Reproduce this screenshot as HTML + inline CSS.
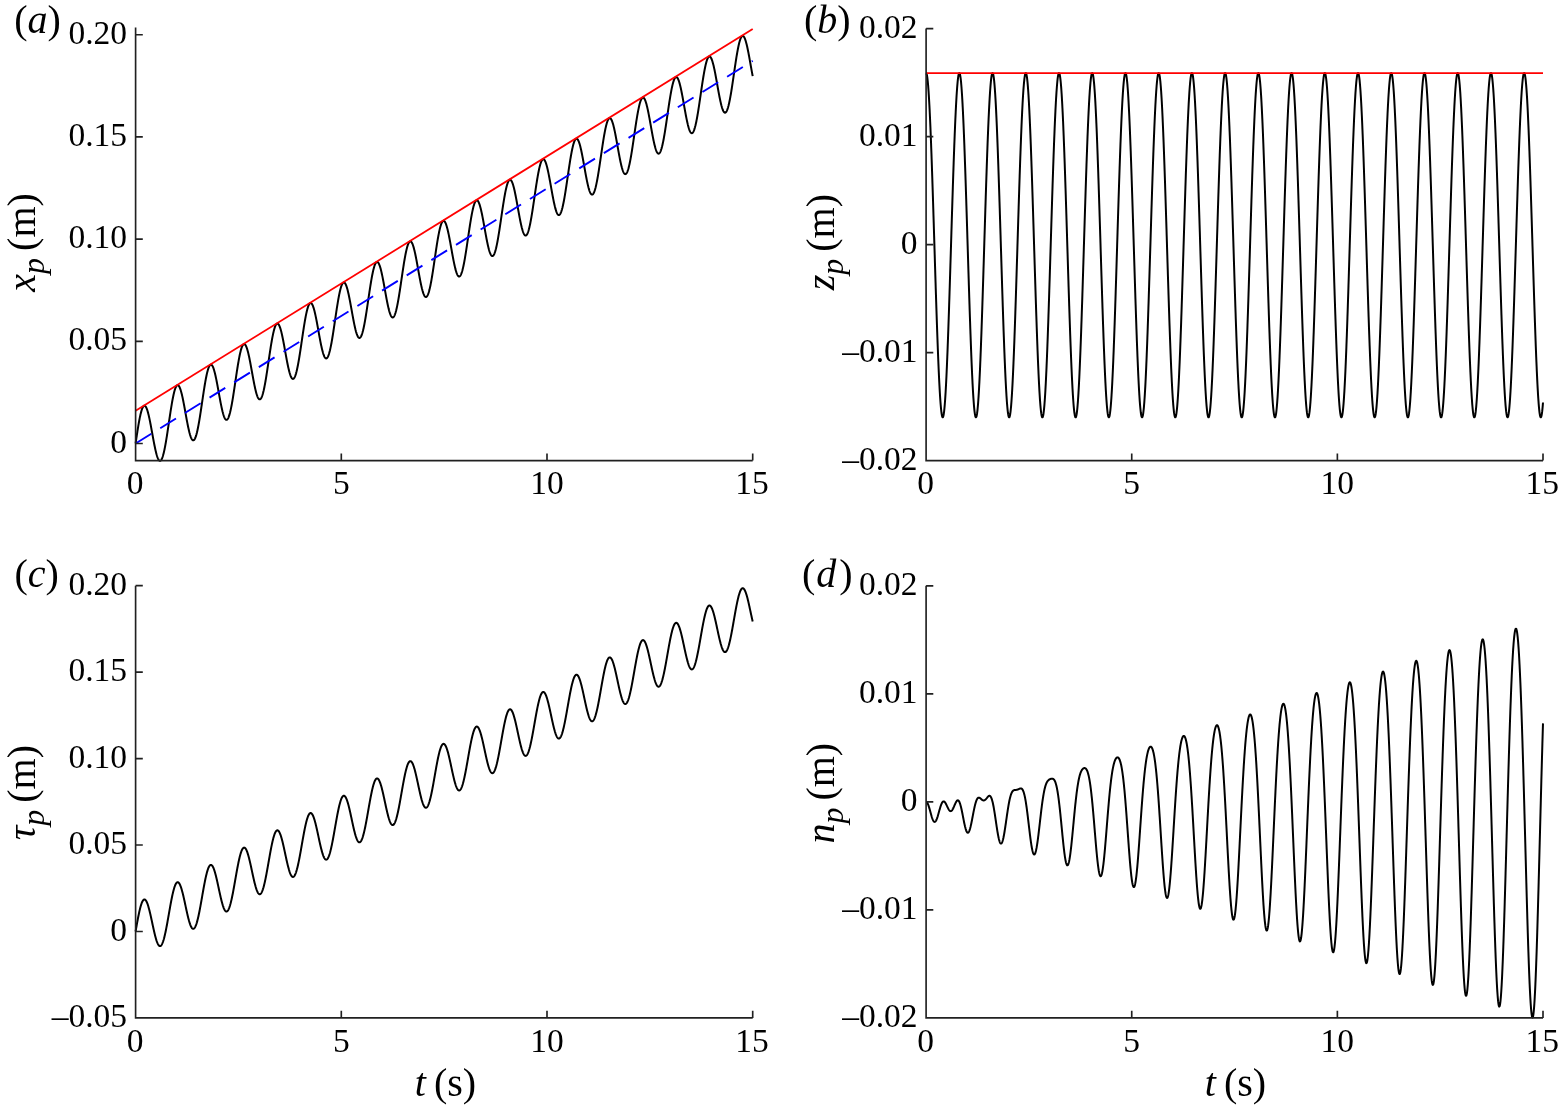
<!DOCTYPE html>
<html lang="en"><head><meta charset="utf-8"><title>Figure</title>
<style>html,body{margin:0;padding:0;background:#fff}svg{display:block}text{font-family:"Liberation Serif","Times New Roman",serif;fill:#000}.tk{font-size:33.5px}.pl{font-size:40px}.al{font-size:40px}.i{font-style:italic}.ax{stroke:#202020;stroke-width:1.65;fill:none}.cv{stroke:#000;stroke-width:2;fill:none;stroke-linejoin:round}</style></head><body>
<svg width="1559" height="1108" viewBox="0 0 1559 1108">
<rect width="1559" height="1108" fill="#fff"/>
<polyline class="cv" points="135.60,443.50 135.81,442.11 136.01,440.72 136.22,439.34 136.42,437.96 136.63,436.59 136.83,435.22 137.04,433.87 137.25,432.54 137.45,431.21 137.66,429.91 137.86,428.62 138.07,427.35 138.27,426.11 138.48,424.89 138.69,423.69 138.89,422.53 139.10,421.39 139.30,420.28 139.51,419.20 139.71,418.15 139.92,417.14 140.13,416.17 140.33,415.23 140.54,414.33 140.74,413.47 140.95,412.66 141.15,411.88 141.36,411.14 141.57,410.45 141.77,409.81 141.98,409.20 142.18,408.65 142.39,408.14 142.59,407.68 142.80,407.26 143.01,406.90 143.21,406.58 143.42,406.31 143.62,406.09 143.83,405.92 144.03,405.80 144.24,405.72 144.45,405.70 144.65,405.73 144.86,405.80 145.06,405.92 145.27,406.09 145.47,406.31 145.68,406.57 145.88,406.88 146.09,407.24 146.30,407.64 146.50,408.09 146.71,408.58 146.91,409.11 147.12,409.68 147.32,410.30 147.53,410.95 147.74,411.64 147.94,412.37 148.15,413.13 148.35,413.93 148.56,414.76 148.76,415.63 148.97,416.52 149.18,417.44 149.38,418.38 149.59,419.36 149.79,420.35 150.00,421.37 150.20,422.41 150.41,423.46 150.62,424.53 150.82,425.62 151.03,426.72 151.23,427.83 151.44,428.95 151.64,430.08 151.85,431.21 152.06,432.35 152.26,433.48 152.47,434.62 152.67,435.76 152.88,436.89 153.08,438.01 153.29,439.13 153.50,440.23 153.70,441.33 153.91,442.41 154.11,443.47 154.32,444.52 154.52,445.55 154.73,446.56 154.94,447.55 155.14,448.51 155.35,449.45 155.55,450.36 155.76,451.24 155.96,452.08 156.17,452.90 156.38,453.69 156.58,454.44 156.79,455.15 156.99,455.82 157.20,456.46 157.40,457.06 157.61,457.62 157.82,458.13 158.02,458.60 158.23,459.03 158.43,459.42 158.64,459.75 158.84,460.05 159.05,460.29 159.26,460.49 159.46,460.64 159.67,460.74 159.87,460.80 160.08,460.80 160.28,460.76 160.49,460.66 160.70,460.52 160.90,460.33 161.11,460.09 161.31,459.80 161.52,459.46 161.72,459.08 161.93,458.64 162.14,458.16 162.34,457.63 162.55,457.06 162.75,456.44 162.96,455.77 163.16,455.06 163.37,454.31 163.58,453.51 163.78,452.68 163.99,451.80 164.19,450.89 164.40,449.93 164.60,448.94 164.81,447.92 165.02,446.86 165.22,445.77 165.43,444.64 165.63,443.49 165.84,442.31 166.04,441.10 166.25,439.87 166.45,438.62 166.66,437.34 166.87,436.05 167.07,434.73 167.28,433.40 167.48,432.06 167.69,430.70 167.89,429.33 168.10,427.96 168.31,426.58 168.51,425.19 168.72,423.80 168.92,422.41 169.13,421.01 169.33,419.63 169.54,418.24 169.75,416.86 169.95,415.50 170.16,414.14 170.36,412.79 170.57,411.46 170.77,410.14 170.98,408.84 171.19,407.56 171.39,406.30 171.60,405.07 171.80,403.86 172.01,402.67 172.21,401.51 172.42,400.39 172.63,399.29 172.83,398.22 173.04,397.19 173.24,396.20 173.45,395.24 173.65,394.31 173.86,393.43 174.07,392.59 174.27,391.79 174.48,391.03 174.68,390.31 174.89,389.64 175.09,389.01 175.30,388.42 175.51,387.89 175.71,387.40 175.92,386.96 176.12,386.56 176.33,386.22 176.53,385.92 176.74,385.67 176.95,385.47 177.15,385.32 177.36,385.22 177.56,385.17 177.77,385.16 177.97,385.21 178.18,385.30 178.39,385.44 178.59,385.64 178.80,385.87 179.00,386.16 179.21,386.49 179.41,386.87 179.62,387.29 179.83,387.75 180.03,388.26 180.24,388.81 180.44,389.40 180.65,390.03 180.85,390.70 181.06,391.41 181.27,392.15 181.47,392.93 181.68,393.75 181.88,394.59 182.09,395.47 182.29,396.37 182.50,397.30 182.71,398.26 182.91,399.25 183.12,400.25 183.32,401.28 183.53,402.33 183.73,403.39 183.94,404.47 184.15,405.56 184.35,406.67 184.56,407.79 184.76,408.91 184.97,410.04 185.17,411.18 185.38,412.31 185.59,413.45 185.79,414.59 186.00,415.72 186.20,416.85 186.41,417.98 186.61,419.09 186.82,420.19 187.02,421.28 187.23,422.36 187.44,423.42 187.64,424.46 187.85,425.48 188.05,426.48 188.26,427.46 188.46,428.41 188.67,429.34 188.88,430.24 189.08,431.11 189.29,431.94 189.49,432.75 189.70,433.52 189.90,434.25 190.11,434.95 190.32,435.61 190.52,436.24 190.73,436.82 190.93,437.36 191.14,437.85 191.34,438.31 191.55,438.72 191.76,439.08 191.96,439.40 192.17,439.68 192.37,439.90 192.58,440.08 192.78,440.21 192.99,440.29 193.20,440.33 193.40,440.31 193.61,440.25 193.81,440.13 194.02,439.97 194.22,439.76 194.43,439.50 194.64,439.19 194.84,438.83 195.05,438.42 195.25,437.97 195.46,437.47 195.66,436.92 195.87,436.32 196.08,435.68 196.28,435.00 196.49,434.27 196.69,433.50 196.90,432.69 197.10,431.83 197.31,430.94 197.52,430.01 197.72,429.04 197.93,428.03 198.13,426.99 198.34,425.92 198.54,424.81 198.75,423.67 198.96,422.51 199.16,421.32 199.37,420.10 199.57,418.85 199.78,417.59 199.98,416.30 200.19,415.00 200.40,413.68 200.60,412.34 200.81,410.99 201.01,409.63 201.22,408.25 201.42,406.87 201.63,405.49 201.84,404.10 202.04,402.70 202.25,401.31 202.45,399.92 202.66,398.53 202.86,397.15 203.07,395.77 203.28,394.41 203.48,393.05 203.69,391.71 203.89,390.38 204.10,389.07 204.30,387.78 204.51,386.51 204.72,385.26 204.92,384.03 205.13,382.83 205.33,381.65 205.54,380.51 205.74,379.39 205.95,378.31 206.16,377.25 206.36,376.24 206.57,375.25 206.77,374.31 206.98,373.40 207.18,372.54 207.39,371.71 207.59,370.92 207.80,370.18 208.01,369.48 208.21,368.83 208.42,368.22 208.62,367.65 208.83,367.14 209.03,366.67 209.24,366.24 209.45,365.87 209.65,365.54 209.86,365.26 210.06,365.04 210.27,364.86 210.47,364.73 210.68,364.65 210.89,364.62 211.09,364.63 211.30,364.70 211.50,364.81 211.71,364.98 211.91,365.19 212.12,365.45 212.33,365.75 212.53,366.10 212.74,366.50 212.94,366.94 213.15,367.42 213.35,367.95 213.56,368.52 213.77,369.13 213.97,369.77 214.18,370.46 214.38,371.18 214.59,371.94 214.79,372.74 215.00,373.57 215.21,374.43 215.41,375.31 215.62,376.23 215.82,377.18 216.03,378.15 216.23,379.14 216.44,380.16 216.65,381.20 216.85,382.25 217.06,383.32 217.26,384.41 217.47,385.51 217.67,386.62 217.88,387.74 218.09,388.87 218.29,390.00 218.50,391.14 218.70,392.28 218.91,393.42 219.11,394.56 219.32,395.69 219.53,396.82 219.73,397.94 219.94,399.05 220.14,400.15 220.35,401.24 220.55,402.31 220.76,403.36 220.97,404.40 221.17,405.41 221.38,406.40 221.58,407.37 221.79,408.32 221.99,409.23 222.20,410.12 222.41,410.97 222.61,411.80 222.82,412.59 223.02,413.35 223.23,414.07 223.43,414.75 223.64,415.40 223.85,416.00 224.05,416.57 224.26,417.09 224.46,417.57 224.67,418.01 224.87,418.40 225.08,418.74 225.29,419.05 225.49,419.30 225.70,419.51 225.90,419.66 226.11,419.78 226.31,419.84 226.52,419.85 226.73,419.81 226.93,419.73 227.14,419.60 227.34,419.41 227.55,419.18 227.75,418.90 227.96,418.57 228.16,418.19 228.37,417.76 228.58,417.29 228.78,416.76 228.99,416.19 229.19,415.58 229.40,414.92 229.60,414.22 229.81,413.47 230.02,412.68 230.22,411.85 230.43,410.98 230.63,410.07 230.84,409.12 231.04,408.13 231.25,407.11 231.46,406.05 231.66,404.97 231.87,403.85 232.07,402.70 232.28,401.52 232.48,400.31 232.69,399.08 232.90,397.83 233.10,396.56 233.31,395.26 233.51,393.95 233.72,392.62 233.92,391.27 234.13,389.92 234.34,388.55 234.54,387.17 234.75,385.79 234.95,384.40 235.16,383.00 235.36,381.61 235.57,380.21 235.78,378.82 235.98,377.44 236.19,376.05 236.39,374.68 236.60,373.32 236.80,371.97 237.01,370.63 237.22,369.31 237.42,368.00 237.63,366.72 237.83,365.45 238.04,364.21 238.24,363.00 238.45,361.80 238.66,360.64 238.86,359.50 239.07,358.40 239.27,357.33 239.48,356.29 239.68,355.29 239.89,354.32 240.10,353.39 240.30,352.50 240.51,351.65 240.71,350.84 240.92,350.07 241.12,349.34 241.33,348.66 241.54,348.02 241.74,347.43 241.95,346.89 242.15,346.39 242.36,345.94 242.56,345.54 242.77,345.18 242.98,344.88 243.18,344.62 243.39,344.41 243.59,344.25 243.80,344.14 244.00,344.09 244.21,344.07 244.42,344.11 244.62,344.20 244.83,344.34 245.03,344.52 245.24,344.75 245.44,345.03 245.65,345.35 245.86,345.72 246.06,346.14 246.27,346.60 246.47,347.10 246.68,347.64 246.88,348.23 247.09,348.86 247.30,349.52 247.50,350.23 247.71,350.97 247.91,351.74 248.12,352.55 248.32,353.39 248.53,354.27 248.74,355.17 248.94,356.10 249.15,357.06 249.35,358.04 249.56,359.04 249.76,360.07 249.97,361.11 250.17,362.18 250.38,363.26 250.59,364.35 250.79,365.46 251.00,366.58 251.20,367.70 251.41,368.83 251.61,369.97 251.82,371.11 252.03,372.25 252.23,373.39 252.44,374.53 252.64,375.66 252.85,376.79 253.05,377.91 253.26,379.01 253.47,380.11 253.67,381.19 253.88,382.26 254.08,383.30 254.29,384.33 254.49,385.34 254.70,386.32 254.91,387.28 255.11,388.21 255.32,389.12 255.52,389.99 255.73,390.84 255.93,391.65 256.14,392.43 256.35,393.17 256.55,393.88 256.76,394.54 256.96,395.17 257.17,395.76 257.37,396.31 257.58,396.82 257.79,397.28 257.99,397.70 258.20,398.07 258.40,398.40 258.61,398.68 258.81,398.91 259.02,399.10 259.23,399.24 259.43,399.33 259.64,399.37 259.84,399.36 260.05,399.31 260.25,399.20 260.46,399.05 260.67,398.84 260.87,398.59 261.08,398.29 261.28,397.94 261.49,397.54 261.69,397.09 261.90,396.59 262.11,396.05 262.31,395.46 262.52,394.83 262.72,394.15 262.93,393.43 263.13,392.66 263.34,391.85 263.55,391.01 263.75,390.12 263.96,389.19 264.16,388.22 264.37,387.22 264.57,386.18 264.78,385.11 264.99,384.01 265.19,382.88 265.40,381.71 265.60,380.52 265.81,379.31 266.01,378.07 266.22,376.80 266.43,375.52 266.63,374.21 266.84,372.89 267.04,371.55 267.25,370.20 267.45,368.84 267.66,367.47 267.87,366.08 268.07,364.70 268.28,363.30 268.48,361.91 268.69,360.51 268.89,359.12 269.10,357.73 269.31,356.34 269.51,354.96 269.72,353.59 269.92,352.23 270.13,350.88 270.33,349.55 270.54,348.24 270.74,346.94 270.95,345.66 271.16,344.40 271.36,343.17 271.57,341.96 271.77,340.78 271.98,339.63 272.18,338.51 272.39,337.41 272.60,336.36 272.80,335.33 273.01,334.34 273.21,333.39 273.42,332.47 273.62,331.60 273.83,330.76 274.04,329.97 274.24,329.22 274.45,328.51 274.65,327.85 274.86,327.23 275.06,326.66 275.27,326.13 275.48,325.65 275.68,325.22 275.89,324.84 276.09,324.51 276.30,324.22 276.50,323.98 276.71,323.80 276.92,323.66 277.12,323.57 277.33,323.53 277.53,323.54 277.74,323.60 277.94,323.71 278.15,323.86 278.36,324.07 278.56,324.32 278.77,324.62 278.97,324.96 279.18,325.35 279.38,325.79 279.59,326.26 279.80,326.79 280.00,327.35 280.21,327.95 280.41,328.60 280.62,329.28 280.82,330.00 281.03,330.75 281.24,331.55 281.44,332.37 281.65,333.23 281.85,334.11 282.06,335.03 282.26,335.97 282.47,336.94 282.68,337.93 282.88,338.95 283.09,339.98 283.29,341.04 283.50,342.11 283.70,343.20 283.91,344.30 284.12,345.41 284.32,346.53 284.53,347.66 284.73,348.80 284.94,349.94 285.14,351.08 285.35,352.22 285.56,353.36 285.76,354.50 285.97,355.63 286.17,356.76 286.38,357.87 286.58,358.97 286.79,360.07 287.00,361.14 287.20,362.20 287.41,363.24 287.61,364.26 287.82,365.26 288.02,366.23 288.23,367.18 288.44,368.10 288.64,369.00 288.85,369.86 289.05,370.69 289.26,371.49 289.46,372.26 289.67,372.99 289.88,373.68 290.08,374.33 290.29,374.94 290.49,375.52 290.70,376.05 290.90,376.53 291.11,376.98 291.31,377.38 291.52,377.73 291.73,378.04 291.93,378.31 292.14,378.52 292.34,378.69 292.55,378.81 292.75,378.88 292.96,378.90 293.17,378.87 293.37,378.79 293.58,378.67 293.78,378.49 293.99,378.27 294.19,377.99 294.40,377.67 294.61,377.30 294.81,376.88 295.02,376.41 295.22,375.89 295.43,375.33 295.63,374.72 295.84,374.07 296.05,373.37 296.25,372.63 296.46,371.85 296.66,371.02 296.87,370.15 297.07,369.25 297.28,368.30 297.49,367.32 297.69,366.30 297.90,365.25 298.10,364.17 298.31,363.05 298.51,361.90 298.72,360.73 298.93,359.52 299.13,358.29 299.34,357.04 299.54,355.77 299.75,354.47 299.95,353.16 300.16,351.83 300.37,350.49 300.57,349.13 300.78,347.76 300.98,346.38 301.19,345.00 301.39,343.60 301.60,342.21 301.81,340.81 302.01,339.41 302.22,338.02 302.42,336.63 302.63,335.24 302.83,333.87 303.04,332.50 303.25,331.15 303.45,329.80 303.66,328.48 303.86,327.17 304.07,325.88 304.27,324.61 304.48,323.36 304.69,322.13 304.89,320.94 305.10,319.77 305.30,318.62 305.51,317.51 305.71,316.43 305.92,315.39 306.13,314.38 306.33,313.40 306.54,312.46 306.74,311.56 306.95,310.71 307.15,309.89 307.36,309.11 307.57,308.38 307.77,307.69 307.98,307.04 308.18,306.44 308.39,305.89 308.59,305.38 308.80,304.93 309.01,304.51 309.21,304.15 309.42,303.84 309.62,303.57 309.83,303.36 310.03,303.19 310.24,303.07 310.44,303.01 310.65,302.99 310.86,303.02 311.06,303.10 311.27,303.23 311.47,303.40 311.68,303.63 311.88,303.90 312.09,304.22 312.30,304.58 312.50,304.99 312.71,305.44 312.91,305.94 313.12,306.48 313.32,307.06 313.53,307.68 313.74,308.34 313.94,309.04 314.15,309.78 314.35,310.55 314.56,311.36 314.76,312.19 314.97,313.06 315.18,313.96 315.38,314.89 315.59,315.85 315.79,316.83 316.00,317.83 316.20,318.86 316.41,319.90 316.62,320.97 316.82,322.05 317.03,323.14 317.23,324.25 317.44,325.36 317.64,326.49 317.85,327.63 318.06,328.76 318.26,329.91 318.47,331.05 318.67,332.19 318.88,333.33 319.08,334.47 319.29,335.60 319.50,336.72 319.70,337.83 319.91,338.93 320.11,340.02 320.32,341.09 320.52,342.14 320.73,343.18 320.94,344.19 321.14,345.18 321.35,346.14 321.55,347.08 321.76,347.99 321.96,348.88 322.17,349.73 322.38,350.55 322.58,351.33 322.79,352.08 322.99,352.80 323.20,353.47 323.40,354.11 323.61,354.71 323.82,355.26 324.02,355.78 324.23,356.25 324.43,356.67 324.64,357.06 324.84,357.39 325.05,357.68 325.26,357.92 325.46,358.12 325.67,358.27 325.87,358.36 326.08,358.41 326.28,358.42 326.49,358.37 326.70,358.27 326.90,358.12 327.11,357.93 327.31,357.68 327.52,357.38 327.72,357.04 327.93,356.65 328.14,356.21 328.34,355.72 328.55,355.18 328.75,354.60 328.96,353.97 329.16,353.30 329.37,352.59 329.58,351.82 329.78,351.02 329.99,350.18 330.19,349.29 330.40,348.37 330.60,347.41 330.81,346.41 331.01,345.38 331.22,344.31 331.43,343.21 331.63,342.08 331.84,340.92 332.04,339.73 332.25,338.52 332.45,337.28 332.66,336.01 332.87,334.73 333.07,333.43 333.28,332.11 333.48,330.77 333.69,329.42 333.89,328.05 334.10,326.68 334.31,325.29 334.51,323.90 334.72,322.51 334.92,321.11 335.13,319.71 335.33,318.32 335.54,316.92 335.75,315.53 335.95,314.15 336.16,312.78 336.36,311.41 336.57,310.06 336.77,308.72 336.98,307.40 337.19,306.10 337.39,304.82 337.60,303.55 337.80,302.31 338.01,301.10 338.21,299.91 338.42,298.75 338.63,297.62 338.83,296.52 339.04,295.46 339.24,294.42 339.45,293.43 339.65,292.47 339.86,291.55 340.07,290.66 340.27,289.82 340.48,289.02 340.68,288.26 340.89,287.54 341.09,286.87 341.30,286.25 341.51,285.66 341.71,285.13 341.92,284.64 342.12,284.20 342.33,283.81 342.53,283.47 342.74,283.18 342.95,282.93 343.15,282.74 343.36,282.59 343.56,282.50 343.77,282.45 343.97,282.45 344.18,282.50 344.39,282.60 344.59,282.75 344.80,282.95 345.00,283.19 345.21,283.49 345.41,283.82 345.62,284.21 345.83,284.64 346.03,285.11 346.24,285.62 346.44,286.18 346.65,286.78 346.85,287.42 347.06,288.10 347.27,288.81 347.47,289.56 347.68,290.35 347.88,291.17 348.09,292.03 348.29,292.91 348.50,293.82 348.71,294.76 348.91,295.73 349.12,296.72 349.32,297.74 349.53,298.77 349.73,299.83 349.94,300.90 350.15,301.98 350.35,303.09 350.56,304.20 350.76,305.32 350.97,306.45 351.17,307.59 351.38,308.73 351.59,309.88 351.79,311.02 352.00,312.17 352.20,313.31 352.41,314.44 352.61,315.57 352.82,316.69 353.02,317.80 353.23,318.89 353.44,319.97 353.64,321.04 353.85,322.08 354.05,323.11 354.26,324.11 354.46,325.09 354.67,326.05 354.88,326.98 355.08,327.88 355.29,328.75 355.49,329.59 355.70,330.39 355.90,331.16 356.11,331.90 356.32,332.60 356.52,333.26 356.73,333.88 356.93,334.46 357.14,335.00 357.34,335.50 357.55,335.95 357.76,336.36 357.96,336.72 358.17,337.04 358.37,337.31 358.58,337.53 358.78,337.71 358.99,337.84 359.20,337.91 359.40,337.94 359.61,337.92 359.81,337.86 360.02,337.74 360.22,337.57 360.43,337.35 360.64,337.08 360.84,336.77 361.05,336.40 361.25,335.99 361.46,335.53 361.66,335.02 361.87,334.47 362.08,333.86 362.28,333.22 362.49,332.53 362.69,331.79 362.90,331.01 363.10,330.19 363.31,329.33 363.52,328.43 363.72,327.49 363.93,326.51 364.13,325.50 364.34,324.45 364.54,323.36 364.75,322.25 364.96,321.11 365.16,319.93 365.37,318.73 365.57,317.51 365.78,316.25 365.98,314.98 366.19,313.69 366.40,312.38 366.60,311.05 366.81,309.70 367.01,308.34 367.22,306.97 367.42,305.59 367.63,304.21 367.84,302.81 368.04,301.42 368.25,300.02 368.45,298.62 368.66,297.22 368.86,295.82 369.07,294.44 369.28,293.06 369.48,291.68 369.69,290.32 369.89,288.98 370.10,287.65 370.30,286.33 370.51,285.03 370.72,283.76 370.92,282.50 371.13,281.27 371.33,280.07 371.54,278.89 371.74,277.74 371.95,276.63 372.15,275.54 372.36,274.49 372.57,273.47 372.77,272.49 372.98,271.54 373.18,270.63 373.39,269.77 373.59,268.94 373.80,268.16 374.01,267.41 374.21,266.72 374.42,266.06 374.62,265.46 374.83,264.89 375.03,264.38 375.24,263.91 375.45,263.49 375.65,263.12 375.86,262.80 376.06,262.53 376.27,262.30 376.47,262.13 376.68,262.00 376.89,261.93 377.09,261.90 377.30,261.93 377.50,262.00 377.71,262.12 377.91,262.29 378.12,262.51 378.33,262.77 378.53,263.08 378.74,263.44 378.94,263.84 379.15,264.29 379.35,264.78 379.56,265.32 379.77,265.89 379.97,266.51 380.18,267.16 380.38,267.86 380.59,268.59 380.79,269.36 381.00,270.16 381.21,271.00 381.41,271.86 381.62,272.76 381.82,273.69 382.03,274.64 382.23,275.62 382.44,276.62 382.65,277.64 382.85,278.69 383.06,279.75 383.26,280.83 383.47,281.93 383.67,283.03 383.88,284.15 384.09,285.28 384.29,286.42 384.50,287.56 384.70,288.70 384.91,289.85 385.11,290.99 385.32,292.14 385.53,293.28 385.73,294.41 385.94,295.54 386.14,296.65 386.35,297.76 386.55,298.85 386.76,299.92 386.97,300.98 387.17,302.02 387.38,303.04 387.58,304.03 387.79,305.01 387.99,305.95 388.20,306.87 388.41,307.76 388.61,308.62 388.82,309.44 389.02,310.24 389.23,310.99 389.43,311.71 389.64,312.40 389.85,313.04 390.05,313.65 390.26,314.21 390.46,314.73 390.67,315.21 390.87,315.65 391.08,316.04 391.29,316.38 391.49,316.68 391.70,316.93 391.90,317.14 392.11,317.29 392.31,317.40 392.52,317.46 392.73,317.46 392.93,317.42 393.14,317.33 393.34,317.20 393.55,317.01 393.75,316.77 393.96,316.48 394.16,316.14 394.37,315.76 394.58,315.33 394.78,314.84 394.99,314.32 395.19,313.74 395.40,313.12 395.60,312.45 395.81,311.74 396.02,310.99 396.22,310.19 396.43,309.35 396.63,308.47 396.84,307.55 397.04,306.60 397.25,305.60 397.46,304.57 397.66,303.51 397.87,302.41 398.07,301.28 398.28,300.13 398.48,298.94 398.69,297.73 398.90,296.49 399.10,295.23 399.31,293.94 399.51,292.64 399.72,291.32 399.92,289.98 400.13,288.63 400.34,287.27 400.54,285.89 400.75,284.51 400.95,283.11 401.16,281.72 401.36,280.32 401.57,278.92 401.78,277.52 401.98,276.12 402.19,274.73 402.39,273.34 402.60,271.96 402.80,270.59 403.01,269.24 403.22,267.90 403.42,266.57 403.63,265.26 403.83,263.97 404.04,262.70 404.24,261.46 404.45,260.24 404.66,259.04 404.86,257.88 405.07,256.74 405.27,255.63 405.48,254.56 405.68,253.52 405.89,252.52 406.10,251.55 406.30,250.62 406.51,249.73 406.71,248.88 406.92,248.07 407.12,247.30 407.33,246.58 407.54,245.90 407.74,245.26 407.95,244.67 408.15,244.13 408.36,243.64 408.56,243.19 408.77,242.79 408.98,242.44 409.18,242.14 409.39,241.88 409.59,241.68 409.80,241.53 410.00,241.42 410.21,241.37 410.42,241.36 410.62,241.41 410.83,241.50 411.03,241.64 411.24,241.83 411.44,242.07 411.65,242.35 411.86,242.69 412.06,243.06 412.27,243.49 412.47,243.95 412.68,244.46 412.88,245.01 413.09,245.61 413.29,246.24 413.50,246.92 413.71,247.63 413.91,248.38 414.12,249.16 414.32,249.98 414.53,250.83 414.73,251.71 414.94,252.62 415.15,253.56 415.35,254.52 415.56,255.51 415.76,256.52 415.97,257.56 416.17,258.61 416.38,259.68 416.59,260.77 416.79,261.87 417.00,262.99 417.20,264.11 417.41,265.24 417.61,266.38 417.82,267.53 418.03,268.67 418.23,269.82 418.44,270.97 418.64,272.11 418.85,273.25 419.05,274.38 419.26,275.51 419.47,276.62 419.67,277.72 419.88,278.80 420.08,279.87 420.29,280.92 420.49,281.96 420.70,282.97 420.91,283.95 421.11,284.91 421.32,285.85 421.52,286.76 421.73,287.63 421.93,288.48 422.14,289.29 422.35,290.07 422.55,290.82 422.76,291.52 422.96,292.19 423.17,292.82 423.37,293.41 423.58,293.96 423.79,294.46 423.99,294.92 424.20,295.34 424.40,295.71 424.61,296.04 424.81,296.31 425.02,296.55 425.23,296.73 425.43,296.86 425.64,296.95 425.84,296.99 426.05,296.98 426.25,296.92 426.46,296.81 426.67,296.65 426.87,296.44 427.08,296.18 427.28,295.87 427.49,295.51 427.69,295.11 427.90,294.65 428.11,294.15 428.31,293.60 428.52,293.01 428.72,292.36 428.93,291.68 429.13,290.95 429.34,290.18 429.55,289.36 429.75,288.50 429.96,287.61 430.16,286.67 430.37,285.70 430.57,284.69 430.78,283.64 430.99,282.56 431.19,281.45 431.40,280.31 431.60,279.14 431.81,277.94 432.01,276.72 432.22,275.47 432.43,274.20 432.63,272.90 432.84,271.59 433.04,270.26 433.25,268.92 433.45,267.56 433.66,266.19 433.87,264.81 434.07,263.42 434.28,262.02 434.48,260.62 434.69,259.22 434.89,257.82 435.10,256.42 435.30,255.02 435.51,253.63 435.72,252.24 435.92,250.87 436.13,249.50 436.33,248.15 436.54,246.82 436.74,245.50 436.95,244.19 437.16,242.91 437.36,241.65 437.57,240.42 437.77,239.21 437.98,238.02 438.18,236.87 438.39,235.74 438.60,234.65 438.80,233.59 439.01,232.56 439.21,231.57 439.42,230.62 439.62,229.70 439.83,228.83 440.04,227.99 440.24,227.20 440.45,226.45 440.65,225.75 440.86,225.08 441.06,224.47 441.27,223.90 441.48,223.38 441.68,222.90 441.89,222.47 442.09,222.09 442.30,221.76 442.50,221.48 442.71,221.25 442.92,221.07 443.12,220.93 443.33,220.85 443.53,220.82 443.74,220.83 443.94,220.90 444.15,221.01 444.36,221.17 444.56,221.38 444.77,221.64 444.97,221.95 445.18,222.30 445.38,222.70 445.59,223.14 445.80,223.62 446.00,224.15 446.21,224.72 446.41,225.33 446.62,225.99 446.82,226.68 447.03,227.40 447.24,228.17 447.44,228.97 447.65,229.80 447.85,230.66 448.06,231.56 448.26,232.48 448.47,233.43 448.68,234.41 448.88,235.41 449.09,236.43 449.29,237.48 449.50,238.54 449.70,239.62 449.91,240.71 450.12,241.82 450.32,242.94 450.53,244.07 450.73,245.21 450.94,246.35 451.14,247.50 451.35,248.65 451.56,249.79 451.76,250.94 451.97,252.08 452.17,253.22 452.38,254.35 452.58,255.47 452.79,256.58 453.00,257.68 453.20,258.76 453.41,259.82 453.61,260.86 453.82,261.89 454.02,262.89 454.23,263.87 454.43,264.82 454.64,265.74 454.85,266.64 455.05,267.50 455.26,268.34 455.46,269.14 455.67,269.90 455.87,270.63 456.08,271.32 456.29,271.98 456.49,272.59 456.70,273.16 456.90,273.69 457.11,274.18 457.31,274.62 457.52,275.02 457.73,275.37 457.93,275.68 458.14,275.94 458.34,276.15 458.55,276.31 458.75,276.43 458.96,276.50 459.17,276.51 459.37,276.48 459.58,276.40 459.78,276.27 459.99,276.09 460.19,275.86 460.40,275.58 460.61,275.25 460.81,274.87 461.02,274.44 461.22,273.97 461.43,273.45 461.63,272.88 461.84,272.26 462.05,271.60 462.25,270.90 462.46,270.15 462.66,269.36 462.87,268.52 463.07,267.65 463.28,266.73 463.49,265.78 463.69,264.79 463.90,263.77 464.10,262.71 464.31,261.61 464.51,260.49 464.72,259.33 464.93,258.15 465.13,256.94 465.34,255.70 465.54,254.44 465.75,253.16 465.95,251.86 466.16,250.54 466.37,249.20 466.57,247.85 466.78,246.48 466.98,245.10 467.19,243.72 467.39,242.33 467.60,240.93 467.81,239.53 468.01,238.12 468.22,236.72 468.42,235.32 468.63,233.92 468.83,232.53 469.04,231.15 469.25,229.78 469.45,228.42 469.66,227.07 469.86,225.74 470.07,224.42 470.27,223.13 470.48,221.86 470.69,220.60 470.89,219.38 471.10,218.18 471.30,217.00 471.51,215.86 471.71,214.75 471.92,213.67 472.13,212.62 472.33,211.61 472.54,210.63 472.74,209.69 472.95,208.79 473.15,207.94 473.36,207.12 473.57,206.34 473.77,205.61 473.98,204.92 474.18,204.28 474.39,203.68 474.59,203.13 474.80,202.63 475.00,202.17 475.21,201.77 475.42,201.41 475.62,201.10 475.83,200.84 476.03,200.62 476.24,200.46 476.44,200.35 476.65,200.29 476.86,200.28 477.06,200.31 477.27,200.40 477.47,200.53 477.68,200.71 477.88,200.95 478.09,201.22 478.30,201.55 478.50,201.92 478.71,202.34 478.91,202.80 479.12,203.30 479.32,203.85 479.53,204.44 479.74,205.07 479.94,205.74 480.15,206.44 480.35,207.19 480.56,207.97 480.76,208.78 480.97,209.63 481.18,210.51 481.38,211.41 481.59,212.35 481.79,213.31 482.00,214.30 482.20,215.31 482.41,216.35 482.62,217.40 482.82,218.47 483.03,219.56 483.23,220.66 483.44,221.77 483.64,222.90 483.85,224.03 484.06,225.17 484.26,226.32 484.47,227.47 484.67,228.62 484.88,229.77 485.08,230.92 485.29,232.06 485.50,233.19 485.70,234.32 485.91,235.44 486.11,236.54 486.32,237.63 486.52,238.71 486.73,239.76 486.94,240.80 487.14,241.82 487.35,242.81 487.55,243.78 487.76,244.72 487.96,245.63 488.17,246.52 488.38,247.37 488.58,248.19 488.79,248.98 488.99,249.73 489.20,250.44 489.40,251.12 489.61,251.76 489.82,252.35 490.02,252.91 490.23,253.42 490.43,253.89 490.64,254.32 490.84,254.69 491.05,255.03 491.26,255.32 491.46,255.56 491.67,255.75 491.87,255.89 492.08,255.99 492.28,256.03 492.49,256.03 492.70,255.98 492.90,255.87 493.11,255.72 493.31,255.52 493.52,255.27 493.72,254.97 493.93,254.62 494.14,254.22 494.34,253.77 494.55,253.28 494.75,252.73 494.96,252.15 495.16,251.51 495.37,250.83 495.58,250.11 495.78,249.34 495.99,248.53 496.19,247.68 496.40,246.79 496.60,245.85 496.81,244.88 497.01,243.88 497.22,242.84 497.43,241.76 497.63,240.65 497.84,239.52 498.04,238.35 498.25,237.15 498.45,235.93 498.66,234.68 498.87,233.41 499.07,232.12 499.28,230.81 499.48,229.48 499.69,228.13 499.89,226.77 500.10,225.40 500.31,224.02 500.51,222.63 500.72,221.23 500.92,219.83 501.13,218.43 501.33,217.02 501.54,215.62 501.75,214.22 501.95,212.82 502.16,211.43 502.36,210.05 502.57,208.69 502.77,207.33 502.98,205.99 503.19,204.66 503.39,203.36 503.60,202.07 503.80,200.80 504.01,199.56 504.21,198.34 504.42,197.15 504.63,195.99 504.83,194.86 505.04,193.76 505.24,192.69 505.45,191.66 505.65,190.66 505.86,189.70 506.07,188.78 506.27,187.89 506.48,187.05 506.68,186.25 506.89,185.49 507.09,184.78 507.30,184.11 507.51,183.48 507.71,182.90 507.92,182.37 508.12,181.89 508.33,181.45 508.53,181.07 508.74,180.73 508.95,180.44 509.15,180.20 509.36,180.01 509.56,179.87 509.77,179.78 509.97,179.73 510.18,179.74 510.39,179.80 510.59,179.91 510.80,180.06 511.00,180.26 511.21,180.52 511.41,180.81 511.62,181.16 511.83,181.55 512.03,181.99 512.24,182.47 512.44,182.99 512.65,183.55 512.85,184.16 513.06,184.81 513.27,185.49 513.47,186.22 513.68,186.98 513.88,187.77 514.09,188.60 514.29,189.46 514.50,190.35 514.71,191.28 514.91,192.22 515.12,193.20 515.32,194.20 515.53,195.22 515.73,196.26 515.94,197.33 516.14,198.40 516.35,199.50 516.56,200.61 516.76,201.73 516.97,202.86 517.17,204.00 517.38,205.14 517.58,206.29 517.79,207.44 518.00,208.59 518.20,209.74 518.41,210.89 518.61,212.03 518.82,213.16 519.02,214.29 519.23,215.40 519.44,216.50 519.64,217.59 519.85,218.66 520.05,219.71 520.26,220.73 520.46,221.74 520.67,222.73 520.88,223.68 521.08,224.62 521.29,225.52 521.49,226.39 521.70,227.23 521.90,228.04 522.11,228.81 522.32,229.55 522.52,230.25 522.73,230.91 522.93,231.53 523.14,232.11 523.34,232.65 523.55,233.14 523.76,233.59 523.96,234.00 524.17,234.36 524.37,234.68 524.58,234.94 524.78,235.16 524.99,235.34 525.20,235.46 525.40,235.53 525.61,235.56 525.81,235.54 526.02,235.46 526.22,235.34 526.43,235.17 526.64,234.94 526.84,234.67 527.05,234.35 527.25,233.98 527.46,233.56 527.66,233.09 527.87,232.58 528.08,232.01 528.28,231.41 528.49,230.75 528.69,230.05 528.90,229.31 529.10,228.52 529.31,227.69 529.52,226.82 529.72,225.91 529.93,224.97 530.13,223.98 530.34,222.96 530.54,221.90 530.75,220.81 530.96,219.69 531.16,218.54 531.37,217.36 531.57,216.15 531.78,214.91 531.98,213.65 532.19,212.37 532.40,211.07 532.60,209.75 532.81,208.41 533.01,207.06 533.22,205.70 533.42,204.32 533.63,202.93 533.84,201.54 534.04,200.14 534.25,198.73 534.45,197.33 534.66,195.92 534.86,194.52 535.07,193.12 535.28,191.72 535.48,190.34 535.69,188.96 535.89,187.60 536.10,186.24 536.30,184.91 536.51,183.59 536.72,182.29 536.92,181.01 537.13,179.75 537.33,178.52 537.54,177.31 537.74,176.13 537.95,174.98 538.15,173.86 538.36,172.77 538.57,171.72 538.77,170.70 538.98,169.72 539.18,168.77 539.39,167.86 539.59,167.00 539.80,166.17 540.01,165.39 540.21,164.65 540.42,163.95 540.62,163.30 540.83,162.69 541.03,162.14 541.24,161.62 541.45,161.16 541.65,160.74 541.86,160.38 542.06,160.06 542.27,159.79 542.47,159.57 542.68,159.40 542.89,159.28 543.09,159.21 543.30,159.19 543.50,159.22 543.71,159.30 543.91,159.42 544.12,159.60 544.33,159.82 544.53,160.09 544.74,160.41 544.94,160.78 545.15,161.19 545.35,161.64 545.56,162.14 545.77,162.68 545.97,163.27 546.18,163.89 546.38,164.56 546.59,165.26 546.79,166.00 547.00,166.77 547.21,167.58 547.41,168.43 547.62,169.30 547.82,170.21 548.03,171.14 548.23,172.10 548.44,173.09 548.65,174.10 548.85,175.13 549.06,176.19 549.26,177.26 549.47,178.34 549.67,179.45 549.88,180.56 550.09,181.69 550.29,182.82 550.50,183.96 550.70,185.11 550.91,186.26 551.11,187.42 551.32,188.57 551.53,189.72 551.73,190.86 551.94,192.00 552.14,193.13 552.35,194.26 552.55,195.36 552.76,196.46 552.97,197.54 553.17,198.60 553.38,199.64 553.58,200.67 553.79,201.67 553.99,202.64 554.20,203.59 554.41,204.51 554.61,205.40 554.82,206.26 555.02,207.09 555.23,207.88 555.43,208.64 555.64,209.36 555.85,210.05 556.05,210.69 556.26,211.30 556.46,211.86 556.67,212.38 556.87,212.86 557.08,213.29 557.28,213.68 557.49,214.02 557.70,214.32 557.90,214.56 558.11,214.76 558.31,214.92 558.52,215.02 558.72,215.07 558.93,215.08 559.14,215.03 559.34,214.94 559.55,214.79 559.75,214.60 559.96,214.36 560.16,214.06 560.37,213.72 560.58,213.33 560.78,212.89 560.99,212.40 561.19,211.87 561.40,211.28 561.60,210.66 561.81,209.98 562.02,209.26 562.22,208.50 562.43,207.70 562.63,206.85 562.84,205.96 563.04,205.04 563.25,204.07 563.46,203.07 563.66,202.03 563.87,200.96 564.07,199.86 564.28,198.72 564.48,197.55 564.69,196.36 564.90,195.14 565.10,193.89 565.31,192.62 565.51,191.33 565.72,190.02 565.92,188.69 566.13,187.35 566.34,185.99 566.54,184.62 566.75,183.23 566.95,181.84 567.16,180.44 567.36,179.04 567.57,177.63 567.78,176.23 567.98,174.82 568.19,173.42 568.39,172.02 568.60,170.62 568.80,169.24 569.01,167.87 569.22,166.51 569.42,165.16 569.63,163.83 569.83,162.52 570.04,161.22 570.24,159.95 570.45,158.70 570.66,157.48 570.86,156.28 571.07,155.12 571.27,153.98 571.48,152.87 571.68,151.79 571.89,150.75 572.10,149.75 572.30,148.78 572.51,147.85 572.71,146.96 572.92,146.11 573.12,145.30 573.33,144.53 573.54,143.81 573.74,143.13 573.95,142.50 574.15,141.91 574.36,141.37 574.56,140.88 574.77,140.44 574.98,140.04 575.18,139.69 575.39,139.40 575.59,139.15 575.80,138.95 576.00,138.80 576.21,138.70 576.42,138.65 576.62,138.65 576.83,138.70 577.03,138.80 577.24,138.95 577.44,139.15 577.65,139.39 577.86,139.68 578.06,140.02 578.27,140.40 578.47,140.83 578.68,141.31 578.88,141.83 579.09,142.39 579.29,142.99 579.50,143.63 579.71,144.31 579.91,145.03 580.12,145.79 580.32,146.58 580.53,147.40 580.73,148.26 580.94,149.15 581.15,150.07 581.35,151.02 581.56,151.99 581.76,152.99 581.97,154.01 582.17,155.05 582.38,156.11 582.59,157.19 582.79,158.29 583.00,159.39 583.20,160.52 583.41,161.65 583.61,162.79 583.82,163.93 584.03,165.08 584.23,166.24 584.44,167.39 584.64,168.54 584.85,169.69 585.05,170.84 585.26,171.98 585.47,173.10 585.67,174.22 585.88,175.33 586.08,176.42 586.29,177.49 586.49,178.55 586.70,179.58 586.91,180.59 587.11,181.58 587.32,182.55 587.52,183.49 587.73,184.40 587.93,185.28 588.14,186.12 588.35,186.94 588.55,187.72 588.76,188.46 588.96,189.17 589.17,189.84 589.37,190.47 589.58,191.06 589.79,191.60 589.99,192.11 590.20,192.56 590.40,192.98 590.61,193.35 590.81,193.67 591.02,193.95 591.23,194.18 591.43,194.36 591.64,194.49 591.84,194.57 592.05,194.61 592.25,194.59 592.46,194.52 592.67,194.41 592.87,194.24 593.08,194.03 593.28,193.76 593.49,193.45 593.69,193.09 593.90,192.67 594.11,192.21 594.31,191.70 594.52,191.15 594.72,190.55 594.93,189.90 595.13,189.21 595.34,188.47 595.55,187.69 595.75,186.86 595.96,186.00 596.16,185.10 596.37,184.15 596.57,183.17 596.78,182.15 596.99,181.10 597.19,180.01 597.40,178.89 597.60,177.74 597.81,176.56 598.01,175.36 598.22,174.12 598.42,172.87 598.63,171.59 598.84,170.29 599.04,168.97 599.25,167.63 599.45,166.28 599.66,164.91 599.86,163.53 600.07,162.14 600.28,160.75 600.48,159.35 600.69,157.94 600.89,156.53 601.10,155.12 601.30,153.72 601.51,152.31 601.72,150.92 601.92,149.53 602.13,148.15 602.33,146.78 602.54,145.42 602.74,144.08 602.95,142.75 603.16,141.45 603.36,140.16 603.57,138.90 603.77,137.66 603.98,136.45 604.18,135.26 604.39,134.10 604.60,132.98 604.80,131.88 605.01,130.82 605.21,129.79 605.42,128.80 605.62,127.85 605.83,126.93 606.04,126.06 606.24,125.22 606.45,124.43 606.65,123.68 606.86,122.98 607.06,122.32 607.27,121.71 607.48,121.14 607.68,120.62 607.89,120.15 608.09,119.72 608.30,119.35 608.50,119.02 608.71,118.74 608.92,118.52 609.12,118.34 609.33,118.21 609.53,118.13 609.74,118.10 609.94,118.13 610.15,118.20 610.36,118.32 610.56,118.48 610.77,118.70 610.97,118.97 611.18,119.28 611.38,119.64 611.59,120.04 611.80,120.49 612.00,120.98 612.21,121.52 612.41,122.10 612.62,122.72 612.82,123.38 613.03,124.07 613.24,124.81 613.44,125.58 613.65,126.39 613.85,127.23 614.06,128.10 614.26,129.00 614.47,129.94 614.68,130.89 614.88,131.88 615.09,132.89 615.29,133.92 615.50,134.97 615.70,136.04 615.91,137.13 616.12,138.23 616.32,139.35 616.53,140.47 616.73,141.61 616.94,142.75 617.14,143.90 617.35,145.06 617.56,146.21 617.76,147.37 617.97,148.52 618.17,149.67 618.38,150.81 618.58,151.95 618.79,153.07 619.00,154.19 619.20,155.29 619.41,156.37 619.61,157.44 619.82,158.49 620.02,159.51 620.23,160.52 620.43,161.50 620.64,162.45 620.85,163.38 621.05,164.28 621.26,165.15 621.46,165.98 621.67,166.78 621.87,167.55 622.08,168.28 622.29,168.97 622.49,169.62 622.70,170.24 622.90,170.81 623.11,171.34 623.31,171.82 623.52,172.26 623.73,172.66 623.93,173.01 624.14,173.32 624.34,173.57 624.55,173.78 624.75,173.94 624.96,174.05 625.17,174.11 625.37,174.13 625.58,174.09 625.78,174.00 625.99,173.87 626.19,173.68 626.40,173.45 626.61,173.16 626.81,172.82 627.02,172.44 627.22,172.01 627.43,171.53 627.63,171.00 627.84,170.42 628.05,169.80 628.25,169.13 628.46,168.42 628.66,167.66 628.87,166.86 629.07,166.02 629.28,165.14 629.49,164.22 629.69,163.26 629.90,162.26 630.10,161.23 630.31,160.16 630.51,159.06 630.72,157.92 630.93,156.76 631.13,155.57 631.34,154.35 631.54,153.11 631.75,151.84 631.95,150.55 632.16,149.24 632.37,147.91 632.57,146.56 632.78,145.20 632.98,143.83 633.19,142.45 633.39,141.05 633.60,139.65 633.81,138.25 634.01,136.84 634.22,135.43 634.42,134.02 634.63,132.61 634.83,131.21 635.04,129.82 635.25,128.43 635.45,127.05 635.66,125.69 635.86,124.33 636.07,123.00 636.27,121.68 636.48,120.38 636.69,119.10 636.89,117.85 637.10,116.62 637.30,115.42 637.51,114.24 637.71,113.10 637.92,111.98 638.13,110.90 638.33,109.85 638.54,108.84 638.74,107.86 638.95,106.92 639.15,106.02 639.36,105.17 639.57,104.35 639.77,103.57 639.98,102.84 640.18,102.16 640.39,101.52 640.59,100.92 640.80,100.37 641.00,99.87 641.21,99.42 641.42,99.02 641.62,98.66 641.83,98.36 642.03,98.10 642.24,97.89 642.44,97.74 642.65,97.63 642.86,97.57 643.06,97.56 643.27,97.61 643.47,97.70 643.68,97.84 643.88,98.03 644.09,98.27 644.30,98.55 644.50,98.88 644.71,99.26 644.91,99.68 645.12,100.15 645.32,100.66 645.53,101.22 645.74,101.82 645.94,102.45 646.15,103.13 646.35,103.84 646.56,104.60 646.76,105.38 646.97,106.21 647.18,107.06 647.38,107.95 647.59,108.86 647.79,109.81 648.00,110.78 648.20,111.78 648.41,112.79 648.62,113.84 648.82,114.90 649.03,115.98 649.23,117.07 649.44,118.18 649.64,119.30 649.85,120.43 650.06,121.58 650.26,122.72 650.47,123.88 650.67,125.03 650.88,126.19 651.08,127.34 651.29,128.50 651.50,129.65 651.70,130.79 651.91,131.92 652.11,133.04 652.32,134.15 652.52,135.25 652.73,136.32 652.94,137.38 653.14,138.43 653.35,139.45 653.55,140.44 653.76,141.41 653.96,142.36 654.17,143.27 654.38,144.16 654.58,145.01 654.79,145.84 654.99,146.62 655.20,147.38 655.40,148.09 655.61,148.77 655.82,149.40 656.02,150.00 656.23,150.55 656.43,151.07 656.64,151.53 656.84,151.96 657.05,152.33 657.26,152.67 657.46,152.95 657.67,153.19 657.87,153.38 658.08,153.52 658.28,153.61 658.49,153.65 658.70,153.64 658.90,153.58 659.11,153.48 659.31,153.32 659.52,153.11 659.72,152.85 659.93,152.55 660.13,152.19 660.34,151.79 660.55,151.33 660.75,150.83 660.96,150.28 661.16,149.69 661.37,149.05 661.57,148.36 661.78,147.63 661.99,146.85 662.19,146.03 662.40,145.17 662.60,144.27 662.81,143.34 663.01,142.36 663.22,141.34 663.43,140.30 663.63,139.21 663.84,138.10 664.04,136.95 664.25,135.77 664.45,134.57 664.66,133.34 664.87,132.08 665.07,130.80 665.28,129.50 665.48,128.18 665.69,126.85 665.89,125.49 666.10,124.13 666.31,122.75 666.51,121.36 666.72,119.96 666.92,118.56 667.13,117.15 667.33,115.74 667.54,114.33 667.75,112.92 667.95,111.51 668.16,110.11 668.36,108.72 668.57,107.33 668.77,105.96 668.98,104.60 669.19,103.25 669.39,101.92 669.60,100.61 669.80,99.32 670.01,98.05 670.21,96.80 670.42,95.58 670.63,94.39 670.83,93.23 671.04,92.09 671.24,90.99 671.45,89.92 671.65,88.89 671.86,87.89 672.07,86.93 672.27,86.00 672.48,85.12 672.68,84.28 672.89,83.48 673.09,82.72 673.30,82.01 673.51,81.34 673.71,80.72 673.92,80.15 674.12,79.62 674.33,79.14 674.53,78.70 674.74,78.32 674.95,77.98 675.15,77.70 675.36,77.46 675.56,77.28 675.77,77.14 675.97,77.06 676.18,77.02 676.39,77.03 676.59,77.10 676.80,77.21 677.00,77.37 677.21,77.58 677.41,77.84 677.62,78.14 677.83,78.50 678.03,78.89 678.24,79.34 678.44,79.82 678.65,80.35 678.85,80.93 679.06,81.54 679.27,82.20 679.47,82.89 679.68,83.62 679.88,84.39 680.09,85.19 680.29,86.03 680.50,86.90 680.71,87.80 680.91,88.73 681.12,89.69 681.32,90.67 681.53,91.68 681.73,92.71 681.94,93.76 682.14,94.83 682.35,95.91 682.56,97.02 682.76,98.13 682.97,99.26 683.17,100.40 683.38,101.54 683.58,102.70 683.79,103.85 684.00,105.01 684.20,106.17 684.41,107.32 684.61,108.47 684.82,109.62 685.02,110.76 685.23,111.89 685.44,113.01 685.64,114.11 685.85,115.20 686.05,116.27 686.26,117.33 686.46,118.36 686.67,119.37 686.88,120.36 687.08,121.32 687.29,122.25 687.49,123.16 687.70,124.03 687.90,124.88 688.11,125.68 688.32,126.46 688.52,127.20 688.73,127.89 688.93,128.56 689.14,129.18 689.34,129.76 689.55,130.29 689.76,130.79 689.96,131.24 690.17,131.64 690.37,132.00 690.58,132.31 690.78,132.58 690.99,132.80 691.20,132.96 691.40,133.08 691.61,133.15 691.81,133.18 692.02,133.15 692.22,133.07 692.43,132.94 692.64,132.76 692.84,132.53 693.05,132.25 693.25,131.93 693.46,131.55 693.66,131.13 693.87,130.65 694.08,130.13 694.28,129.56 694.49,128.94 694.69,128.28 694.90,127.58 695.10,126.83 695.31,126.03 695.52,125.20 695.72,124.32 695.93,123.40 696.13,122.44 696.34,121.45 696.54,120.42 696.75,119.36 696.96,118.26 697.16,117.13 697.37,115.97 697.57,114.78 697.78,113.56 697.98,112.32 698.19,111.05 698.40,109.76 698.60,108.45 698.81,107.12 699.01,105.78 699.22,104.42 699.42,103.05 699.63,101.66 699.84,100.27 700.04,98.87 700.25,97.46 700.45,96.05 700.66,94.64 700.86,93.22 701.07,91.81 701.27,90.41 701.48,89.01 701.69,87.62 701.89,86.24 702.10,84.87 702.30,83.51 702.51,82.17 702.71,80.85 702.92,79.54 703.13,78.26 703.33,77.00 703.54,75.76 703.74,74.55 703.95,73.37 704.15,72.22 704.36,71.09 704.57,70.01 704.77,68.95 704.98,67.93 705.18,66.95 705.39,66.00 705.59,65.09 705.80,64.23 706.01,63.40 706.21,62.62 706.42,61.88 706.62,61.19 706.83,60.54 707.03,59.93 707.24,59.38 707.45,58.87 707.65,58.41 707.86,57.99 708.06,57.63 708.27,57.32 708.47,57.05 708.68,56.84 708.89,56.67 709.09,56.56 709.30,56.49 709.50,56.48 709.71,56.51 709.91,56.60 710.12,56.73 710.33,56.91 710.53,57.14 710.74,57.42 710.94,57.74 711.15,58.12 711.35,58.53 711.56,59.00 711.77,59.50 711.97,60.05 712.18,60.64 712.38,61.28 712.59,61.95 712.79,62.66 713.00,63.41 713.21,64.19 713.41,65.01 713.62,65.86 713.82,66.74 714.03,67.66 714.23,68.60 714.44,69.57 714.65,70.56 714.85,71.58 715.06,72.62 715.26,73.68 715.47,74.76 715.67,75.86 715.88,76.97 716.09,78.09 716.29,79.22 716.50,80.36 716.70,81.51 716.91,82.67 717.11,83.83 717.32,84.99 717.53,86.14 717.73,87.30 717.94,88.45 718.14,89.60 718.35,90.73 718.55,91.86 718.76,92.97 718.97,94.07 719.17,95.16 719.38,96.22 719.58,97.27 719.79,98.29 719.99,99.30 720.20,100.27 720.41,101.23 720.61,102.15 720.82,103.04 721.02,103.90 721.23,104.73 721.43,105.53 721.64,106.29 721.85,107.01 722.05,107.69 722.26,108.34 722.46,108.94 722.67,109.51 722.87,110.03 723.08,110.50 723.28,110.93 723.49,111.32 723.70,111.66 723.90,111.95 724.11,112.20 724.31,112.39 724.52,112.54 724.72,112.64 724.93,112.69 725.14,112.69 725.34,112.64 725.55,112.54 725.75,112.39 725.96,112.19 726.16,111.95 726.37,111.65 726.58,111.30 726.78,110.90 726.99,110.45 727.19,109.96 727.40,109.42 727.60,108.83 727.81,108.19 728.02,107.51 728.22,106.79 728.43,106.02 728.63,105.20 728.84,104.35 729.04,103.45 729.25,102.52 729.46,101.55 729.66,100.54 729.87,99.49 730.07,98.41 730.28,97.30 730.48,96.15 730.69,94.98 730.90,93.78 731.10,92.55 731.31,91.29 731.51,90.02 731.72,88.72 731.92,87.40 732.13,86.06 732.34,84.71 732.54,83.34 732.75,81.96 732.95,80.57 733.16,79.18 733.36,77.77 733.57,76.36 733.78,74.95 733.98,73.53 734.19,72.12 734.39,70.71 734.60,69.31 734.80,67.91 735.01,66.52 735.22,65.14 735.42,63.78 735.63,62.42 735.83,61.09 736.04,59.77 736.24,58.48 736.45,57.20 736.66,55.95 736.86,54.72 737.07,53.52 737.27,52.35 737.48,51.21 737.68,50.10 737.89,49.03 738.10,47.98 738.30,46.98 738.51,46.01 738.71,45.08 738.92,44.19 739.12,43.34 739.33,42.53 739.54,41.76 739.74,41.04 739.95,40.37 740.15,39.74 740.36,39.15 740.56,38.62 740.77,38.13 740.98,37.69 741.18,37.29 741.39,36.95 741.59,36.66 741.80,36.41 742.00,36.22 742.21,36.07 742.42,35.98 742.62,35.94 742.83,35.94 743.03,36.00 743.24,36.10 743.44,36.26 743.65,36.46 743.85,36.71 744.06,37.01 744.27,37.36 744.47,37.75 744.68,38.18 744.88,38.67 745.09,39.19 745.29,39.76 745.50,40.37 745.71,41.02 745.91,41.71 746.12,42.43 746.32,43.20 746.53,44.00 746.73,44.83 746.94,45.70 747.15,46.60 747.35,47.52 747.56,48.48 747.76,49.46 747.97,50.46 748.17,51.49 748.38,52.54 748.59,53.61 748.79,54.70 749.00,55.80 749.20,56.92 749.41,58.05 749.61,59.19 749.82,60.33 750.03,61.49 750.23,62.64 750.44,63.80 750.64,64.96 750.85,66.12 751.05,67.28 751.26,68.43 751.47,69.57 751.67,70.70 751.88,71.83 752.08,72.94 752.29,74.03 752.49,75.11 752.70,76.17"/>
<line x1="135.60" y1="443.50" x2="752.70" y2="60.86" stroke="#0000ff" stroke-width="1.9" stroke-dasharray="18.5,10.5"/>
<line x1="135.60" y1="410.80" x2="752.70" y2="28.98" stroke="#ff0000" stroke-width="1.75"/>
<path class="ax" d="M135.60 27.60V460.60H752.70M135.60 34.70h7.20M135.60 136.90h7.20M135.60 239.10h7.20M135.60 341.30h7.20M135.60 443.50h7.20M341.30 460.60v-7.20M547.00 460.60v-7.20M752.70 460.60v-7.20"/>
<text class="tk" text-anchor="end" x="127.10" y="43.80">0.20</text>
<text class="tk" text-anchor="end" x="127.10" y="146.00">0.15</text>
<text class="tk" text-anchor="end" x="127.10" y="248.20">0.10</text>
<text class="tk" text-anchor="end" x="127.10" y="350.40">0.05</text>
<text class="tk" text-anchor="end" x="127.10" y="452.60">0</text>
<text class="tk" text-anchor="middle" x="135.10" y="493.50">0</text>
<text class="tk" text-anchor="middle" x="341.30" y="493.50">5</text>
<text class="tk" text-anchor="middle" x="547.00" y="493.50">10</text>
<text class="tk" text-anchor="middle" x="751.90" y="493.50">15</text>
<polyline class="cv" points="926.10,73.05 926.31,73.18 926.51,73.57 926.72,74.22 926.92,75.12 927.13,76.29 927.33,77.71 927.54,79.38 927.75,81.31 927.95,83.48 928.16,85.90 928.36,88.56 928.57,91.45 928.77,94.58 928.98,97.93 929.18,101.51 929.39,105.31 929.60,109.31 929.80,113.52 930.01,117.93 930.21,122.54 930.42,127.33 930.62,132.29 930.83,137.43 931.04,142.73 931.24,148.19 931.45,153.79 931.65,159.53 931.86,165.40 932.06,171.39 932.27,177.49 932.47,183.69 932.68,189.99 932.89,196.37 933.09,202.83 933.30,209.35 933.50,215.92 933.71,222.54 933.91,229.19 934.12,235.86 934.33,242.55 934.53,249.25 934.74,255.94 934.94,262.61 935.15,269.25 935.35,275.86 935.56,282.42 935.76,288.93 935.97,295.37 936.18,301.73 936.38,308.01 936.59,314.20 936.79,320.28 937.00,326.24 937.20,332.08 937.41,337.80 937.62,343.37 937.82,348.79 938.03,354.06 938.23,359.16 938.44,364.09 938.64,368.84 938.85,373.40 939.05,377.77 939.26,381.94 939.47,385.91 939.67,389.66 939.88,393.19 940.08,396.49 940.29,399.57 940.49,402.42 940.70,405.03 940.91,407.39 941.11,409.51 941.32,411.38 941.52,413.01 941.73,414.37 941.93,415.48 942.14,416.34 942.35,416.93 942.55,417.27 942.76,417.34 942.96,417.16 943.17,416.71 943.37,416.01 943.58,415.05 943.78,413.83 943.99,412.35 944.20,410.63 944.40,408.65 944.61,406.43 944.81,403.96 945.02,401.25 945.22,398.31 945.43,395.13 945.64,391.73 945.84,388.11 946.05,384.27 946.25,380.22 946.46,375.96 946.66,371.51 946.87,366.87 947.07,362.04 947.28,357.04 947.49,351.87 947.69,346.53 947.90,341.05 948.10,335.41 948.31,329.65 948.51,323.75 948.72,317.74 948.93,311.61 949.13,305.39 949.34,299.07 949.54,292.67 949.75,286.20 949.95,279.67 950.16,273.09 950.36,266.46 950.57,259.81 950.78,253.13 950.98,246.44 951.19,239.74 951.39,233.06 951.60,226.39 951.80,219.75 952.01,213.15 952.22,206.60 952.42,200.11 952.63,193.68 952.83,187.34 953.04,181.08 953.24,174.91 953.45,168.86 953.65,162.92 953.86,157.10 954.07,151.42 954.27,145.88 954.48,140.48 954.68,135.25 954.89,130.19 955.09,125.29 955.30,120.58 955.51,116.06 955.71,111.73 955.92,107.60 956.12,103.69 956.33,99.98 956.53,96.50 956.74,93.24 956.95,90.21 957.15,87.41 957.36,84.85 957.56,82.54 957.77,80.47 957.97,78.65 958.18,77.08 958.38,75.77 958.59,74.71 958.80,73.91 959.00,73.37 959.21,73.09 959.41,73.07 959.62,73.31 959.82,73.81 960.03,74.57 960.24,75.58 960.44,76.86 960.65,78.38 960.85,80.16 961.06,82.19 961.26,84.47 961.47,86.99 961.67,89.74 961.88,92.74 962.09,95.96 962.29,99.41 962.50,103.08 962.70,106.96 962.91,111.06 963.11,115.35 963.32,119.84 963.53,124.53 963.73,129.39 963.94,134.43 964.14,139.64 964.35,145.00 964.55,150.52 964.76,156.18 964.96,161.98 965.17,167.90 965.38,173.94 965.58,180.08 965.79,186.33 965.99,192.66 966.20,199.08 966.40,205.56 966.61,212.10 966.82,218.69 967.02,225.33 967.23,231.99 967.43,238.67 967.64,245.37 967.84,252.06 968.05,258.74 968.25,265.40 968.46,272.03 968.67,278.62 968.87,285.16 969.08,291.64 969.28,298.05 969.49,304.38 969.69,310.62 969.90,316.76 970.11,322.80 970.31,328.71 970.52,334.50 970.72,340.15 970.93,345.66 971.13,351.02 971.34,356.22 971.54,361.25 971.75,366.11 971.96,370.78 972.16,375.26 972.37,379.55 972.57,383.63 972.78,387.51 972.98,391.17 973.19,394.60 973.40,397.81 973.60,400.80 973.81,403.54 974.01,406.05 974.22,408.31 974.42,410.33 974.63,412.10 974.84,413.61 975.04,414.87 975.25,415.87 975.45,416.62 975.66,417.11 975.86,417.33 976.07,417.30 976.27,417.00 976.48,416.45 976.69,415.64 976.89,414.57 977.10,413.24 977.30,411.66 977.51,409.83 977.71,407.75 977.92,405.42 978.13,402.85 978.33,400.04 978.54,397.00 978.74,393.73 978.95,390.23 979.15,386.52 979.36,382.59 979.56,378.45 979.77,374.12 979.98,369.58 980.18,364.86 980.39,359.96 980.59,354.89 980.80,349.65 981.00,344.25 981.21,338.70 981.42,333.01 981.62,327.18 981.83,321.24 982.03,315.18 982.24,309.01 982.44,302.74 982.65,296.39 982.85,289.96 983.06,283.47 983.27,276.91 983.47,270.31 983.68,263.67 983.88,257.00 984.09,250.32 984.29,243.62 984.50,236.93 984.71,230.26 984.91,223.60 985.12,216.98 985.32,210.39 985.53,203.87 985.73,197.40 985.94,191.01 986.14,184.70 986.35,178.48 986.56,172.36 986.76,166.35 986.97,160.46 987.17,154.70 987.38,149.07 987.58,143.59 987.79,138.27 988.00,133.10 988.20,128.11 988.41,123.29 988.61,118.66 988.82,114.22 989.02,109.97 989.23,105.93 989.44,102.10 989.64,98.49 989.85,95.10 990.05,91.94 990.26,89.00 990.46,86.31 990.67,83.85 990.87,81.64 991.08,79.68 991.29,77.96 991.49,76.50 991.70,75.29 991.90,74.34 992.11,73.65 992.31,73.22 992.52,73.05 992.73,73.14 992.93,73.49 993.14,74.09 993.34,74.96 993.55,76.09 993.75,77.47 993.96,79.10 994.16,80.98 994.37,83.12 994.58,85.50 994.78,88.12 994.99,90.97 995.19,94.06 995.40,97.38 995.60,100.92 995.81,104.68 996.02,108.66 996.22,112.84 996.43,117.21 996.63,121.79 996.84,126.55 997.04,131.49 997.25,136.60 997.45,141.87 997.66,147.30 997.87,152.88 998.07,158.60 998.28,164.45 998.48,170.42 998.69,176.51 998.89,182.70 999.10,188.98 999.31,195.35 999.51,201.79 999.72,208.30 999.92,214.86 1000.13,221.48 1000.33,228.12 1000.54,234.79 1000.74,241.48 1000.95,248.18 1001.16,254.87 1001.36,261.54 1001.57,268.19 1001.77,274.81 1001.98,281.38 1002.18,287.89 1002.39,294.34 1002.60,300.72 1002.80,307.01 1003.01,313.21 1003.21,319.31 1003.42,325.29 1003.62,331.16 1003.83,336.89 1004.04,342.49 1004.24,347.93 1004.45,353.23 1004.65,358.36 1004.86,363.31 1005.06,368.09 1005.27,372.69 1005.47,377.09 1005.68,381.29 1005.89,385.29 1006.09,389.07 1006.30,392.64 1006.50,395.98 1006.71,399.10 1006.91,401.98 1007.12,404.62 1007.33,407.03 1007.53,409.19 1007.74,411.10 1007.94,412.76 1008.15,414.17 1008.35,415.32 1008.56,416.22 1008.76,416.86 1008.97,417.23 1009.18,417.35 1009.38,417.21 1009.59,416.80 1009.79,416.14 1010.00,415.22 1010.20,414.04 1010.41,412.61 1010.62,410.92 1010.82,408.98 1011.03,406.80 1011.23,404.37 1011.44,401.70 1011.64,398.79 1011.85,395.66 1012.05,392.29 1012.26,388.70 1012.47,384.90 1012.67,380.88 1012.88,376.66 1013.08,372.24 1013.29,367.62 1013.49,362.83 1013.70,357.85 1013.91,352.70 1014.11,347.40 1014.32,341.93 1014.52,336.32 1014.73,330.58 1014.93,324.70 1015.14,318.71 1015.34,312.60 1015.55,306.39 1015.76,300.09 1015.96,293.70 1016.17,287.24 1016.37,280.72 1016.58,274.15 1016.78,267.53 1016.99,260.87 1017.20,254.20 1017.40,247.51 1017.61,240.81 1017.81,234.13 1018.02,227.46 1018.22,220.81 1018.43,214.21 1018.63,207.65 1018.84,201.14 1019.05,194.71 1019.25,188.35 1019.46,182.07 1019.66,175.89 1019.87,169.82 1020.07,163.86 1020.28,158.02 1020.49,152.32 1020.69,146.75 1020.90,141.34 1021.10,136.08 1021.31,130.98 1021.51,126.06 1021.72,121.32 1021.93,116.77 1022.13,112.41 1022.34,108.25 1022.54,104.30 1022.75,100.56 1022.95,97.04 1023.16,93.74 1023.36,90.68 1023.57,87.84 1023.78,85.25 1023.98,82.89 1024.19,80.78 1024.39,78.92 1024.60,77.32 1024.80,75.96 1025.01,74.86 1025.22,74.02 1025.42,73.44 1025.63,73.12 1025.83,73.05 1026.04,73.25 1026.24,73.71 1026.45,74.43 1026.65,75.40 1026.86,76.63 1027.07,78.12 1027.27,79.86 1027.48,81.85 1027.68,84.09 1027.89,86.57 1028.09,89.29 1028.30,92.24 1028.51,95.43 1028.71,98.84 1028.92,102.48 1029.12,106.33 1029.33,110.39 1029.53,114.65 1029.74,119.11 1029.94,123.76 1030.15,128.60 1030.36,133.61 1030.56,138.79 1030.77,144.13 1030.97,149.63 1031.18,155.27 1031.38,161.04 1031.59,166.94 1031.80,172.96 1032.00,179.09 1032.21,185.32 1032.41,191.64 1032.62,198.04 1032.82,204.52 1033.03,211.05 1033.23,217.64 1033.44,224.26 1033.65,230.92 1033.85,237.60 1034.06,244.29 1034.26,250.99 1034.47,257.67 1034.67,264.34 1034.88,270.97 1035.09,277.57 1035.29,284.12 1035.50,290.61 1035.70,297.03 1035.91,303.37 1036.11,309.63 1036.32,315.79 1036.53,321.84 1036.73,327.77 1036.94,333.58 1037.14,339.26 1037.35,344.79 1037.55,350.18 1037.76,355.40 1037.96,360.46 1038.17,365.34 1038.38,370.05 1038.58,374.56 1038.79,378.88 1038.99,382.99 1039.20,386.90 1039.40,390.59 1039.61,394.07 1039.82,397.32 1040.02,400.33 1040.23,403.12 1040.43,405.66 1040.64,407.97 1040.84,410.02 1041.05,411.83 1041.25,413.39 1041.46,414.69 1041.67,415.73 1041.87,416.52 1042.08,417.05 1042.28,417.31 1042.49,417.32 1042.69,417.07 1042.90,416.56 1043.11,415.79 1043.31,414.76 1043.52,413.47 1043.72,411.93 1043.93,410.14 1044.13,408.10 1044.34,405.81 1044.54,403.28 1044.75,400.51 1044.96,397.50 1045.16,394.27 1045.37,390.81 1045.57,387.13 1045.78,383.23 1045.98,379.13 1046.19,374.82 1046.40,370.32 1046.60,365.63 1046.81,360.76 1047.01,355.71 1047.22,350.49 1047.42,345.12 1047.63,339.60 1047.83,333.93 1048.04,328.12 1048.25,322.20 1048.45,316.15 1048.66,310.00 1048.86,303.75 1049.07,297.41 1049.27,291.00 1049.48,284.51 1049.69,277.97 1049.89,271.37 1050.10,264.74 1050.30,258.07 1050.51,251.39 1050.71,244.70 1050.92,238.00 1051.13,231.32 1051.33,224.66 1051.54,218.03 1051.74,211.44 1051.95,204.91 1052.15,198.43 1052.36,192.03 1052.56,185.70 1052.77,179.47 1052.98,173.33 1053.18,167.30 1053.39,161.39 1053.59,155.61 1053.80,149.96 1054.00,144.46 1054.21,139.11 1054.42,133.92 1054.62,128.90 1054.83,124.05 1055.03,119.39 1055.24,114.91 1055.44,110.64 1055.65,106.56 1055.85,102.70 1056.06,99.05 1056.27,95.63 1056.47,92.43 1056.68,89.46 1056.88,86.72 1057.09,84.23 1057.29,81.98 1057.50,79.97 1057.71,78.22 1057.91,76.72 1058.12,75.47 1058.32,74.48 1058.53,73.75 1058.73,73.27 1058.94,73.06 1059.14,73.11 1059.35,73.41 1059.56,73.98 1059.76,74.81 1059.97,75.89 1060.17,77.23 1060.38,78.82 1060.58,80.67 1060.79,82.76 1061.00,85.10 1061.20,87.68 1061.41,90.50 1061.61,93.55 1061.82,96.83 1062.02,100.34 1062.23,104.07 1062.43,108.01 1062.64,112.15 1062.85,116.50 1063.05,121.04 1063.26,125.77 1063.46,130.68 1063.67,135.77 1063.87,141.02 1064.08,146.42 1064.29,151.98 1064.49,157.68 1064.70,163.51 1064.90,169.46 1065.11,175.53 1065.31,181.70 1065.52,187.97 1065.73,194.32 1065.93,200.75 1066.14,207.25 1066.34,213.81 1066.55,220.42 1066.75,227.06 1066.96,233.73 1067.16,240.41 1067.37,247.11 1067.58,253.80 1067.78,260.47 1067.99,267.13 1068.19,273.75 1068.40,280.33 1068.60,286.85 1068.81,293.32 1069.02,299.71 1069.22,306.01 1069.43,312.23 1069.63,318.34 1069.84,324.34 1070.04,330.23 1070.25,335.98 1070.45,341.60 1070.66,347.07 1070.87,352.39 1071.07,357.55 1071.28,362.53 1071.48,367.34 1071.69,371.97 1071.89,376.40 1072.10,380.63 1072.31,384.66 1072.51,388.48 1072.72,392.08 1072.92,395.46 1073.13,398.61 1073.33,401.53 1073.54,404.22 1073.74,406.66 1073.95,408.86 1074.16,410.81 1074.36,412.51 1074.57,413.96 1074.77,415.16 1074.98,416.09 1075.18,416.77 1075.39,417.19 1075.60,417.35 1075.80,417.25 1076.01,416.89 1076.21,416.26 1076.42,415.38 1076.62,414.25 1076.83,412.85 1077.03,411.21 1077.24,409.31 1077.45,407.17 1077.65,404.78 1077.86,402.14 1078.06,399.27 1078.27,396.17 1078.47,392.84 1078.68,389.29 1078.89,385.52 1079.09,381.54 1079.30,377.35 1079.50,372.96 1079.71,368.37 1079.91,363.61 1080.12,358.66 1080.33,353.54 1080.53,348.26 1080.74,342.82 1080.94,337.23 1081.15,331.51 1081.35,325.65 1081.56,319.67 1081.76,313.58 1081.97,307.39 1082.18,301.10 1082.38,294.73 1082.59,288.28 1082.79,281.77 1083.00,275.20 1083.20,268.59 1083.41,261.94 1083.62,255.27 1083.82,248.58 1084.03,241.88 1084.23,235.20 1084.44,228.52 1084.64,221.87 1084.85,215.26 1085.05,208.69 1085.26,202.18 1085.47,195.73 1085.67,189.36 1085.88,183.07 1086.08,176.88 1086.29,170.78 1086.49,164.81 1086.70,158.95 1086.91,153.22 1087.11,147.63 1087.32,142.19 1087.52,136.91 1087.73,131.79 1087.93,126.84 1088.14,122.07 1088.34,117.48 1088.55,113.09 1088.76,108.90 1088.96,104.92 1089.17,101.14 1089.37,97.59 1089.58,94.25 1089.78,91.15 1089.99,88.28 1090.20,85.65 1090.40,83.25 1090.61,81.11 1090.81,79.21 1091.02,77.56 1091.22,76.16 1091.43,75.02 1091.63,74.14 1091.84,73.52 1092.05,73.15 1092.25,73.05 1092.46,73.20 1092.66,73.62 1092.87,74.30 1093.07,75.23 1093.28,76.42 1093.49,77.87 1093.69,79.57 1093.90,81.52 1094.10,83.71 1094.31,86.15 1094.51,88.84 1094.72,91.75 1094.92,94.90 1095.13,98.28 1095.34,101.88 1095.54,105.70 1095.75,109.72 1095.95,113.96 1096.16,118.39 1096.36,123.01 1096.57,127.81 1096.78,132.80 1096.98,137.95 1097.19,143.27 1097.39,148.74 1097.60,154.36 1097.80,160.11 1098.01,165.99 1098.22,171.99 1098.42,178.11 1098.63,184.32 1098.83,190.63 1099.04,197.02 1099.24,203.48 1099.45,210.00 1099.65,216.58 1099.86,223.20 1100.07,229.85 1100.27,236.53 1100.48,243.22 1100.68,249.92 1100.89,256.60 1101.09,263.27 1101.30,269.91 1101.51,276.52 1101.71,283.08 1101.92,289.58 1102.12,296.01 1102.33,302.37 1102.53,308.63 1102.74,314.81 1102.94,320.88 1103.15,326.83 1103.36,332.66 1103.56,338.36 1103.77,343.92 1103.97,349.33 1104.18,354.58 1104.38,359.66 1104.59,364.57 1104.80,369.31 1105.00,373.85 1105.21,378.20 1105.41,382.35 1105.62,386.29 1105.82,390.02 1106.03,393.53 1106.23,396.81 1106.44,399.87 1106.65,402.69 1106.85,405.27 1107.06,407.61 1107.26,409.71 1107.47,411.56 1107.67,413.15 1107.88,414.49 1108.09,415.58 1108.29,416.41 1108.50,416.98 1108.70,417.29 1108.91,417.34 1109.11,417.13 1109.32,416.66 1109.52,415.93 1109.73,414.94 1109.94,413.69 1110.14,412.19 1110.35,410.44 1110.55,408.44 1110.76,406.19 1110.96,403.70 1111.17,400.97 1111.38,398.00 1111.58,394.80 1111.79,391.38 1111.99,387.73 1112.20,383.87 1112.40,379.80 1112.61,375.53 1112.82,371.06 1113.02,366.39 1113.23,361.55 1113.43,356.53 1113.64,351.34 1113.84,345.99 1114.05,340.49 1114.25,334.84 1114.46,329.06 1114.67,323.15 1114.87,317.13 1115.08,310.99 1115.28,304.76 1115.49,298.43 1115.69,292.03 1115.90,285.55 1116.11,279.02 1116.31,272.43 1116.52,265.80 1116.72,259.14 1116.93,252.46 1117.13,245.77 1117.34,239.07 1117.54,232.39 1117.75,225.73 1117.96,219.09 1118.16,212.50 1118.37,205.95 1118.57,199.46 1118.78,193.05 1118.98,186.71 1119.19,180.46 1119.40,174.30 1119.60,168.26 1119.81,162.33 1120.01,156.53 1120.22,150.86 1120.42,145.33 1120.63,139.95 1120.83,134.74 1121.04,129.69 1121.25,124.81 1121.45,120.12 1121.66,115.62 1121.86,111.31 1122.07,107.20 1122.27,103.31 1122.48,99.62 1122.69,96.16 1122.89,92.92 1123.10,89.92 1123.30,87.14 1123.51,84.61 1123.71,82.32 1123.92,80.28 1124.12,78.48 1124.33,76.94 1124.54,75.65 1124.74,74.62 1124.95,73.85 1125.15,73.33 1125.36,73.08 1125.56,73.08 1125.77,73.35 1125.98,73.87 1126.18,74.66 1126.39,75.70 1126.59,77.00 1126.80,78.55 1127.00,80.35 1127.21,82.41 1127.42,84.71 1127.62,87.25 1127.83,90.03 1128.03,93.05 1128.24,96.29 1128.44,99.77 1128.65,103.46 1128.85,107.36 1129.06,111.48 1129.27,115.79 1129.47,120.30 1129.68,125.00 1129.88,129.89 1130.09,134.94 1130.29,140.17 1130.50,145.55 1130.71,151.08 1130.91,156.76 1131.12,162.56 1131.32,168.50 1131.53,174.55 1131.73,180.70 1131.94,186.96 1132.14,193.30 1132.35,199.72 1132.56,206.21 1132.76,212.76 1132.97,219.36 1133.17,225.99 1133.38,232.66 1133.58,239.34 1133.79,246.03 1134.00,252.73 1134.20,259.41 1134.41,266.07 1134.61,272.69 1134.82,279.28 1135.02,285.81 1135.23,292.29 1135.43,298.69 1135.64,305.01 1135.85,311.24 1136.05,317.37 1136.26,323.39 1136.46,329.30 1136.67,335.07 1136.87,340.71 1137.08,346.21 1137.29,351.55 1137.49,356.73 1137.70,361.75 1137.90,366.58 1138.11,371.24 1138.31,375.70 1138.52,379.97 1138.72,384.03 1138.93,387.88 1139.14,391.52 1139.34,394.93 1139.55,398.12 1139.75,401.08 1139.96,403.80 1140.16,406.29 1140.37,408.52 1140.58,410.52 1140.78,412.26 1140.99,413.75 1141.19,414.98 1141.40,415.96 1141.60,416.68 1141.81,417.14 1142.02,417.34 1142.22,417.28 1142.43,416.96 1142.63,416.38 1142.84,415.54 1143.04,414.45 1143.25,413.09 1143.45,411.49 1143.66,409.63 1143.87,407.53 1144.07,405.17 1144.28,402.58 1144.48,399.75 1144.69,396.68 1144.89,393.39 1145.10,389.87 1145.31,386.14 1145.51,382.19 1145.72,378.03 1145.92,373.67 1146.13,369.12 1146.33,364.38 1146.54,359.46 1146.74,354.37 1146.95,349.11 1147.16,343.70 1147.36,338.13 1147.57,332.43 1147.77,326.60 1147.98,320.64 1148.18,314.56 1148.39,308.39 1148.60,302.11 1148.80,295.75 1149.01,289.32 1149.21,282.82 1149.42,276.26 1149.62,269.65 1149.83,263.01 1150.03,256.34 1150.24,249.65 1150.45,242.96 1150.65,236.27 1150.86,229.59 1151.06,222.94 1151.27,216.32 1151.47,209.74 1151.68,203.22 1151.89,196.76 1152.09,190.37 1152.30,184.07 1152.50,177.86 1152.71,171.75 1152.91,165.75 1153.12,159.88 1153.32,154.13 1153.53,148.52 1153.74,143.05 1153.94,137.74 1154.15,132.60 1154.35,127.62 1154.56,122.82 1154.76,118.20 1154.97,113.78 1155.18,109.56 1155.38,105.54 1155.59,101.73 1155.79,98.14 1156.00,94.77 1156.20,91.63 1156.41,88.72 1156.61,86.05 1156.82,83.62 1157.03,81.43 1157.23,79.49 1157.44,77.80 1157.64,76.37 1157.85,75.19 1158.05,74.26 1158.26,73.60 1158.47,73.19 1158.67,73.05 1158.88,73.16 1159.08,73.54 1159.29,74.17 1159.49,75.06 1159.70,76.21 1159.91,77.62 1160.11,79.28 1160.32,81.19 1160.52,83.34 1160.73,85.75 1160.93,88.39 1161.14,91.27 1161.34,94.38 1161.55,97.73 1161.76,101.29 1161.96,105.07 1162.17,109.07 1162.37,113.26 1162.58,117.66 1162.78,122.26 1162.99,127.03 1163.20,131.99 1163.40,137.12 1163.61,142.41 1163.81,147.85 1164.02,153.45 1164.22,159.18 1164.43,165.04 1164.63,171.03 1164.84,177.12 1165.05,183.32 1165.25,189.61 1165.46,195.99 1165.66,202.44 1165.87,208.95 1166.07,215.52 1166.28,222.14 1166.49,228.79 1166.69,235.46 1166.90,242.15 1167.10,248.85 1167.31,255.53 1167.51,262.21 1167.72,268.85 1167.92,275.47 1168.13,282.03 1168.34,288.54 1168.54,294.98 1168.75,301.35 1168.95,307.64 1169.16,313.83 1169.36,319.91 1169.57,325.89 1169.78,331.74 1169.98,337.46 1170.19,343.04 1170.39,348.47 1170.60,353.75 1170.80,358.86 1171.01,363.80 1171.21,368.56 1171.42,373.14 1171.63,377.52 1171.83,381.70 1172.04,385.67 1172.24,389.44 1172.45,392.98 1172.65,396.30 1172.86,399.39 1173.07,402.25 1173.27,404.88 1173.48,407.26 1173.68,409.39 1173.89,411.28 1174.09,412.91 1174.30,414.30 1174.51,415.42 1174.71,416.29 1174.92,416.90 1175.12,417.26 1175.33,417.35 1175.53,417.18 1175.74,416.75 1175.94,416.06 1176.15,415.11 1176.36,413.91 1176.56,412.45 1176.77,410.74 1176.97,408.78 1177.18,406.57 1177.38,404.11 1177.59,401.42 1177.80,398.49 1178.00,395.33 1178.21,391.94 1178.41,388.33 1178.62,384.50 1178.82,380.47 1179.03,376.22 1179.23,371.78 1179.44,367.15 1179.65,362.34 1179.85,357.34 1180.06,352.18 1180.26,346.86 1180.47,341.38 1180.67,335.76 1180.88,330.00 1181.09,324.11 1181.29,318.10 1181.50,311.98 1181.70,305.76 1181.91,299.45 1182.11,293.06 1182.32,286.59 1182.52,280.07 1182.73,273.49 1182.94,266.86 1183.14,260.21 1183.35,253.53 1183.55,246.84 1183.76,240.14 1183.96,233.46 1184.17,226.79 1184.38,220.15 1184.58,213.55 1184.79,206.99 1184.99,200.50 1185.20,194.07 1185.40,187.72 1185.61,181.45 1185.81,175.28 1186.02,169.22 1186.23,163.27 1186.43,157.45 1186.64,151.75 1186.84,146.20 1187.05,140.80 1187.25,135.56 1187.46,130.48 1187.67,125.58 1187.87,120.86 1188.08,116.32 1188.28,111.98 1188.49,107.85 1188.69,103.91 1188.90,100.20 1189.11,96.70 1189.31,93.43 1189.52,90.38 1189.72,87.57 1189.93,85.00 1190.13,82.67 1190.34,80.59 1190.54,78.75 1190.75,77.17 1190.96,75.84 1191.16,74.77 1191.37,73.95 1191.57,73.40 1191.78,73.10 1191.98,73.06 1192.19,73.29 1192.40,73.77 1192.60,74.51 1192.81,75.51 1193.01,76.77 1193.22,78.28 1193.42,80.05 1193.63,82.06 1193.83,84.32 1194.04,86.83 1194.25,89.57 1194.45,92.55 1194.66,95.76 1194.86,99.20 1195.07,102.85 1195.27,106.72 1195.48,110.80 1195.69,115.09 1195.89,119.57 1196.10,124.24 1196.30,129.09 1196.51,134.12 1196.71,139.32 1196.92,144.68 1197.12,150.19 1197.33,155.84 1197.54,161.63 1197.74,167.54 1197.95,173.57 1198.15,179.71 1198.36,185.95 1198.56,192.28 1198.77,198.69 1198.98,205.17 1199.18,211.71 1199.39,218.30 1199.59,224.93 1199.80,231.59 1200.00,238.27 1200.21,244.96 1200.41,251.66 1200.62,258.34 1200.83,265.00 1201.03,271.64 1201.24,278.23 1201.44,284.77 1201.65,291.26 1201.85,297.67 1202.06,304.00 1202.27,310.25 1202.47,316.40 1202.68,322.44 1202.88,328.36 1203.09,334.16 1203.29,339.82 1203.50,345.34 1203.70,350.71 1203.91,355.91 1204.12,360.96 1204.32,365.82 1204.53,370.51 1204.73,375.00 1204.94,379.30 1205.14,383.39 1205.35,387.28 1205.56,390.95 1205.76,394.40 1205.97,397.63 1206.17,400.62 1206.38,403.38 1206.58,405.90 1206.79,408.18 1207.00,410.21 1207.20,412.00 1207.41,413.53 1207.61,414.80 1207.82,415.82 1208.02,416.58 1208.23,417.08 1208.43,417.33 1208.64,417.31 1208.85,417.03 1209.05,416.49 1209.26,415.69 1209.46,414.64 1209.67,413.33 1209.87,411.76 1210.08,409.95 1210.29,407.88 1210.49,405.57 1210.70,403.01 1210.90,400.22 1211.11,397.19 1211.31,393.93 1211.52,390.45 1211.72,386.75 1211.93,382.83 1212.14,378.71 1212.34,374.38 1212.55,369.86 1212.75,365.15 1212.96,360.26 1213.16,355.20 1213.37,349.96 1213.58,344.57 1213.78,339.03 1213.99,333.35 1214.19,327.54 1214.40,321.60 1214.60,315.54 1214.81,309.38 1215.01,303.12 1215.22,296.78 1215.43,290.35 1215.63,283.86 1215.84,277.31 1216.04,270.71 1216.25,264.07 1216.45,257.40 1216.66,250.72 1216.87,244.03 1217.07,237.33 1217.28,230.66 1217.48,224.00 1217.69,217.37 1217.89,210.79 1218.10,204.26 1218.30,197.79 1218.51,191.39 1218.72,185.07 1218.92,178.85 1219.13,172.72 1219.33,166.71 1219.54,160.81 1219.74,155.04 1219.95,149.41 1220.16,143.92 1220.36,138.58 1220.57,133.41 1220.77,128.40 1220.98,123.57 1221.18,118.93 1221.39,114.48 1221.60,110.22 1221.80,106.17 1222.01,102.33 1222.21,98.70 1222.42,95.30 1222.62,92.12 1222.83,89.17 1223.03,86.46 1223.24,83.99 1223.45,81.77 1223.65,79.79 1223.86,78.06 1224.06,76.58 1224.27,75.36 1224.47,74.39 1224.68,73.69 1224.89,73.24 1225.09,73.05 1225.30,73.13 1225.50,73.46 1225.71,74.05 1225.91,74.90 1226.12,76.01 1226.32,77.38 1226.53,78.99 1226.74,80.86 1226.94,82.98 1227.15,85.35 1227.35,87.95 1227.56,90.79 1227.76,93.87 1227.97,97.18 1228.18,100.70 1228.38,104.45 1228.59,108.41 1228.79,112.58 1229.00,116.95 1229.20,121.51 1229.41,126.26 1229.61,131.18 1229.82,136.29 1230.03,141.55 1230.23,146.97 1230.44,152.54 1230.64,158.25 1230.85,164.10 1231.05,170.06 1231.26,176.14 1231.47,182.32 1231.67,188.60 1231.88,194.96 1232.08,201.40 1232.29,207.91 1232.49,214.47 1232.70,221.08 1232.90,227.72 1233.11,234.39 1233.32,241.08 1233.52,247.78 1233.73,254.47 1233.93,261.14 1234.14,267.79 1234.34,274.41 1234.55,280.98 1234.76,287.50 1234.96,293.96 1235.17,300.34 1235.37,306.64 1235.58,312.84 1235.78,318.95 1235.99,324.94 1236.20,330.81 1236.40,336.55 1236.61,342.15 1236.81,347.61 1237.02,352.91 1237.22,358.05 1237.43,363.02 1237.63,367.81 1237.84,372.42 1238.05,376.83 1238.25,381.04 1238.46,385.05 1238.66,388.85 1238.87,392.43 1239.07,395.79 1239.28,398.91 1239.49,401.81 1239.69,404.47 1239.90,406.89 1240.10,409.07 1240.31,410.99 1240.51,412.67 1240.72,414.09 1240.92,415.26 1241.13,416.17 1241.34,416.82 1241.54,417.22 1241.75,417.35 1241.95,417.22 1242.16,416.83 1242.36,416.19 1242.57,415.28 1242.78,414.12 1242.98,412.70 1243.19,411.03 1243.39,409.11 1243.60,406.94 1243.80,404.52 1244.01,401.87 1244.21,398.98 1244.42,395.85 1244.63,392.50 1244.83,388.92 1245.04,385.13 1245.24,381.13 1245.45,376.92 1245.65,372.51 1245.86,367.91 1246.07,363.12 1246.27,358.15 1246.48,353.02 1246.68,347.72 1246.89,342.27 1247.09,336.66 1247.30,330.93 1247.50,325.06 1247.71,319.07 1247.92,312.97 1248.12,306.76 1248.33,300.47 1248.53,294.09 1248.74,287.63 1248.94,281.11 1249.15,274.54 1249.36,267.93 1249.56,261.27 1249.77,254.60 1249.97,247.91 1250.18,241.22 1250.38,234.53 1250.59,227.86 1250.80,221.21 1251.00,214.60 1251.21,208.04 1251.41,201.53 1251.62,195.09 1251.82,188.73 1252.03,182.45 1252.23,176.26 1252.44,170.18 1252.65,164.21 1252.85,158.37 1253.06,152.66 1253.26,147.08 1253.47,141.66 1253.67,136.39 1253.88,131.29 1254.09,126.35 1254.29,121.60 1254.50,117.04 1254.70,112.66 1254.91,108.49 1255.11,104.53 1255.32,100.78 1255.52,97.24 1255.73,93.93 1255.94,90.85 1256.14,88.01 1256.35,85.40 1256.55,83.03 1256.76,80.90 1256.96,79.03 1257.17,77.41 1257.38,76.04 1257.58,74.92 1257.79,74.07 1257.99,73.47 1258.20,73.13 1258.40,73.05 1258.61,73.23 1258.81,73.68 1259.02,74.38 1259.23,75.34 1259.43,76.55 1259.64,78.03 1259.84,79.75 1260.05,81.72 1260.25,83.95 1260.46,86.41 1260.67,89.12 1260.87,92.06 1261.08,95.23 1261.28,98.63 1261.49,102.25 1261.69,106.09 1261.90,110.14 1262.10,114.39 1262.31,118.84 1262.52,123.48 1262.72,128.30 1262.93,133.31 1263.13,138.48 1263.34,143.81 1263.54,149.29 1263.75,154.93 1263.96,160.69 1264.16,166.59 1264.37,172.60 1264.57,178.72 1264.78,184.95 1264.98,191.26 1265.19,197.66 1265.39,204.13 1265.60,210.66 1265.81,217.24 1266.01,223.86 1266.22,230.52 1266.42,237.20 1266.63,243.89 1266.83,250.59 1267.04,257.27 1267.25,263.94 1267.45,270.58 1267.66,277.18 1267.86,283.73 1268.07,290.22 1268.27,296.65 1268.48,303.00 1268.69,309.26 1268.89,315.42 1269.10,321.48 1269.30,327.42 1269.51,333.24 1269.71,338.92 1269.92,344.47 1270.12,349.86 1270.33,355.09 1270.54,360.16 1270.74,365.06 1270.95,369.77 1271.15,374.29 1271.36,378.62 1271.56,382.75 1271.77,386.67 1271.98,390.38 1272.18,393.87 1272.39,397.13 1272.59,400.16 1272.80,402.96 1273.00,405.52 1273.21,407.83 1273.41,409.91 1273.62,411.73 1273.83,413.30 1274.03,414.62 1274.24,415.68 1274.44,416.48 1274.65,417.02 1274.85,417.30 1275.06,417.33 1275.27,417.09 1275.47,416.59 1275.68,415.84 1275.88,414.82 1276.09,413.55 1276.29,412.03 1276.50,410.25 1276.70,408.23 1276.91,405.95 1277.12,403.44 1277.32,400.68 1277.53,397.69 1277.73,394.47 1277.94,391.02 1278.14,387.36 1278.35,383.47 1278.56,379.38 1278.76,375.09 1278.97,370.60 1279.17,365.92 1279.38,361.06 1279.58,356.02 1279.79,350.81 1279.99,345.45 1280.20,339.93 1280.41,334.27 1280.61,328.48 1280.82,322.56 1281.02,316.52 1281.23,310.37 1281.43,304.13 1281.64,297.80 1281.85,291.38 1282.05,284.90 1282.26,278.36 1282.46,271.77 1282.67,265.14 1282.87,258.47 1283.08,251.79 1283.29,245.10 1283.49,238.41 1283.70,231.72 1283.90,225.06 1284.11,218.43 1284.31,211.84 1284.52,205.30 1284.72,198.82 1284.93,192.41 1285.14,186.08 1285.34,179.84 1285.55,173.69 1285.75,167.66 1285.96,161.74 1286.16,155.95 1286.37,150.30 1286.58,144.79 1286.78,139.43 1286.99,134.22 1287.19,129.19 1287.40,124.34 1287.60,119.66 1287.81,115.18 1288.01,110.89 1288.22,106.80 1288.43,102.93 1288.63,99.27 1288.84,95.83 1289.04,92.61 1289.25,89.63 1289.45,86.88 1289.66,84.37 1289.87,82.11 1290.07,80.09 1290.28,78.32 1290.48,76.80 1290.69,75.54 1290.89,74.53 1291.10,73.78 1291.30,73.29 1291.51,73.06 1291.72,73.10 1291.92,73.39 1292.13,73.94 1292.33,74.75 1292.54,75.82 1292.74,77.14 1292.95,78.72 1293.16,80.55 1293.36,82.63 1293.57,84.95 1293.77,87.52 1293.98,90.32 1294.18,93.36 1294.39,96.63 1294.59,100.12 1294.80,103.84 1295.01,107.76 1295.21,111.90 1295.42,116.23 1295.62,120.77 1295.83,125.48 1296.03,130.38 1296.24,135.46 1296.45,140.70 1296.65,146.09 1296.86,151.64 1297.06,157.33 1297.27,163.15 1297.47,169.10 1297.68,175.16 1297.89,181.33 1298.09,187.59 1298.30,193.94 1298.50,200.37 1298.71,206.86 1298.91,213.42 1299.12,220.02 1299.32,226.66 1299.53,233.33 1299.74,240.01 1299.94,246.70 1300.15,253.40 1300.35,260.07 1300.56,266.73 1300.76,273.35 1300.97,279.94 1301.18,286.46 1301.38,292.93 1301.59,299.32 1301.79,305.64 1302.00,311.86 1302.20,317.98 1302.41,323.99 1302.61,329.88 1302.82,335.64 1303.03,341.27 1303.23,346.75 1303.44,352.08 1303.64,357.24 1303.85,362.24 1304.05,367.06 1304.26,371.69 1304.47,376.14 1304.67,380.38 1304.88,384.42 1305.08,388.26 1305.29,391.87 1305.49,395.26 1305.70,398.43 1305.90,401.36 1306.11,404.06 1306.32,406.52 1306.52,408.74 1306.73,410.70 1306.93,412.42 1307.14,413.88 1307.34,415.09 1307.55,416.04 1307.76,416.74 1307.96,417.17 1308.17,417.35 1308.37,417.26 1308.58,416.91 1308.78,416.31 1308.99,415.44 1309.19,414.32 1309.40,412.95 1309.61,411.31 1309.81,409.43 1310.02,407.30 1310.22,404.93 1310.43,402.31 1310.63,399.45 1310.84,396.37 1311.05,393.05 1311.25,389.51 1311.46,385.75 1311.66,381.78 1311.87,377.60 1312.07,373.23 1312.28,368.65 1312.49,363.90 1312.69,358.96 1312.90,353.85 1313.10,348.58 1313.31,343.15 1313.51,337.57 1313.72,331.85 1313.92,326.00 1314.13,320.03 1314.34,313.95 1314.54,307.76 1314.75,301.48 1314.95,295.11 1315.16,288.67 1315.36,282.16 1315.57,275.60 1315.78,268.99 1315.98,262.34 1316.19,255.67 1316.39,248.98 1316.60,242.29 1316.80,235.60 1317.01,228.92 1317.21,222.27 1317.42,215.66 1317.63,209.08 1317.83,202.57 1318.04,196.12 1318.24,189.74 1318.45,183.44 1318.65,177.24 1318.86,171.15 1319.07,165.16 1319.27,159.30 1319.48,153.56 1319.68,147.96 1319.89,142.52 1320.09,137.22 1320.30,132.09 1320.50,127.13 1320.71,122.35 1320.92,117.75 1321.12,113.35 1321.33,109.15 1321.53,105.15 1321.74,101.36 1321.94,97.79 1322.15,94.45 1322.36,91.33 1322.56,88.45 1322.77,85.80 1322.97,83.39 1323.18,81.23 1323.38,79.31 1323.59,77.65 1323.79,76.24 1324.00,75.08 1324.21,74.19 1324.41,73.55 1324.62,73.17 1324.82,73.05 1325.03,73.19 1325.23,73.59 1325.44,74.25 1325.65,75.17 1325.85,76.34 1326.06,77.77 1326.26,79.46 1326.47,81.39 1326.67,83.57 1326.88,86.00 1327.09,88.67 1327.29,91.57 1327.50,94.71 1327.70,98.07 1327.91,101.66 1328.11,105.46 1328.32,109.48 1328.52,113.70 1328.73,118.11 1328.94,122.72 1329.14,127.52 1329.35,132.49 1329.55,137.64 1329.76,142.95 1329.96,148.41 1330.17,154.01 1330.38,159.76 1330.58,165.64 1330.79,171.63 1330.99,177.74 1331.20,183.95 1331.40,190.25 1331.61,196.63 1331.81,203.09 1332.02,209.61 1332.23,216.18 1332.43,222.80 1332.64,229.45 1332.84,236.13 1333.05,242.82 1333.25,249.52 1333.46,256.20 1333.67,262.87 1333.87,269.52 1334.08,276.12 1334.28,282.68 1334.49,289.19 1334.69,295.63 1334.90,301.99 1335.10,308.26 1335.31,314.44 1335.52,320.52 1335.72,326.48 1335.93,332.32 1336.13,338.02 1336.34,343.59 1336.54,349.01 1336.75,354.27 1336.96,359.36 1337.16,364.28 1337.37,369.03 1337.57,373.58 1337.78,377.94 1337.98,382.11 1338.19,386.06 1338.39,389.80 1338.60,393.32 1338.81,396.62 1339.01,399.69 1339.22,402.53 1339.42,405.12 1339.63,407.48 1339.83,409.59 1340.04,411.45 1340.25,413.06 1340.45,414.42 1340.66,415.52 1340.86,416.37 1341.07,416.95 1341.27,417.28 1341.48,417.34 1341.68,417.15 1341.89,416.69 1342.10,415.98 1342.30,415.00 1342.51,413.77 1342.71,412.29 1342.92,410.55 1343.12,408.57 1343.33,406.33 1343.54,403.86 1343.74,401.14 1343.95,398.18 1344.15,395.00 1344.36,391.59 1344.56,387.96 1344.77,384.11 1344.98,380.05 1345.18,375.79 1345.39,371.33 1345.59,366.68 1345.80,361.85 1346.00,356.83 1346.21,351.66 1346.41,346.32 1346.62,340.82 1346.83,335.19 1347.03,329.41 1347.24,323.51 1347.44,317.49 1347.65,311.36 1347.85,305.14 1348.06,298.82 1348.27,292.42 1348.47,285.94 1348.68,279.41 1348.88,272.83 1349.09,266.20 1349.29,259.54 1349.50,252.86 1349.70,246.17 1349.91,239.48 1350.12,232.79 1350.32,226.13 1350.53,219.49 1350.73,212.89 1350.94,206.34 1351.14,199.85 1351.35,193.43 1351.56,187.08 1351.76,180.83 1351.97,174.67 1352.17,168.62 1352.38,162.68 1352.58,156.87 1352.79,151.19 1352.99,145.66 1353.20,140.27 1353.41,135.05 1353.61,129.99 1353.82,125.10 1354.02,120.40 1354.23,115.88 1354.43,111.56 1354.64,107.44 1354.85,103.53 1355.05,99.84 1355.26,96.36 1355.46,93.11 1355.67,90.09 1355.87,87.30 1356.08,84.76 1356.28,82.45 1356.49,80.39 1356.70,78.58 1356.90,77.03 1357.11,75.72 1357.31,74.67 1357.52,73.89 1357.72,73.35 1357.93,73.08 1358.14,73.07 1358.34,73.32 1358.55,73.83 1358.75,74.60 1358.96,75.63 1359.16,76.91 1359.37,78.45 1359.58,80.24 1359.78,82.28 1359.99,84.56 1360.19,87.09 1360.40,89.86 1360.60,92.86 1360.81,96.09 1361.01,99.55 1361.22,103.23 1361.43,107.12 1361.63,111.22 1361.84,115.53 1362.04,120.03 1362.25,124.72 1362.45,129.59 1362.66,134.63 1362.87,139.85 1363.07,145.22 1363.28,150.75 1363.48,156.41 1363.69,162.21 1363.89,168.14 1364.10,174.18 1364.30,180.33 1364.51,186.58 1364.72,192.92 1364.92,199.33 1365.13,205.82 1365.33,212.36 1365.54,218.96 1365.74,225.59 1365.95,232.26 1366.16,238.94 1366.36,245.63 1366.57,252.33 1366.77,259.01 1366.98,265.67 1367.18,272.30 1367.39,278.89 1367.59,285.42 1367.80,291.90 1368.01,298.31 1368.21,304.63 1368.42,310.87 1368.62,317.01 1368.83,323.03 1369.03,328.94 1369.24,334.73 1369.45,340.38 1369.65,345.88 1369.86,351.23 1370.06,356.43 1370.27,361.45 1370.47,366.30 1370.68,370.96 1370.88,375.44 1371.09,379.72 1371.30,383.79 1371.50,387.66 1371.71,391.31 1371.91,394.74 1372.12,397.94 1372.32,400.91 1372.53,403.65 1372.74,406.14 1372.94,408.40 1373.15,410.40 1373.35,412.16 1373.56,413.67 1373.76,414.92 1373.97,415.91 1374.18,416.64 1374.38,417.12 1374.59,417.34 1374.79,417.29 1375.00,416.99 1375.20,416.42 1375.41,415.60 1375.61,414.52 1375.82,413.18 1376.03,411.59 1376.23,409.75 1376.44,407.66 1376.64,405.32 1376.85,402.74 1377.05,399.93 1377.26,396.88 1377.47,393.60 1377.67,390.09 1377.88,386.37 1378.08,382.43 1378.29,378.29 1378.49,373.94 1378.70,369.40 1378.90,364.67 1379.11,359.76 1379.32,354.68 1379.52,349.43 1379.73,344.03 1379.93,338.47 1380.14,332.78 1380.34,326.95 1380.55,321.00 1380.76,314.93 1380.96,308.76 1381.17,302.49 1381.37,296.14 1381.58,289.71 1381.78,283.21 1381.99,276.65 1382.19,270.05 1382.40,263.41 1382.61,256.74 1382.81,250.05 1383.02,243.36 1383.22,236.67 1383.43,229.99 1383.63,223.33 1383.84,216.71 1384.05,210.13 1384.25,203.61 1384.46,197.14 1384.66,190.75 1384.87,184.45 1385.07,178.23 1385.28,172.11 1385.48,166.11 1385.69,160.23 1385.90,154.47 1386.10,148.85 1386.31,143.38 1386.51,138.06 1386.72,132.90 1386.92,127.91 1387.13,123.10 1387.34,118.48 1387.54,114.04 1387.75,109.81 1387.95,105.77 1388.16,101.95 1388.36,98.35 1388.57,94.97 1388.78,91.81 1388.98,88.89 1389.19,86.20 1389.39,83.76 1389.60,81.56 1389.80,79.60 1390.01,77.90 1390.21,76.45 1390.42,75.25 1390.63,74.31 1390.83,73.63 1391.04,73.21 1391.24,73.05 1391.45,73.15 1391.65,73.51 1391.86,74.12 1392.07,75.00 1392.27,76.14 1392.48,77.53 1392.68,79.17 1392.89,81.06 1393.09,83.21 1393.30,85.60 1393.50,88.22 1393.71,91.09 1393.92,94.19 1394.12,97.52 1394.33,101.07 1394.53,104.84 1394.74,108.82 1394.94,113.01 1395.15,117.39 1395.36,121.97 1395.56,126.74 1395.77,131.69 1395.97,136.80 1396.18,142.09 1396.38,147.52 1396.59,153.11 1396.79,158.83 1397.00,164.69 1397.21,170.66 1397.41,176.75 1397.62,182.95 1397.82,189.23 1398.03,195.60 1398.23,202.05 1398.44,208.56 1398.65,215.13 1398.85,221.74 1399.06,228.39 1399.26,235.06 1399.47,241.75 1399.67,248.44 1399.88,255.13 1400.08,261.81 1400.29,268.46 1400.50,275.07 1400.70,281.64 1400.91,288.15 1401.11,294.60 1401.32,300.97 1401.52,307.26 1401.73,313.46 1401.94,319.55 1402.14,325.53 1402.35,331.39 1402.55,337.12 1402.76,342.71 1402.96,348.15 1403.17,353.44 1403.37,358.56 1403.58,363.51 1403.79,368.28 1403.99,372.87 1404.20,377.26 1404.40,381.45 1404.61,385.44 1404.81,389.22 1405.02,392.77 1405.23,396.11 1405.43,399.22 1405.64,402.09 1405.84,404.72 1406.05,407.12 1406.25,409.27 1406.46,411.17 1406.67,412.82 1406.87,414.22 1407.08,415.36 1407.28,416.25 1407.49,416.88 1407.69,417.24 1407.90,417.35 1408.10,417.20 1408.31,416.78 1408.52,416.11 1408.72,415.18 1408.93,413.99 1409.13,412.55 1409.34,410.85 1409.54,408.90 1409.75,406.71 1409.96,404.27 1410.16,401.59 1410.37,398.67 1410.57,395.53 1410.78,392.15 1410.98,388.55 1411.19,384.74 1411.39,380.71 1411.60,376.48 1411.81,372.06 1412.01,367.44 1412.22,362.63 1412.42,357.65 1412.63,352.50 1412.83,347.18 1413.04,341.71 1413.25,336.10 1413.45,330.34 1413.66,324.46 1413.86,318.46 1414.07,312.35 1414.27,306.14 1414.48,299.83 1414.68,293.44 1414.89,286.98 1415.10,280.46 1415.30,273.88 1415.51,267.26 1415.71,260.61 1415.92,253.93 1416.12,247.24 1416.33,240.55 1416.54,233.86 1416.74,227.19 1416.95,220.55 1417.15,213.94 1417.36,207.38 1417.56,200.88 1417.77,194.45 1417.97,188.09 1418.18,181.82 1418.39,175.65 1418.59,169.58 1418.80,163.62 1419.00,157.79 1419.21,152.09 1419.41,146.53 1419.62,141.12 1419.83,135.87 1420.03,130.78 1420.24,125.87 1420.44,121.14 1420.65,116.59 1420.85,112.24 1421.06,108.09 1421.27,104.14 1421.47,100.41 1421.68,96.90 1421.88,93.62 1422.09,90.56 1422.29,87.73 1422.50,85.15 1422.70,82.80 1422.91,80.71 1423.12,78.86 1423.32,77.26 1423.53,75.91 1423.73,74.82 1423.94,73.99 1424.14,73.42 1424.35,73.11 1424.56,73.06 1424.76,73.27 1424.97,73.73 1425.17,74.46 1425.38,75.45 1425.58,76.69 1425.79,78.19 1425.99,79.94 1426.20,81.93 1426.41,84.18 1426.61,86.67 1426.82,89.40 1427.02,92.36 1427.23,95.56 1427.43,98.98 1427.64,102.63 1427.85,106.48 1428.05,110.55 1428.26,114.83 1428.46,119.29 1428.67,123.95 1428.87,128.80 1429.08,133.82 1429.28,139.00 1429.49,144.35 1429.70,149.85 1429.90,155.50 1430.11,161.28 1430.31,167.18 1430.52,173.21 1430.72,179.34 1430.93,185.57 1431.14,191.90 1431.34,198.30 1431.55,204.78 1431.75,211.31 1431.96,217.90 1432.16,224.53 1432.37,231.19 1432.57,237.87 1432.78,244.56 1432.99,251.26 1433.19,257.94 1433.40,264.60 1433.60,271.24 1433.81,277.83 1434.01,284.38 1434.22,290.87 1434.43,297.29 1434.63,303.63 1434.84,309.88 1435.04,316.03 1435.25,322.08 1435.45,328.01 1435.66,333.81 1435.87,339.48 1436.07,345.01 1436.28,350.39 1436.48,355.61 1436.69,360.66 1436.89,365.54 1437.10,370.23 1437.30,374.74 1437.51,379.05 1437.72,383.15 1437.92,387.05 1438.13,390.74 1438.33,394.20 1438.54,397.44 1438.74,400.45 1438.95,403.23 1439.16,405.76 1439.36,408.05 1439.57,410.10 1439.77,411.90 1439.98,413.44 1440.18,414.73 1440.39,415.77 1440.59,416.54 1440.80,417.06 1441.01,417.32 1441.21,417.32 1441.42,417.05 1441.62,416.53 1441.83,415.75 1442.03,414.71 1442.24,413.41 1442.45,411.86 1442.65,410.06 1442.86,408.01 1443.06,405.71 1443.27,403.17 1443.47,400.39 1443.68,397.38 1443.88,394.14 1444.09,390.67 1444.30,386.98 1444.50,383.07 1444.71,378.96 1444.91,374.65 1445.12,370.14 1445.32,365.44 1445.53,360.56 1445.74,355.50 1445.94,350.28 1446.15,344.90 1446.35,339.37 1446.56,333.70 1446.76,327.89 1446.97,321.96 1447.17,315.91 1447.38,309.75 1447.59,303.50 1447.79,297.16 1448.00,290.74 1448.20,284.25 1448.41,277.70 1448.61,271.11 1448.82,264.47 1449.03,257.81 1449.23,251.12 1449.44,244.43 1449.64,237.74 1449.85,231.06 1450.05,224.40 1450.26,217.77 1450.47,211.18 1450.67,204.65 1450.88,198.17 1451.08,191.77 1451.29,185.45 1451.49,179.22 1451.70,173.09 1451.90,167.06 1452.11,161.16 1452.32,155.38 1452.52,149.74 1452.73,144.24 1452.93,138.90 1453.14,133.71 1453.34,128.70 1453.55,123.86 1453.76,119.20 1453.96,114.74 1454.17,110.47 1454.37,106.41 1454.58,102.55 1454.78,98.91 1454.99,95.49 1455.19,92.30 1455.40,89.34 1455.61,86.62 1455.81,84.13 1456.02,81.89 1456.22,79.90 1456.43,78.15 1456.63,76.66 1456.84,75.42 1457.05,74.44 1457.25,73.72 1457.46,73.26 1457.66,73.06 1457.87,73.11 1458.07,73.43 1458.28,74.01 1458.48,74.84 1458.69,75.94 1458.90,77.29 1459.10,78.89 1459.31,80.75 1459.51,82.85 1459.72,85.20 1459.92,87.79 1460.13,90.62 1460.34,93.68 1460.54,96.97 1460.75,100.49 1460.95,104.22 1461.16,108.17 1461.36,112.32 1461.57,116.68 1461.77,121.23 1461.98,125.97 1462.19,130.88 1462.39,135.97 1462.60,141.23 1462.80,146.64 1463.01,152.20 1463.21,157.91 1463.42,163.74 1463.63,169.70 1463.83,175.77 1464.04,181.95 1464.24,188.22 1464.45,194.58 1464.65,201.01 1464.86,207.52 1465.06,214.07 1465.27,220.68 1465.48,227.32 1465.68,233.99 1465.89,240.68 1466.09,247.37 1466.30,254.06 1466.50,260.74 1466.71,267.39 1466.92,274.01 1467.12,280.59 1467.33,287.11 1467.53,293.57 1467.74,299.96 1467.94,306.26 1468.15,312.47 1468.36,318.58 1468.56,324.58 1468.77,330.46 1468.97,336.21 1469.18,341.82 1469.38,347.29 1469.59,352.60 1469.79,357.75 1470.00,362.73 1470.21,367.53 1470.41,372.15 1470.62,376.57 1470.82,380.80 1471.03,384.82 1471.23,388.63 1471.44,392.22 1471.65,395.59 1471.85,398.73 1472.06,401.64 1472.26,404.32 1472.47,406.75 1472.67,408.94 1472.88,410.89 1473.08,412.58 1473.29,414.02 1473.50,415.20 1473.70,416.12 1473.91,416.79 1474.11,417.20 1474.32,417.35 1474.52,417.24 1474.73,416.87 1474.94,416.23 1475.14,415.34 1475.35,414.20 1475.55,412.79 1475.76,411.14 1475.96,409.23 1476.17,407.07 1476.37,404.67 1476.58,402.03 1476.79,399.16 1476.99,396.04 1477.20,392.71 1477.40,389.14 1477.61,385.36 1477.81,381.37 1478.02,377.17 1478.23,372.78 1478.43,368.19 1478.64,363.41 1478.84,358.46 1479.05,353.33 1479.25,348.04 1479.46,342.60 1479.66,337.00 1479.87,331.27 1480.08,325.41 1480.28,319.43 1480.49,313.34 1480.69,307.14 1480.90,300.85 1481.10,294.47 1481.31,288.02 1481.52,281.51 1481.72,274.94 1481.93,268.32 1482.13,261.67 1482.34,255.00 1482.54,248.31 1482.75,241.62 1482.96,234.93 1483.16,228.26 1483.37,221.61 1483.57,215.00 1483.78,208.43 1483.98,201.92 1484.19,195.48 1484.39,189.11 1484.60,182.82 1484.81,176.63 1485.01,170.54 1485.22,164.57 1485.42,158.72 1485.63,153.00 1485.83,147.41 1486.04,141.98 1486.25,136.70 1486.45,131.59 1486.66,126.64 1486.86,121.88 1487.07,117.30 1487.27,112.92 1487.48,108.74 1487.68,104.76 1487.89,101.00 1488.10,97.45 1488.30,94.13 1488.51,91.03 1488.71,88.17 1488.92,85.55 1489.12,83.16 1489.33,81.02 1489.54,79.13 1489.74,77.50 1489.95,76.11 1490.15,74.98 1490.36,74.11 1490.56,73.50 1490.77,73.14 1490.97,73.05 1491.18,73.22 1491.39,73.64 1491.59,74.33 1491.80,75.27 1492.00,76.47 1492.21,77.93 1492.41,79.64 1492.62,81.60 1492.83,83.81 1493.03,86.26 1493.24,88.95 1493.44,91.87 1493.65,95.03 1493.85,98.42 1494.06,102.03 1494.26,105.85 1494.47,109.89 1494.68,114.13 1494.88,118.57 1495.09,123.20 1495.29,128.01 1495.50,133.00 1495.70,138.16 1495.91,143.48 1496.12,148.96 1496.32,154.58 1496.53,160.34 1496.73,166.23 1496.94,172.24 1497.14,178.35 1497.35,184.57 1497.56,190.88 1497.76,197.27 1497.97,203.74 1498.17,210.26 1498.38,216.84 1498.58,223.47 1498.79,230.12 1498.99,236.80 1499.20,243.49 1499.41,250.18 1499.61,256.87 1499.82,263.54 1500.02,270.18 1500.23,276.78 1500.43,283.34 1500.64,289.84 1500.85,296.27 1501.05,302.62 1501.26,308.88 1501.46,315.05 1501.67,321.12 1501.87,327.07 1502.08,332.89 1502.28,338.59 1502.49,344.14 1502.70,349.54 1502.90,354.78 1503.11,359.86 1503.31,364.77 1503.52,369.49 1503.72,374.03 1503.93,378.37 1504.14,382.51 1504.34,386.44 1504.55,390.16 1504.75,393.66 1504.96,396.94 1505.16,399.98 1505.37,402.80 1505.57,405.37 1505.78,407.70 1505.99,409.79 1506.19,411.63 1506.40,413.21 1506.60,414.54 1506.81,415.62 1507.01,416.44 1507.22,417.00 1507.43,417.30 1507.63,417.33 1507.84,417.11 1508.04,416.63 1508.25,415.89 1508.45,414.89 1508.66,413.64 1508.86,412.13 1509.07,410.37 1509.28,408.35 1509.48,406.10 1509.69,403.59 1509.89,400.85 1510.10,397.88 1510.30,394.67 1510.51,391.24 1510.72,387.58 1510.92,383.71 1511.13,379.63 1511.33,375.35 1511.54,370.87 1511.74,366.20 1511.95,361.35 1512.15,356.32 1512.36,351.13 1512.57,345.77 1512.77,340.27 1512.98,334.61 1513.18,328.83 1513.39,322.91 1513.59,316.88 1513.80,310.75 1514.01,304.51 1514.21,298.18 1514.42,291.77 1514.62,285.29 1514.83,278.75 1515.03,272.16 1515.24,265.53 1515.45,258.87 1515.65,252.19 1515.86,245.50 1516.06,238.81 1516.27,232.12 1516.47,225.46 1516.68,218.83 1516.88,212.23 1517.09,205.69 1517.30,199.20 1517.50,192.79 1517.71,186.45 1517.91,180.21 1518.12,174.06 1518.32,168.02 1518.53,162.10 1518.74,156.30 1518.94,150.63 1519.15,145.11 1519.35,139.74 1519.56,134.53 1519.76,129.49 1519.97,124.62 1520.17,119.94 1520.38,115.44 1520.59,111.14 1520.79,107.04 1521.00,103.15 1521.20,99.48 1521.41,96.03 1521.61,92.80 1521.82,89.80 1522.03,87.04 1522.23,84.52 1522.44,82.23 1522.64,80.20 1522.85,78.42 1523.05,76.88 1523.26,75.61 1523.46,74.58 1523.67,73.82 1523.88,73.32 1524.08,73.07 1524.29,73.09 1524.49,73.36 1524.70,73.90 1524.90,74.69 1525.11,75.75 1525.32,77.05 1525.52,78.62 1525.73,80.43 1525.93,82.50 1526.14,84.81 1526.34,87.36 1526.55,90.15 1526.75,93.17 1526.96,96.43 1527.17,99.91 1527.37,103.61 1527.58,107.52 1527.78,111.64 1527.99,115.97 1528.19,120.49 1528.40,125.20 1528.61,130.09 1528.81,135.15 1529.02,140.38 1529.22,145.77 1529.43,151.31 1529.63,156.99 1529.84,162.80 1530.05,168.74 1530.25,174.79 1530.46,180.95 1530.66,187.21 1530.87,193.56 1531.07,199.98 1531.28,206.47 1531.48,213.02 1531.69,219.62 1531.90,226.26 1532.10,232.92 1532.31,239.61 1532.51,246.30 1532.72,252.99 1532.92,259.67 1533.13,266.33 1533.34,272.96 1533.54,279.54 1533.75,286.07 1533.95,292.54 1534.16,298.94 1534.36,305.26 1534.57,311.49 1534.77,317.61 1534.98,323.63 1535.19,329.53 1535.39,335.30 1535.60,340.93 1535.80,346.42 1536.01,351.76 1536.21,356.94 1536.42,361.94 1536.63,366.77 1536.83,371.42 1537.04,375.88 1537.24,380.13 1537.45,384.19 1537.65,388.03 1537.86,391.66 1538.06,395.07 1538.27,398.25 1538.48,401.19 1538.68,403.91 1538.89,406.38 1539.09,408.61 1539.30,410.59 1539.50,412.32 1539.71,413.80 1539.92,415.03 1540.12,415.99 1540.33,416.70 1540.53,417.15 1540.74,417.34 1540.94,417.27 1541.15,416.94 1541.35,416.35 1541.56,415.50 1541.77,414.40 1541.97,413.03 1542.18,411.42 1542.38,409.55 1542.59,407.44 1542.79,405.07 1543.00,402.47"/>
<line x1="926.10" y1="73.05" x2="1543.00" y2="73.05" stroke="#ff0000" stroke-width="1.75"/>
<path class="ax" d="M926.10 28.50V460.60H1543.00M926.10 28.55h7.20M926.10 136.55h7.20M926.10 244.55h7.20M926.10 352.55h7.20M926.10 460.55h7.20M1131.73 460.60v-7.20M1337.37 460.60v-7.20M1543.00 460.60v-7.20"/>
<text class="tk" text-anchor="end" x="917.60" y="37.65">0.02</text>
<text class="tk" text-anchor="end" x="917.60" y="145.65">0.01</text>
<text class="tk" text-anchor="end" x="917.60" y="253.65">0</text>
<text class="tk" text-anchor="end" x="917.60" y="361.65">–0.01</text>
<text class="tk" text-anchor="end" x="917.60" y="469.65">–0.02</text>
<text class="tk" text-anchor="middle" x="925.60" y="493.50">0</text>
<text class="tk" text-anchor="middle" x="1131.73" y="493.50">5</text>
<text class="tk" text-anchor="middle" x="1337.37" y="493.50">10</text>
<text class="tk" text-anchor="middle" x="1542.20" y="493.50">15</text>
<polyline class="cv" points="135.60,931.45 135.81,930.27 136.01,929.10 136.22,927.93 136.42,926.76 136.63,925.60 136.83,924.45 137.04,923.31 137.25,922.18 137.45,921.06 137.66,919.96 137.86,918.87 138.07,917.80 138.27,916.75 138.48,915.71 138.69,914.70 138.89,913.72 139.10,912.75 139.30,911.81 139.51,910.90 139.71,910.02 139.92,909.17 140.13,908.34 140.33,907.55 140.54,906.79 140.74,906.06 140.95,905.37 141.15,904.72 141.36,904.09 141.57,903.51 141.77,902.96 141.98,902.46 142.18,901.99 142.39,901.56 142.59,901.17 142.80,900.82 143.01,900.51 143.21,900.24 143.42,900.01 143.62,899.83 143.83,899.68 144.03,899.58 144.24,899.52 144.45,899.50 144.65,899.52 144.86,899.58 145.06,899.69 145.27,899.83 145.47,900.02 145.68,900.24 145.88,900.50 146.09,900.81 146.30,901.15 146.50,901.52 146.71,901.94 146.91,902.39 147.12,902.87 147.32,903.39 147.53,903.95 147.74,904.53 147.94,905.15 148.15,905.79 148.35,906.47 148.56,907.17 148.76,907.90 148.97,908.65 149.18,909.43 149.38,910.23 149.59,911.06 149.79,911.90 150.00,912.76 150.20,913.64 150.41,914.53 150.62,915.44 150.82,916.36 151.03,917.29 151.23,918.23 151.44,919.17 151.64,920.13 151.85,921.08 152.06,922.04 152.26,923.01 152.47,923.97 152.67,924.93 152.88,925.88 153.08,926.83 153.29,927.78 153.50,928.71 153.70,929.64 153.91,930.55 154.11,931.45 154.32,932.34 154.52,933.21 154.73,934.06 154.94,934.90 155.14,935.71 155.35,936.50 155.55,937.27 155.76,938.02 155.96,938.73 156.17,939.43 156.38,940.09 156.58,940.72 156.79,941.33 156.99,941.90 157.20,942.44 157.40,942.94 157.61,943.41 157.82,943.85 158.02,944.25 158.23,944.61 158.43,944.93 158.64,945.22 158.84,945.47 159.05,945.67 159.26,945.84 159.46,945.97 159.67,946.06 159.87,946.10 160.08,946.11 160.28,946.07 160.49,945.99 160.70,945.87 160.90,945.71 161.11,945.51 161.31,945.26 161.52,944.98 161.72,944.65 161.93,944.28 162.14,943.88 162.34,943.43 162.55,942.94 162.75,942.42 162.96,941.86 163.16,941.26 163.37,940.62 163.58,939.95 163.78,939.24 163.99,938.50 164.19,937.73 164.40,936.92 164.60,936.09 164.81,935.22 165.02,934.32 165.22,933.40 165.43,932.45 165.63,931.48 165.84,930.48 166.04,929.46 166.25,928.42 166.45,927.36 166.66,926.28 166.87,925.19 167.07,924.08 167.28,922.95 167.48,921.82 167.69,920.67 167.89,919.52 168.10,918.35 168.31,917.19 168.51,916.01 168.72,914.84 168.92,913.66 169.13,912.49 169.33,911.31 169.54,910.15 169.75,908.98 169.95,907.83 170.16,906.68 170.36,905.54 170.57,904.41 170.77,903.30 170.98,902.20 171.19,901.12 171.39,900.06 171.60,899.02 171.80,897.99 172.01,896.99 172.21,896.01 172.42,895.06 172.63,894.14 172.83,893.24 173.04,892.36 173.24,891.52 173.45,890.71 173.65,889.93 173.86,889.19 174.07,888.48 174.27,887.80 174.48,887.16 174.68,886.55 174.89,885.98 175.09,885.45 175.30,884.96 175.51,884.51 175.71,884.09 175.92,883.72 176.12,883.39 176.33,883.10 176.53,882.84 176.74,882.63 176.95,882.47 177.15,882.34 177.36,882.25 177.56,882.21 177.77,882.21 177.97,882.25 178.18,882.33 178.39,882.45 178.59,882.61 178.80,882.81 179.00,883.05 179.21,883.33 179.41,883.65 179.62,884.01 179.83,884.40 180.03,884.83 180.24,885.29 180.44,885.79 180.65,886.33 180.85,886.89 181.06,887.49 181.27,888.12 181.47,888.78 181.68,889.47 181.88,890.18 182.09,890.92 182.29,891.69 182.50,892.47 182.71,893.28 182.91,894.11 183.12,894.96 183.32,895.83 183.53,896.72 183.73,897.62 183.94,898.53 184.15,899.45 184.35,900.39 184.56,901.33 184.76,902.28 184.97,903.23 185.17,904.19 185.38,905.15 185.59,906.12 185.79,907.08 186.00,908.04 186.20,908.99 186.41,909.94 186.61,910.88 186.82,911.81 187.02,912.73 187.23,913.64 187.44,914.54 187.64,915.42 187.85,916.28 188.05,917.12 188.26,917.95 188.46,918.75 188.67,919.54 188.88,920.29 189.08,921.03 189.29,921.74 189.49,922.41 189.70,923.07 189.90,923.69 190.11,924.28 190.32,924.83 190.52,925.36 190.73,925.85 190.93,926.31 191.14,926.73 191.34,927.11 191.55,927.46 191.76,927.77 191.96,928.03 192.17,928.27 192.37,928.46 192.58,928.61 192.78,928.72 192.99,928.79 193.20,928.82 193.40,928.80 193.61,928.75 193.81,928.65 194.02,928.51 194.22,928.34 194.43,928.11 194.64,927.85 194.84,927.55 195.05,927.21 195.25,926.82 195.46,926.40 195.66,925.94 195.87,925.43 196.08,924.89 196.28,924.32 196.49,923.70 196.69,923.05 196.90,922.36 197.10,921.64 197.31,920.89 197.52,920.10 197.72,919.28 197.93,918.43 198.13,917.55 198.34,916.65 198.54,915.71 198.75,914.75 198.96,913.77 199.16,912.76 199.37,911.73 199.57,910.69 199.78,909.62 199.98,908.53 200.19,907.43 200.40,906.31 200.60,905.19 200.81,904.05 201.01,902.90 201.22,901.74 201.42,900.57 201.63,899.40 201.84,898.23 202.04,897.05 202.25,895.88 202.45,894.70 202.66,893.53 202.86,892.36 203.07,891.20 203.28,890.05 203.48,888.91 203.69,887.77 203.89,886.65 204.10,885.55 204.30,884.46 204.51,883.38 204.72,882.33 204.92,881.29 205.13,880.28 205.33,879.29 205.54,878.32 205.74,877.38 205.95,876.46 206.16,875.57 206.36,874.71 206.57,873.89 206.77,873.09 206.98,872.32 207.18,871.59 207.39,870.89 207.59,870.23 207.80,869.60 208.01,869.01 208.21,868.46 208.42,867.95 208.62,867.47 208.83,867.04 209.03,866.64 209.24,866.28 209.45,865.97 209.65,865.69 209.86,865.46 210.06,865.27 210.27,865.12 210.47,865.01 210.68,864.94 210.89,864.91 211.09,864.93 211.30,864.98 211.50,865.08 211.71,865.22 211.91,865.40 212.12,865.61 212.33,865.87 212.53,866.17 212.74,866.50 212.94,866.87 213.15,867.28 213.35,867.73 213.56,868.21 213.77,868.72 213.97,869.27 214.18,869.85 214.38,870.46 214.59,871.10 214.79,871.77 215.00,872.47 215.21,873.20 215.41,873.95 215.62,874.72 215.82,875.52 216.03,876.34 216.23,877.18 216.44,878.03 216.65,878.91 216.85,879.80 217.06,880.70 217.26,881.62 217.47,882.55 217.67,883.49 217.88,884.43 218.09,885.39 218.29,886.34 218.50,887.30 218.70,888.27 218.91,889.23 219.11,890.19 219.32,891.14 219.53,892.10 219.73,893.04 219.94,893.98 220.14,894.91 220.35,895.82 220.55,896.72 220.76,897.61 220.97,898.49 221.17,899.34 221.38,900.18 221.58,901.00 221.79,901.79 221.99,902.56 222.20,903.31 222.41,904.04 222.61,904.73 222.82,905.40 223.02,906.04 223.23,906.65 223.43,907.22 223.64,907.77 223.85,908.28 224.05,908.75 224.26,909.19 224.46,909.60 224.67,909.97 224.87,910.30 225.08,910.59 225.29,910.84 225.49,911.06 225.70,911.23 225.90,911.37 226.11,911.46 226.31,911.51 226.52,911.52 226.73,911.49 226.93,911.42 227.14,911.31 227.34,911.15 227.55,910.95 227.75,910.72 227.96,910.44 228.16,910.12 228.37,909.76 228.58,909.36 228.78,908.92 228.99,908.44 229.19,907.92 229.40,907.36 229.60,906.77 229.81,906.14 230.02,905.47 230.22,904.77 230.43,904.04 230.63,903.27 230.84,902.47 231.04,901.64 231.25,900.77 231.46,899.88 231.66,898.96 231.87,898.02 232.07,897.05 232.28,896.06 232.48,895.04 232.69,894.00 232.90,892.95 233.10,891.87 233.31,890.78 233.51,889.67 233.72,888.55 233.92,887.41 234.13,886.27 234.34,885.12 234.54,883.95 234.75,882.79 234.95,881.62 235.16,880.44 235.36,879.26 235.57,878.09 235.78,876.92 235.98,875.75 236.19,874.58 236.39,873.42 236.60,872.27 236.80,871.14 237.01,870.01 237.22,868.89 237.42,867.79 237.63,866.71 237.83,865.64 238.04,864.60 238.24,863.57 238.45,862.56 238.66,861.58 238.86,860.63 239.07,859.70 239.27,858.79 239.48,857.92 239.68,857.07 239.89,856.25 240.10,855.47 240.30,854.72 240.51,854.00 240.71,853.32 240.92,852.67 241.12,852.06 241.33,851.49 241.54,850.95 241.74,850.45 241.95,849.99 242.15,849.57 242.36,849.19 242.56,848.85 242.77,848.55 242.98,848.30 243.18,848.08 243.39,847.90 243.59,847.77 243.80,847.68 244.00,847.63 244.21,847.62 244.42,847.65 244.62,847.73 244.83,847.84 245.03,848.00 245.24,848.19 245.44,848.42 245.65,848.70 245.86,849.01 246.06,849.36 246.27,849.75 246.47,850.17 246.68,850.63 246.88,851.13 247.09,851.65 247.30,852.22 247.50,852.81 247.71,853.43 247.91,854.09 248.12,854.77 248.32,855.48 248.53,856.21 248.74,856.98 248.94,857.76 249.15,858.57 249.35,859.39 249.56,860.24 249.76,861.11 249.97,861.99 250.17,862.88 250.38,863.79 250.59,864.72 250.79,865.65 251.00,866.59 251.20,867.54 251.41,868.49 251.61,869.45 251.82,870.41 252.03,871.38 252.23,872.34 252.44,873.30 252.64,874.25 252.85,875.20 253.05,876.14 253.26,877.08 253.47,878.00 253.67,878.91 253.88,879.81 254.08,880.69 254.29,881.56 254.49,882.40 254.70,883.23 254.91,884.04 255.11,884.83 255.32,885.59 255.52,886.33 255.73,887.04 255.93,887.72 256.14,888.38 256.35,889.00 256.55,889.60 256.76,890.16 256.96,890.69 257.17,891.19 257.37,891.65 257.58,892.08 257.79,892.47 257.99,892.82 258.20,893.13 258.40,893.41 258.61,893.64 258.81,893.84 259.02,894.00 259.23,894.12 259.43,894.19 259.64,894.23 259.84,894.22 260.05,894.17 260.25,894.08 260.46,893.95 260.67,893.78 260.87,893.57 261.08,893.31 261.28,893.02 261.49,892.68 261.69,892.30 261.90,891.88 262.11,891.43 262.31,890.93 262.52,890.40 262.72,889.82 262.93,889.22 263.13,888.57 263.34,887.89 263.55,887.17 263.75,886.42 263.96,885.64 264.16,884.83 264.37,883.98 264.57,883.11 264.78,882.21 264.99,881.28 265.19,880.32 265.40,879.34 265.60,878.34 265.81,877.31 266.01,876.27 266.22,875.20 266.43,874.12 266.63,873.02 266.84,871.91 267.04,870.78 267.25,869.64 267.45,868.49 267.66,867.34 267.87,866.17 268.07,865.00 268.28,863.83 268.48,862.65 268.69,861.48 268.89,860.30 269.10,859.13 269.31,857.96 269.51,856.80 269.72,855.65 269.92,854.50 270.13,853.37 270.33,852.24 270.54,851.14 270.74,850.04 270.95,848.97 271.16,847.91 271.36,846.87 271.57,845.85 271.77,844.86 271.98,843.89 272.18,842.94 272.39,842.02 272.60,841.13 272.80,840.26 273.01,839.43 273.21,838.63 273.42,837.86 273.62,837.12 273.83,836.42 274.04,835.75 274.24,835.12 274.45,834.52 274.65,833.96 274.86,833.44 275.06,832.96 275.27,832.52 275.48,832.11 275.68,831.75 275.89,831.43 276.09,831.15 276.30,830.91 276.50,830.71 276.71,830.55 276.92,830.43 277.12,830.36 277.33,830.33 277.53,830.34 277.74,830.39 277.94,830.48 278.15,830.61 278.36,830.78 278.56,830.99 278.77,831.24 278.97,831.53 279.18,831.86 279.38,832.23 279.59,832.63 279.80,833.07 280.00,833.54 280.21,834.05 280.41,834.59 280.62,835.17 280.82,835.77 281.03,836.41 281.24,837.08 281.44,837.77 281.65,838.49 281.85,839.24 282.06,840.01 282.26,840.80 282.47,841.62 282.68,842.45 282.88,843.31 283.09,844.18 283.29,845.07 283.50,845.97 283.70,846.89 283.91,847.81 284.12,848.75 284.32,849.70 284.53,850.65 284.73,851.60 284.94,852.56 285.14,853.53 285.35,854.49 285.56,855.45 285.76,856.40 285.97,857.36 286.17,858.30 286.38,859.24 286.58,860.17 286.79,861.09 287.00,861.99 287.20,862.89 287.41,863.76 287.61,864.62 287.82,865.46 288.02,866.28 288.23,867.08 288.44,867.86 288.64,868.61 288.85,869.34 289.05,870.04 289.26,870.71 289.46,871.35 289.67,871.96 289.88,872.55 290.08,873.09 290.29,873.61 290.49,874.09 290.70,874.54 290.90,874.95 291.11,875.32 291.31,875.66 291.52,875.96 291.73,876.22 291.93,876.44 292.14,876.62 292.34,876.76 292.55,876.86 292.75,876.92 292.96,876.94 293.17,876.91 293.37,876.85 293.58,876.74 293.78,876.59 293.99,876.40 294.19,876.17 294.40,875.90 294.61,875.59 294.81,875.23 295.02,874.84 295.22,874.40 295.43,873.93 295.63,873.42 295.84,872.87 296.05,872.28 296.25,871.66 296.46,870.99 296.66,870.30 296.87,869.57 297.07,868.81 297.28,868.01 297.49,867.18 297.69,866.33 297.90,865.44 298.10,864.53 298.31,863.59 298.51,862.62 298.72,861.63 298.93,860.62 299.13,859.58 299.34,858.53 299.54,857.46 299.75,856.37 299.95,855.26 300.16,854.14 300.37,853.01 300.57,851.87 300.78,850.72 300.98,849.56 301.19,848.39 301.39,847.22 301.60,846.04 301.81,844.87 302.01,843.69 302.22,842.52 302.42,841.35 302.63,840.18 302.83,839.02 303.04,837.87 303.25,836.73 303.45,835.60 303.66,834.48 303.86,833.38 304.07,832.30 304.27,831.23 304.48,830.18 304.69,829.15 304.89,828.14 305.10,827.15 305.30,826.19 305.51,825.26 305.71,824.35 305.92,823.47 306.13,822.62 306.33,821.80 306.54,821.01 306.74,820.25 306.95,819.53 307.15,818.84 307.36,818.19 307.57,817.57 307.77,816.99 307.98,816.45 308.18,815.94 308.39,815.48 308.59,815.05 308.80,814.66 309.01,814.32 309.21,814.01 309.42,813.75 309.62,813.53 309.83,813.34 310.03,813.20 310.24,813.10 310.44,813.05 310.65,813.03 310.86,813.06 311.06,813.13 311.27,813.23 311.47,813.38 311.68,813.57 311.88,813.80 312.09,814.07 312.30,814.37 312.50,814.72 312.71,815.10 312.91,815.52 313.12,815.97 313.32,816.46 313.53,816.98 313.74,817.54 313.94,818.13 314.15,818.74 314.35,819.39 314.56,820.07 314.76,820.78 314.97,821.51 315.18,822.27 315.38,823.05 315.59,823.85 315.79,824.67 316.00,825.52 316.20,826.38 316.41,827.26 316.62,828.15 316.82,829.06 317.03,829.98 317.23,830.91 317.44,831.85 317.64,832.80 317.85,833.76 318.06,834.71 318.26,835.67 318.47,836.64 318.67,837.60 318.88,838.56 319.08,839.51 319.29,840.46 319.50,841.41 319.70,842.34 319.91,843.27 320.11,844.18 320.32,845.08 320.52,845.96 320.73,846.83 320.94,847.68 321.14,848.52 321.35,849.33 321.55,850.12 321.76,850.88 321.96,851.62 322.17,852.34 322.38,853.03 322.58,853.69 322.79,854.32 322.99,854.92 323.20,855.49 323.40,856.02 323.61,856.52 323.82,856.99 324.02,857.42 324.23,857.82 324.43,858.18 324.64,858.50 324.84,858.78 325.05,859.02 325.26,859.23 325.46,859.39 325.67,859.51 325.87,859.60 326.08,859.64 326.28,859.64 326.49,859.60 326.70,859.51 326.90,859.39 327.11,859.22 327.31,859.02 327.52,858.77 327.72,858.48 327.93,858.15 328.14,857.78 328.34,857.37 328.55,856.92 328.75,856.43 328.96,855.90 329.16,855.33 329.37,854.73 329.58,854.09 329.78,853.41 329.99,852.70 330.19,851.96 330.40,851.18 330.60,850.37 330.81,849.53 331.01,848.67 331.22,847.77 331.43,846.84 331.63,845.89 331.84,844.92 332.04,843.92 332.25,842.89 332.45,841.85 332.66,840.79 332.87,839.71 333.07,838.61 333.28,837.50 333.48,836.38 333.69,835.24 333.89,834.09 334.10,832.94 334.31,831.77 334.51,830.60 334.72,829.43 334.92,828.26 335.13,827.08 335.33,825.90 335.54,824.73 335.75,823.56 335.95,822.40 336.16,821.24 336.36,820.10 336.57,818.96 336.77,817.84 336.98,816.73 337.19,815.63 337.39,814.55 337.60,813.49 337.80,812.45 338.01,811.43 338.21,810.43 338.42,809.45 338.63,808.50 338.83,807.58 339.04,806.68 339.24,805.81 339.45,804.98 339.65,804.17 339.86,803.39 340.07,802.65 340.27,801.94 340.48,801.27 340.68,800.63 340.89,800.03 341.09,799.46 341.30,798.94 341.51,798.45 341.71,798.00 341.92,797.59 342.12,797.22 342.33,796.89 342.53,796.60 342.74,796.36 342.95,796.15 343.15,795.99 343.36,795.86 343.56,795.78 343.77,795.74 343.97,795.75 344.18,795.79 344.39,795.87 344.59,796.00 344.80,796.16 345.00,796.37 345.21,796.61 345.41,796.90 345.62,797.22 345.83,797.58 346.03,797.98 346.24,798.41 346.44,798.88 346.65,799.38 346.85,799.92 347.06,800.49 347.27,801.09 347.47,801.72 347.68,802.38 347.88,803.07 348.09,803.79 348.29,804.53 348.50,805.30 348.71,806.09 348.91,806.90 349.12,807.73 349.32,808.59 349.53,809.45 349.73,810.34 349.94,811.24 350.15,812.15 350.35,813.08 350.56,814.01 350.76,814.96 350.97,815.91 351.17,816.86 351.38,817.82 351.59,818.79 351.79,819.75 352.00,820.71 352.20,821.67 352.41,822.62 352.61,823.57 352.82,824.51 353.02,825.44 353.23,826.36 353.44,827.26 353.64,828.16 353.85,829.04 354.05,829.90 354.26,830.74 354.46,831.57 354.67,832.37 354.88,833.15 355.08,833.90 355.29,834.63 355.49,835.34 355.70,836.02 355.90,836.66 356.11,837.28 356.32,837.87 356.52,838.42 356.73,838.94 356.93,839.43 357.14,839.88 357.34,840.30 357.55,840.68 357.76,841.02 357.96,841.33 358.17,841.59 358.37,841.82 358.58,842.01 358.78,842.15 358.99,842.26 359.20,842.33 359.40,842.35 359.61,842.33 359.81,842.27 360.02,842.17 360.22,842.03 360.43,841.85 360.64,841.62 360.84,841.36 361.05,841.05 361.25,840.70 361.46,840.32 361.66,839.89 361.87,839.42 362.08,838.92 362.28,838.37 362.49,837.79 362.69,837.17 362.90,836.52 363.10,835.83 363.31,835.10 363.52,834.34 363.72,833.55 363.93,832.73 364.13,831.88 364.34,831.00 364.54,830.09 364.75,829.15 364.96,828.19 365.16,827.20 365.37,826.20 365.57,825.16 365.78,824.11 365.98,823.04 366.19,821.96 366.40,820.85 366.60,819.74 366.81,818.61 367.01,817.47 367.22,816.31 367.42,815.15 367.63,813.99 367.84,812.82 368.04,811.64 368.25,810.47 368.45,809.29 368.66,808.12 368.86,806.95 369.07,805.78 369.28,804.62 369.48,803.47 369.69,802.33 369.89,801.19 370.10,800.08 370.30,798.97 370.51,797.88 370.72,796.81 370.92,795.76 371.13,794.72 371.33,793.71 371.54,792.72 371.74,791.76 371.95,790.82 372.15,789.91 372.36,789.02 372.57,788.16 372.77,787.34 372.98,786.55 373.18,785.78 373.39,785.05 373.59,784.36 373.80,783.70 374.01,783.08 374.21,782.49 374.42,781.94 374.62,781.43 374.83,780.96 375.03,780.53 375.24,780.14 375.45,779.78 375.65,779.47 375.86,779.20 376.06,778.97 376.27,778.78 376.47,778.64 376.68,778.53 376.89,778.47 377.09,778.45 377.30,778.47 377.50,778.53 377.71,778.63 377.91,778.77 378.12,778.95 378.33,779.17 378.53,779.43 378.74,779.73 378.94,780.07 379.15,780.45 379.35,780.86 379.56,781.31 379.77,781.79 379.97,782.31 380.18,782.86 380.38,783.44 380.59,784.06 380.79,784.70 381.00,785.37 381.21,786.08 381.41,786.80 381.62,787.56 381.82,788.33 382.03,789.13 382.23,789.95 382.44,790.80 382.65,791.66 382.85,792.53 383.06,793.42 383.26,794.33 383.47,795.25 383.67,796.18 383.88,797.12 384.09,798.06 384.29,799.02 384.50,799.97 384.70,800.93 384.91,801.90 385.11,802.86 385.32,803.82 385.53,804.77 385.73,805.72 385.94,806.67 386.14,807.61 386.35,808.53 386.55,809.45 386.76,810.35 386.97,811.24 387.17,812.11 387.38,812.96 387.58,813.80 387.79,814.61 387.99,815.41 388.20,816.18 388.41,816.92 388.61,817.64 388.82,818.33 389.02,819.00 389.23,819.63 389.43,820.24 389.64,820.81 389.85,821.35 390.05,821.86 390.26,822.33 390.46,822.77 390.67,823.17 390.87,823.54 391.08,823.86 391.29,824.15 391.49,824.40 391.70,824.61 391.90,824.78 392.11,824.91 392.31,825.00 392.52,825.05 392.73,825.06 392.93,825.02 393.14,824.94 393.34,824.83 393.55,824.67 393.75,824.47 393.96,824.23 394.16,823.94 394.37,823.62 394.58,823.25 394.78,822.85 394.99,822.40 395.19,821.92 395.40,821.40 395.60,820.84 395.81,820.24 396.02,819.61 396.22,818.94 396.43,818.23 396.63,817.49 396.84,816.72 397.04,815.92 397.25,815.08 397.46,814.22 397.66,813.33 397.87,812.41 398.07,811.46 398.28,810.49 398.48,809.49 398.69,808.47 398.90,807.43 399.10,806.37 399.31,805.30 399.51,804.20 399.72,803.09 399.92,801.97 400.13,800.84 400.34,799.69 400.54,798.54 400.75,797.37 400.95,796.20 401.16,795.03 401.36,793.86 401.57,792.68 401.78,791.51 401.98,790.33 402.19,789.16 402.39,788.00 402.60,786.84 402.80,785.69 403.01,784.56 403.22,783.43 403.42,782.32 403.63,781.22 403.83,780.14 404.04,779.07 404.24,778.03 404.45,777.00 404.66,776.00 404.86,775.02 405.07,774.07 405.27,773.14 405.48,772.24 405.68,771.36 405.89,770.52 406.10,769.71 406.30,768.93 406.51,768.18 406.71,767.47 406.92,766.79 407.12,766.14 407.33,765.53 407.54,764.96 407.74,764.43 407.95,763.94 408.15,763.48 408.36,763.07 408.56,762.69 408.77,762.35 408.98,762.06 409.18,761.81 409.39,761.59 409.59,761.42 409.80,761.29 410.00,761.21 410.21,761.16 410.42,761.16 410.62,761.19 410.83,761.27 411.03,761.39 411.24,761.55 411.44,761.75 411.65,761.98 411.86,762.26 412.06,762.58 412.27,762.93 412.47,763.32 412.68,763.75 412.88,764.21 413.09,764.71 413.29,765.24 413.50,765.81 413.71,766.40 413.91,767.03 414.12,767.69 414.32,768.37 414.53,769.09 414.73,769.82 414.94,770.59 415.15,771.37 415.35,772.18 415.56,773.01 415.76,773.86 415.97,774.73 416.17,775.61 416.38,776.51 416.59,777.42 416.79,778.34 417.00,779.28 417.20,780.22 417.41,781.17 417.61,782.12 417.82,783.08 418.03,784.04 418.23,785.01 418.44,785.97 418.64,786.93 418.85,787.88 419.05,788.83 419.26,789.77 419.47,790.70 419.67,791.62 419.88,792.53 420.08,793.43 420.29,794.31 420.49,795.18 420.70,796.02 420.91,796.85 421.11,797.65 421.32,798.44 421.52,799.20 421.73,799.93 421.93,800.64 422.14,801.32 422.35,801.98 422.55,802.60 422.76,803.19 422.96,803.75 423.17,804.28 423.37,804.77 423.58,805.23 423.79,805.65 423.99,806.04 424.20,806.39 424.40,806.70 424.61,806.97 424.81,807.20 425.02,807.39 425.23,807.55 425.43,807.66 425.64,807.73 425.84,807.76 426.05,807.75 426.25,807.70 426.46,807.61 426.67,807.47 426.87,807.30 427.08,807.08 427.28,806.82 427.49,806.52 427.69,806.18 427.90,805.80 428.11,805.37 428.31,804.91 428.52,804.41 428.72,803.88 428.93,803.30 429.13,802.69 429.34,802.04 429.55,801.35 429.75,800.63 429.96,799.88 430.16,799.10 430.37,798.28 430.57,797.43 430.78,796.56 430.99,795.65 431.19,794.72 431.40,793.76 431.60,792.78 431.81,791.77 432.01,790.74 432.22,789.70 432.43,788.63 432.63,787.55 432.84,786.45 433.04,785.33 433.25,784.20 433.45,783.06 433.66,781.91 433.87,780.75 434.07,779.59 434.28,778.42 434.48,777.25 434.69,776.07 434.89,774.89 435.10,773.72 435.30,772.55 435.51,771.38 435.72,770.22 435.92,769.07 436.13,767.92 436.33,766.79 436.54,765.67 436.74,764.56 436.95,763.47 437.16,762.39 437.36,761.34 437.57,760.30 437.77,759.29 437.98,758.29 438.18,757.32 438.39,756.38 438.60,755.46 438.80,754.57 439.01,753.71 439.21,752.88 439.42,752.08 439.62,751.32 439.83,750.58 440.04,749.88 440.24,749.22 440.45,748.59 440.65,748.00 440.86,747.44 441.06,746.93 441.27,746.45 441.48,746.01 441.68,745.61 441.89,745.25 442.09,744.93 442.30,744.66 442.50,744.42 442.71,744.22 442.92,744.07 443.12,743.96 443.33,743.89 443.53,743.86 443.74,743.87 443.94,743.93 444.15,744.02 444.36,744.16 444.56,744.33 444.77,744.55 444.97,744.80 445.18,745.10 445.38,745.43 445.59,745.80 445.80,746.21 446.00,746.65 446.21,747.13 446.41,747.64 446.62,748.18 446.82,748.76 447.03,749.37 447.24,750.01 447.44,750.68 447.65,751.38 447.85,752.10 448.06,752.85 448.26,753.62 448.47,754.42 448.68,755.24 448.88,756.07 449.09,756.93 449.29,757.80 449.50,758.69 449.70,759.60 449.91,760.51 450.12,761.44 450.32,762.38 450.53,763.33 450.73,764.28 450.94,765.23 451.14,766.19 451.35,767.16 451.56,768.12 451.76,769.08 451.97,770.03 452.17,770.99 452.38,771.93 452.58,772.87 452.79,773.80 453.00,774.71 453.20,775.62 453.41,776.51 453.61,777.38 453.82,778.24 454.02,779.08 454.23,779.90 454.43,780.69 454.64,781.47 454.85,782.22 455.05,782.94 455.26,783.64 455.46,784.31 455.67,784.95 455.87,785.56 456.08,786.14 456.29,786.68 456.49,787.20 456.70,787.67 456.90,788.12 457.11,788.52 457.31,788.89 457.52,789.23 457.73,789.52 457.93,789.78 458.14,789.99 458.34,790.17 458.55,790.31 458.75,790.40 458.96,790.46 459.17,790.47 459.37,790.44 459.58,790.37 459.78,790.26 459.99,790.11 460.19,789.92 460.40,789.68 460.61,789.40 460.81,789.09 461.02,788.73 461.22,788.33 461.43,787.89 461.63,787.41 461.84,786.90 462.05,786.34 462.25,785.75 462.46,785.13 462.66,784.46 462.87,783.76 463.07,783.03 463.28,782.26 463.49,781.46 463.69,780.63 463.90,779.77 464.10,778.89 464.31,777.97 464.51,777.03 464.72,776.06 464.93,775.07 465.13,774.05 465.34,773.01 465.54,771.96 465.75,770.88 465.95,769.79 466.16,768.69 466.37,767.56 466.57,766.43 466.78,765.29 466.98,764.13 467.19,762.97 467.39,761.81 467.60,760.63 467.81,759.46 468.01,758.28 468.22,757.11 468.42,755.93 468.63,754.76 468.83,753.60 469.04,752.44 469.25,751.29 469.45,750.15 469.66,749.02 469.86,747.91 470.07,746.81 470.27,745.72 470.48,744.65 470.69,743.61 470.89,742.58 471.10,741.57 471.30,740.59 471.51,739.63 471.71,738.70 471.92,737.79 472.13,736.92 472.33,736.07 472.54,735.25 472.74,734.46 472.95,733.71 473.15,732.99 473.36,732.31 473.57,731.66 473.77,731.04 473.98,730.47 474.18,729.93 474.39,729.43 474.59,728.97 474.80,728.54 475.00,728.16 475.21,727.82 475.42,727.52 475.62,727.26 475.83,727.04 476.03,726.86 476.24,726.73 476.44,726.63 476.65,726.58 476.86,726.57 477.06,726.60 477.27,726.67 477.47,726.78 477.68,726.93 477.88,727.13 478.09,727.36 478.30,727.63 478.50,727.94 478.71,728.29 478.91,728.67 479.12,729.09 479.32,729.55 479.53,730.04 479.74,730.57 479.94,731.13 480.15,731.72 480.35,732.34 480.56,732.99 480.76,733.68 480.97,734.38 481.18,735.12 481.38,735.88 481.59,736.66 481.79,737.47 482.00,738.29 482.20,739.14 482.41,740.00 482.62,740.88 482.82,741.78 483.03,742.69 483.23,743.61 483.44,744.54 483.64,745.48 483.85,746.43 484.06,747.39 484.26,748.34 484.47,749.30 484.67,750.27 484.88,751.23 485.08,752.19 485.29,753.14 485.50,754.09 485.70,755.03 485.91,755.97 486.11,756.89 486.32,757.80 486.52,758.70 486.73,759.59 486.94,760.45 487.14,761.30 487.35,762.13 487.55,762.94 487.76,763.73 487.96,764.49 488.17,765.23 488.38,765.94 488.58,766.63 488.79,767.29 488.99,767.91 489.20,768.51 489.40,769.08 489.61,769.61 489.82,770.11 490.02,770.57 490.23,771.00 490.43,771.39 490.64,771.75 490.84,772.06 491.05,772.34 491.26,772.58 491.46,772.78 491.67,772.94 491.87,773.06 492.08,773.14 492.28,773.17 492.49,773.17 492.70,773.13 492.90,773.04 493.11,772.91 493.31,772.74 493.52,772.53 493.72,772.28 493.93,771.98 494.14,771.65 494.34,771.27 494.55,770.86 494.75,770.40 494.96,769.91 495.16,769.38 495.37,768.81 495.58,768.20 495.78,767.56 495.99,766.88 496.19,766.17 496.40,765.42 496.60,764.64 496.81,763.83 497.01,762.98 497.22,762.11 497.43,761.21 497.63,760.28 497.84,759.33 498.04,758.35 498.25,757.35 498.45,756.32 498.66,755.28 498.87,754.22 499.07,753.13 499.28,752.04 499.48,750.92 499.69,749.80 499.89,748.66 500.10,747.51 500.31,746.35 500.51,745.19 500.72,744.02 500.92,742.85 501.13,741.67 501.33,740.50 501.54,739.32 501.75,738.15 501.95,736.98 502.16,735.82 502.36,734.66 502.57,733.52 502.77,732.38 502.98,731.26 503.19,730.15 503.39,729.06 503.60,727.98 503.80,726.92 504.01,725.88 504.21,724.86 504.42,723.86 504.63,722.89 504.83,721.94 505.04,721.02 505.24,720.13 505.45,719.26 505.65,718.43 505.86,717.62 506.07,716.85 506.27,716.11 506.48,715.41 506.68,714.74 506.89,714.10 507.09,713.50 507.30,712.94 507.51,712.42 507.71,711.94 507.92,711.49 508.12,711.08 508.33,710.72 508.53,710.39 508.74,710.11 508.95,709.87 509.15,709.67 509.36,709.51 509.56,709.39 509.77,709.31 509.97,709.28 510.18,709.28 510.39,709.33 510.59,709.42 510.80,709.55 511.00,709.72 511.21,709.93 511.41,710.17 511.62,710.46 511.83,710.79 512.03,711.15 512.24,711.55 512.44,711.99 512.65,712.46 512.85,712.97 513.06,713.51 513.27,714.08 513.47,714.68 513.68,715.32 513.88,715.98 514.09,716.68 514.29,717.40 514.50,718.14 514.71,718.91 514.91,719.70 515.12,720.52 515.32,721.35 515.53,722.21 515.73,723.08 515.94,723.96 516.14,724.87 516.35,725.78 516.56,726.71 516.76,727.64 516.97,728.59 517.17,729.54 517.38,730.49 517.58,731.45 517.79,732.42 518.00,733.38 518.20,734.34 518.41,735.30 518.61,736.25 518.82,737.20 519.02,738.13 519.23,739.06 519.44,739.98 519.64,740.89 519.85,741.78 520.05,742.66 520.26,743.52 520.46,744.36 520.67,745.18 520.88,745.98 521.08,746.76 521.29,747.51 521.49,748.24 521.70,748.94 521.90,749.62 522.11,750.26 522.32,750.88 522.52,751.46 522.73,752.01 522.93,752.53 523.14,753.01 523.34,753.46 523.55,753.88 523.76,754.25 523.96,754.59 524.17,754.89 524.37,755.15 524.58,755.38 524.78,755.56 524.99,755.70 525.20,755.80 525.40,755.86 525.61,755.88 525.81,755.86 526.02,755.80 526.22,755.70 526.43,755.55 526.64,755.36 526.84,755.13 527.05,754.86 527.25,754.55 527.46,754.20 527.66,753.81 527.87,753.38 528.08,752.91 528.28,752.40 528.49,751.85 528.69,751.26 528.90,750.64 529.10,749.98 529.31,749.29 529.52,748.56 529.72,747.80 529.93,747.01 530.13,746.18 530.34,745.33 530.54,744.44 530.75,743.53 530.96,742.59 531.16,741.63 531.37,740.64 531.57,739.63 531.78,738.60 531.98,737.54 532.19,736.47 532.40,735.38 532.60,734.28 532.81,733.16 533.01,732.03 533.22,730.88 533.42,729.73 533.63,728.57 533.84,727.41 534.04,726.24 534.25,725.06 534.45,723.89 534.66,722.71 534.86,721.54 535.07,720.37 535.28,719.20 535.48,718.04 535.69,716.89 535.89,715.75 536.10,714.62 536.30,713.50 536.51,712.40 536.72,711.31 536.92,710.24 537.13,709.19 537.33,708.16 537.54,707.15 537.74,706.16 537.95,705.20 538.15,704.26 538.36,703.35 538.57,702.47 538.77,701.62 538.98,700.79 539.18,700.00 539.39,699.24 539.59,698.52 539.80,697.83 540.01,697.17 540.21,696.55 540.42,695.97 540.62,695.43 540.83,694.92 541.03,694.45 541.24,694.02 541.45,693.63 541.65,693.29 541.86,692.98 542.06,692.71 542.27,692.49 542.47,692.30 542.68,692.16 542.89,692.06 543.09,692.00 543.30,691.98 543.50,692.00 543.71,692.07 543.91,692.17 544.12,692.32 544.33,692.51 544.53,692.73 544.74,693.00 544.94,693.30 545.15,693.64 545.35,694.02 545.56,694.44 545.77,694.89 545.97,695.38 546.18,695.90 546.38,696.45 546.59,697.04 546.79,697.65 547.00,698.30 547.21,698.98 547.41,699.68 547.62,700.41 547.82,701.17 548.03,701.95 548.23,702.75 548.44,703.57 548.65,704.42 548.85,705.28 549.06,706.15 549.26,707.05 549.47,707.96 549.67,708.88 549.88,709.81 550.09,710.75 550.29,711.69 550.50,712.65 550.70,713.60 550.91,714.56 551.11,715.53 551.32,716.49 551.53,717.45 551.73,718.40 551.94,719.35 552.14,720.30 552.35,721.23 552.55,722.16 552.76,723.07 552.97,723.97 553.17,724.86 553.38,725.73 553.58,726.58 553.79,727.41 553.99,728.23 554.20,729.02 554.41,729.79 554.61,730.53 554.82,731.25 555.02,731.94 555.23,732.60 555.43,733.23 555.64,733.83 555.85,734.40 556.05,734.94 556.26,735.44 556.46,735.91 556.67,736.35 556.87,736.74 557.08,737.11 557.28,737.43 557.49,737.71 557.70,737.96 557.90,738.16 558.11,738.33 558.31,738.46 558.52,738.54 558.72,738.59 558.93,738.59 559.14,738.55 559.34,738.47 559.55,738.35 559.75,738.18 559.96,737.98 560.16,737.73 560.37,737.45 560.58,737.12 560.78,736.75 560.99,736.34 561.19,735.89 561.40,735.41 561.60,734.88 561.81,734.32 562.02,733.71 562.22,733.08 562.43,732.40 562.63,731.70 562.84,730.95 563.04,730.18 563.25,729.37 563.46,728.53 563.66,727.67 563.87,726.77 564.07,725.85 564.28,724.90 564.48,723.92 564.69,722.92 564.90,721.90 565.10,720.86 565.31,719.80 565.51,718.72 565.72,717.63 565.92,716.52 566.13,715.39 566.34,714.26 566.54,713.11 566.75,711.95 566.95,710.79 567.16,709.62 567.36,708.45 567.57,707.27 567.78,706.10 567.98,704.92 568.19,703.75 568.39,702.58 568.60,701.42 568.80,700.26 569.01,699.11 569.22,697.98 569.42,696.85 569.63,695.74 569.83,694.64 570.04,693.56 570.24,692.50 570.45,691.46 570.66,690.44 570.86,689.44 571.07,688.46 571.27,687.51 571.48,686.58 571.68,685.68 571.89,684.81 572.10,683.97 572.30,683.16 572.51,682.39 572.71,681.64 572.92,680.93 573.12,680.25 573.33,679.61 573.54,679.01 573.74,678.44 573.95,677.91 574.15,677.42 574.36,676.97 574.56,676.56 574.77,676.19 574.98,675.86 575.18,675.57 575.39,675.32 575.59,675.11 575.80,674.94 576.00,674.82 576.21,674.73 576.42,674.69 576.62,674.69 576.83,674.73 577.03,674.81 577.24,674.94 577.44,675.10 577.65,675.30 577.86,675.55 578.06,675.83 578.27,676.15 578.47,676.50 578.68,676.90 578.88,677.33 579.09,677.80 579.29,678.30 579.50,678.83 579.71,679.40 579.91,680.00 580.12,680.63 580.32,681.29 580.53,681.98 580.73,682.69 580.94,683.43 581.15,684.20 581.35,684.99 581.56,685.80 581.76,686.63 581.97,687.48 582.17,688.35 582.38,689.23 582.59,690.13 582.79,691.05 583.00,691.97 583.20,692.91 583.41,693.85 583.61,694.80 583.82,695.75 584.03,696.71 584.23,697.68 584.44,698.64 584.64,699.60 584.85,700.56 585.05,701.51 585.26,702.46 585.47,703.40 585.67,704.33 585.88,705.25 586.08,706.16 586.29,707.05 586.49,707.93 586.70,708.80 586.91,709.64 587.11,710.46 587.32,711.27 587.52,712.05 587.73,712.81 587.93,713.54 588.14,714.25 588.35,714.92 588.55,715.57 588.76,716.19 588.96,716.78 589.17,717.34 589.37,717.86 589.58,718.35 589.79,718.81 589.99,719.23 590.20,719.61 590.40,719.95 590.61,720.26 590.81,720.53 591.02,720.76 591.23,720.95 591.43,721.10 591.64,721.20 591.84,721.27 592.05,721.30 592.25,721.28 592.46,721.23 592.67,721.13 592.87,720.99 593.08,720.81 593.28,720.59 593.49,720.32 593.69,720.02 593.90,719.67 594.11,719.29 594.31,718.86 594.52,718.40 594.72,717.90 594.93,717.35 595.13,716.77 595.34,716.16 595.55,715.51 595.75,714.82 595.96,714.09 596.16,713.34 596.37,712.55 596.57,711.73 596.78,710.88 596.99,710.00 597.19,709.09 597.40,708.16 597.60,707.20 597.81,706.21 598.01,705.20 598.22,704.18 598.42,703.13 598.63,702.06 598.84,700.97 599.04,699.87 599.25,698.75 599.45,697.62 599.66,696.48 599.86,695.33 600.07,694.17 600.28,693.01 600.48,691.84 600.69,690.66 600.89,689.49 601.10,688.31 601.30,687.14 601.51,685.97 601.72,684.80 601.92,683.64 602.13,682.49 602.33,681.34 602.54,680.21 602.74,679.09 602.95,677.99 603.16,676.89 603.36,675.82 603.57,674.77 603.77,673.73 603.98,672.72 604.18,671.73 604.39,670.76 604.60,669.82 604.80,668.91 605.01,668.02 605.21,667.16 605.42,666.34 605.62,665.54 605.83,664.78 606.04,664.05 606.24,663.35 606.45,662.69 606.65,662.06 606.86,661.47 607.06,660.92 607.27,660.41 607.48,659.94 607.68,659.50 607.89,659.11 608.09,658.75 608.30,658.44 608.50,658.16 608.71,657.93 608.92,657.74 609.12,657.59 609.33,657.48 609.53,657.42 609.74,657.39 609.94,657.41 610.15,657.47 610.36,657.57 610.56,657.71 610.77,657.89 610.97,658.11 611.18,658.37 611.38,658.66 611.59,659.00 611.80,659.37 612.00,659.78 612.21,660.23 612.41,660.71 612.62,661.23 612.82,661.77 613.03,662.36 613.24,662.97 613.44,663.61 613.65,664.28 613.85,664.98 614.06,665.71 614.26,666.46 614.47,667.23 614.68,668.03 614.88,668.85 615.09,669.69 615.29,670.55 615.50,671.43 615.70,672.32 615.91,673.22 616.12,674.14 616.32,675.07 616.53,676.01 616.73,676.95 616.94,677.91 617.14,678.86 617.35,679.82 617.56,680.79 617.76,681.75 617.97,682.71 618.17,683.66 618.38,684.62 618.58,685.56 618.79,686.50 619.00,687.42 619.20,688.34 619.41,689.24 619.61,690.13 619.82,691.00 620.02,691.86 620.23,692.70 620.43,693.51 620.64,694.31 620.85,695.08 621.05,695.82 621.26,696.55 621.46,697.24 621.67,697.91 621.87,698.54 622.08,699.15 622.29,699.73 622.49,700.27 622.70,700.78 622.90,701.25 623.11,701.69 623.31,702.10 623.52,702.46 623.73,702.79 623.93,703.08 624.14,703.34 624.34,703.55 624.55,703.72 624.75,703.85 624.96,703.94 625.17,703.99 625.37,704.00 625.58,703.97 625.78,703.90 625.99,703.78 626.19,703.63 626.40,703.43 626.61,703.19 626.81,702.91 627.02,702.59 627.22,702.22 627.43,701.82 627.63,701.38 627.84,700.90 628.05,700.38 628.25,699.82 628.46,699.23 628.66,698.59 628.87,697.93 629.07,697.22 629.28,696.49 629.49,695.72 629.69,694.92 629.90,694.08 630.10,693.22 630.31,692.33 630.51,691.41 630.72,690.46 630.93,689.49 631.13,688.50 631.34,687.48 631.54,686.44 631.75,685.39 631.95,684.31 632.16,683.22 632.37,682.11 632.57,680.99 632.78,679.85 632.98,678.71 633.19,677.55 633.39,676.39 633.60,675.22 633.81,674.05 634.01,672.88 634.22,671.70 634.42,670.53 634.63,669.35 634.83,668.18 635.04,667.02 635.25,665.86 635.45,664.71 635.66,663.57 635.86,662.45 636.07,661.33 636.27,660.23 636.48,659.15 636.69,658.08 636.89,657.04 637.10,656.01 637.30,655.01 637.51,654.03 637.71,653.07 637.92,652.14 638.13,651.24 638.33,650.36 638.54,649.52 638.74,648.70 638.95,647.92 639.15,647.17 639.36,646.46 639.57,645.77 639.77,645.13 639.98,644.52 640.18,643.95 640.39,643.41 640.59,642.91 640.80,642.46 641.00,642.04 641.21,641.66 641.42,641.32 641.62,641.02 641.83,640.77 642.03,640.55 642.24,640.38 642.44,640.25 642.65,640.16 642.86,640.11 643.06,640.10 643.27,640.14 643.47,640.21 643.68,640.33 643.88,640.48 644.09,640.68 644.30,640.92 644.50,641.19 644.71,641.51 644.91,641.86 645.12,642.25 645.32,642.67 645.53,643.13 645.74,643.63 645.94,644.16 646.15,644.72 646.35,645.32 646.56,645.94 646.76,646.60 646.97,647.28 647.18,647.99 647.38,648.73 647.59,649.49 647.79,650.27 648.00,651.08 648.20,651.91 648.41,652.76 648.62,653.62 648.82,654.51 649.03,655.40 649.23,656.31 649.44,657.24 649.64,658.17 649.85,659.11 650.06,660.06 650.26,661.02 650.47,661.97 650.67,662.94 650.88,663.90 651.08,664.86 651.29,665.82 651.50,666.77 651.70,667.72 651.91,668.66 652.11,669.60 652.32,670.52 652.52,671.43 652.73,672.33 652.94,673.21 653.14,674.07 653.35,674.92 653.55,675.75 653.76,676.56 653.96,677.34 654.17,678.10 654.38,678.84 654.58,679.55 654.79,680.23 654.99,680.89 655.20,681.51 655.40,682.10 655.61,682.67 655.82,683.19 656.02,683.69 656.23,684.15 656.43,684.57 656.64,684.96 656.84,685.31 657.05,685.63 657.26,685.90 657.46,686.14 657.67,686.33 657.87,686.49 658.08,686.60 658.28,686.68 658.49,686.71 658.70,686.70 658.90,686.65 659.11,686.56 659.31,686.43 659.52,686.26 659.72,686.04 659.93,685.78 660.13,685.49 660.34,685.15 660.55,684.77 660.75,684.35 660.96,683.89 661.16,683.39 661.37,682.86 661.57,682.28 661.78,681.67 661.99,681.03 662.19,680.34 662.40,679.63 662.60,678.88 662.81,678.09 663.01,677.28 663.22,676.43 663.43,675.56 663.63,674.65 663.84,673.72 664.04,672.77 664.25,671.79 664.45,670.78 664.66,669.76 664.87,668.71 665.07,667.64 665.28,666.56 665.48,665.46 665.69,664.35 665.89,663.22 666.10,662.08 666.31,660.93 666.51,659.77 666.72,658.61 666.92,657.44 667.13,656.26 667.33,655.09 667.54,653.91 667.75,652.74 667.95,651.57 668.16,650.40 668.36,649.24 668.57,648.08 668.77,646.94 668.98,645.80 669.19,644.68 669.39,643.57 669.60,642.48 669.80,641.41 670.01,640.35 670.21,639.31 670.42,638.29 670.63,637.30 670.83,636.33 671.04,635.38 671.24,634.47 671.45,633.57 671.65,632.71 671.86,631.88 672.07,631.08 672.27,630.31 672.48,629.57 672.68,628.87 672.89,628.21 673.09,627.57 673.30,626.98 673.51,626.42 673.71,625.90 673.92,625.42 674.12,624.98 674.33,624.58 674.53,624.22 674.74,623.90 674.95,623.62 675.15,623.38 675.36,623.18 675.56,623.03 675.77,622.91 675.97,622.84 676.18,622.81 676.39,622.82 676.59,622.87 676.80,622.96 677.00,623.10 677.21,623.27 677.41,623.48 677.62,623.74 677.83,624.03 678.03,624.36 678.24,624.72 678.44,625.13 678.65,625.57 678.85,626.04 679.06,626.55 679.27,627.10 679.47,627.67 679.68,628.28 679.88,628.92 680.09,629.59 680.29,630.28 680.50,631.00 680.71,631.75 680.91,632.52 681.12,633.32 681.32,634.13 681.53,634.97 681.73,635.83 681.94,636.70 682.14,637.59 682.35,638.49 682.56,639.41 682.76,640.33 682.97,641.27 683.17,642.22 683.38,643.17 683.58,644.12 683.79,645.08 684.00,646.05 684.20,647.01 684.41,647.97 684.61,648.93 684.82,649.88 685.02,650.82 685.23,651.76 685.44,652.69 685.64,653.61 685.85,654.51 686.05,655.40 686.26,656.28 686.46,657.14 686.67,657.98 686.88,658.80 687.08,659.59 687.29,660.37 687.49,661.12 687.70,661.85 687.90,662.55 688.11,663.22 688.32,663.86 688.52,664.47 688.73,665.05 688.93,665.60 689.14,666.11 689.34,666.59 689.55,667.04 689.76,667.45 689.96,667.82 690.17,668.16 690.37,668.45 690.58,668.71 690.78,668.93 690.99,669.11 691.20,669.25 691.40,669.35 691.61,669.40 691.81,669.42 692.02,669.39 692.22,669.33 692.43,669.22 692.64,669.07 692.84,668.88 693.05,668.64 693.25,668.37 693.46,668.05 693.66,667.70 693.87,667.30 694.08,666.87 694.28,666.39 694.49,665.88 694.69,665.33 694.90,664.74 695.10,664.11 695.31,663.45 695.52,662.75 695.72,662.02 695.93,661.26 696.13,660.46 696.34,659.63 696.54,658.77 696.75,657.89 696.96,656.97 697.16,656.03 697.37,655.06 697.57,654.07 697.78,653.06 697.98,652.03 698.19,650.97 698.40,649.90 698.60,648.81 698.81,647.70 699.01,646.58 699.22,645.45 699.42,644.30 699.63,643.15 699.84,641.99 700.04,640.82 700.25,639.65 700.45,638.48 700.66,637.30 700.86,636.13 701.07,634.95 701.27,633.78 701.48,632.62 701.69,631.46 701.89,630.31 702.10,629.17 702.30,628.04 702.51,626.92 702.71,625.82 702.92,624.73 703.13,623.67 703.33,622.62 703.54,621.59 703.74,620.58 703.95,619.60 704.15,618.64 704.36,617.70 704.57,616.80 704.77,615.92 704.98,615.07 705.18,614.25 705.39,613.46 705.59,612.70 705.80,611.98 706.01,611.29 706.21,610.64 706.42,610.03 706.62,609.45 706.83,608.91 707.03,608.40 707.24,607.94 707.45,607.52 707.65,607.13 707.86,606.79 708.06,606.48 708.27,606.22 708.47,606.00 708.68,605.82 708.89,605.68 709.09,605.58 709.30,605.53 709.50,605.52 709.71,605.54 709.91,605.61 710.12,605.72 710.33,605.87 710.53,606.06 710.74,606.29 710.94,606.56 711.15,606.87 711.35,607.21 711.56,607.60 711.77,608.02 711.97,608.47 712.18,608.96 712.38,609.49 712.59,610.04 712.79,610.63 713.00,611.25 713.21,611.90 713.41,612.58 713.62,613.29 713.82,614.02 714.03,614.78 714.23,615.56 714.44,616.36 714.65,617.19 714.85,618.03 715.06,618.90 715.26,619.78 715.47,620.67 715.67,621.58 715.88,622.50 716.09,623.43 716.29,624.37 716.50,625.32 716.70,626.28 716.91,627.23 717.11,628.20 717.32,629.16 717.53,630.12 717.73,631.08 717.94,632.03 718.14,632.98 718.35,633.93 718.55,634.86 718.76,635.78 718.97,636.70 719.17,637.60 719.38,638.48 719.58,639.35 719.79,640.20 719.99,641.03 720.20,641.84 720.41,642.63 720.61,643.40 720.82,644.14 721.02,644.85 721.23,645.54 721.43,646.20 721.64,646.83 721.85,647.42 722.05,647.99 722.26,648.53 722.46,649.03 722.67,649.49 722.87,649.92 723.08,650.32 723.28,650.67 723.49,650.99 723.70,651.27 723.90,651.52 724.11,651.72 724.31,651.88 724.52,652.00 724.72,652.08 724.93,652.12 725.14,652.12 725.34,652.08 725.55,651.99 725.75,651.87 725.96,651.70 726.16,651.49 726.37,651.24 726.58,650.95 726.78,650.62 726.99,650.24 727.19,649.83 727.40,649.38 727.60,648.89 727.81,648.36 728.02,647.79 728.22,647.19 728.43,646.55 728.63,645.87 728.84,645.16 729.04,644.41 729.25,643.63 729.46,642.82 729.66,641.98 729.87,641.11 730.07,640.21 730.28,639.29 730.48,638.34 730.69,637.36 730.90,636.36 731.10,635.33 731.31,634.29 731.51,633.23 731.72,632.15 731.92,631.05 732.13,629.94 732.34,628.81 732.54,627.68 732.75,626.53 732.95,625.37 733.16,624.21 733.36,623.04 733.57,621.87 733.78,620.69 733.98,619.52 734.19,618.34 734.39,617.17 734.60,616.00 734.80,614.84 735.01,613.68 735.22,612.53 735.42,611.40 735.63,610.28 735.83,609.16 736.04,608.07 736.24,606.99 736.45,605.93 736.66,604.89 736.86,603.87 737.07,602.87 737.27,601.90 737.48,600.95 737.68,600.02 737.89,599.13 738.10,598.26 738.30,597.43 738.51,596.62 738.71,595.84 738.92,595.10 739.12,594.40 739.33,593.72 739.54,593.09 739.74,592.49 739.95,591.92 740.15,591.40 740.36,590.91 740.56,590.46 740.77,590.06 740.98,589.69 741.18,589.36 741.39,589.08 741.59,588.83 741.80,588.63 742.00,588.46 742.21,588.34 742.42,588.26 742.62,588.23 742.83,588.23 743.03,588.27 743.24,588.36 743.44,588.49 743.65,588.65 743.85,588.86 744.06,589.11 744.27,589.39 744.47,589.72 744.68,590.08 744.88,590.47 745.09,590.91 745.29,591.38 745.50,591.88 745.71,592.42 745.91,592.99 746.12,593.60 746.32,594.23 746.53,594.89 746.73,595.58 746.94,596.30 747.15,597.04 747.35,597.81 747.56,598.60 747.76,599.42 747.97,600.25 748.17,601.10 748.38,601.97 748.59,602.86 748.79,603.76 749.00,604.67 749.20,605.60 749.41,606.53 749.61,607.48 749.82,608.43 750.03,609.39 750.23,610.34 750.44,611.31 750.64,612.27 750.85,613.23 751.05,614.19 751.26,615.14 751.47,616.09 751.67,617.03 751.88,617.96 752.08,618.88 752.29,619.78 752.49,620.68 752.70,621.55"/>
<path class="ax" d="M135.60 585.70V1017.90H752.70M135.60 585.65h7.20M135.60 672.10h7.20M135.60 758.55h7.20M135.60 845.00h7.20M135.60 931.45h7.20M135.60 1017.90h7.20M341.30 1017.90v-7.20M547.00 1017.90v-7.20M752.70 1017.90v-7.20"/>
<text class="tk" text-anchor="end" x="127.10" y="594.75">0.20</text>
<text class="tk" text-anchor="end" x="127.10" y="681.20">0.15</text>
<text class="tk" text-anchor="end" x="127.10" y="767.65">0.10</text>
<text class="tk" text-anchor="end" x="127.10" y="854.10">0.05</text>
<text class="tk" text-anchor="end" x="127.10" y="940.55">0</text>
<text class="tk" text-anchor="end" x="127.10" y="1027.00">–0.05</text>
<text class="tk" text-anchor="middle" x="135.10" y="1052.20">0</text>
<text class="tk" text-anchor="middle" x="341.30" y="1052.20">5</text>
<text class="tk" text-anchor="middle" x="547.00" y="1052.20">10</text>
<text class="tk" text-anchor="middle" x="751.90" y="1052.20">15</text>
<polyline class="cv" points="926.10,801.85 926.31,801.88 926.51,801.96 926.72,802.11 926.92,802.31 927.13,802.56 927.33,802.87 927.54,803.23 927.75,803.63 927.95,804.09 928.16,804.59 928.36,805.13 928.57,805.71 928.77,806.32 928.98,806.97 929.18,807.65 929.39,808.35 929.60,809.06 929.80,809.80 930.01,810.55 930.21,811.30 930.42,812.06 930.62,812.81 930.83,813.56 931.04,814.30 931.24,815.03 931.45,815.74 931.65,816.43 931.86,817.09 932.06,817.72 932.27,818.31 932.47,818.87 932.68,819.39 932.89,819.87 933.09,820.30 933.30,820.68 933.50,821.02 933.71,821.30 933.91,821.53 934.12,821.70 934.33,821.82 934.53,821.88 934.74,821.88 934.94,821.83 935.15,821.72 935.35,821.56 935.56,821.34 935.76,821.07 935.97,820.75 936.18,820.38 936.38,819.96 936.59,819.50 936.79,818.99 937.00,818.44 937.20,817.86 937.41,817.25 937.62,816.60 937.82,815.93 938.03,815.24 938.23,814.53 938.44,813.80 938.64,813.07 938.85,812.32 939.05,811.58 939.26,810.84 939.47,810.10 939.67,809.37 939.88,808.66 940.08,807.96 940.29,807.28 940.49,806.63 940.70,806.00 940.91,805.41 941.11,804.85 941.32,804.32 941.52,803.83 941.73,803.38 941.93,802.98 942.14,802.62 942.35,802.30 942.55,802.03 942.76,801.81 942.96,801.63 943.17,801.50 943.37,801.42 943.58,801.38 943.78,801.39 943.99,801.45 944.20,801.55 944.40,801.69 944.61,801.87 944.81,802.09 945.02,802.34 945.22,802.63 945.43,802.94 945.64,803.29 945.84,803.66 946.05,804.05 946.25,804.45 946.46,804.87 946.66,805.30 946.87,805.74 947.07,806.19 947.28,806.63 947.49,807.07 947.69,807.50 947.90,807.92 948.10,808.33 948.31,808.72 948.51,809.09 948.72,809.43 948.93,809.75 949.13,810.05 949.34,810.31 949.54,810.54 949.75,810.73 949.95,810.89 950.16,811.01 950.36,811.09 950.57,811.13 950.78,811.13 950.98,811.09 951.19,811.01 951.39,810.89 951.60,810.74 951.80,810.54 952.01,810.31 952.22,810.04 952.42,809.74 952.63,809.40 952.83,809.04 953.04,808.65 953.24,808.24 953.45,807.81 953.65,807.36 953.86,806.89 954.07,806.42 954.27,805.94 954.48,805.45 954.68,804.97 954.89,804.49 955.09,804.01 955.30,803.55 955.51,803.11 955.71,802.69 955.92,802.29 956.12,801.92 956.33,801.57 956.53,801.27 956.74,801.00 956.95,800.77 957.15,800.59 957.36,800.45 957.56,800.36 957.77,800.32 957.97,800.34 958.18,800.41 958.38,800.54 958.59,800.72 958.80,800.96 959.00,801.26 959.21,801.62 959.41,802.03 959.62,802.50 959.82,803.03 960.03,803.62 960.24,804.26 960.44,804.95 960.65,805.68 960.85,806.47 961.06,807.30 961.26,808.17 961.47,809.08 961.67,810.02 961.88,811.00 962.09,811.99 962.29,813.02 962.50,814.06 962.70,815.11 962.91,816.17 963.11,817.23 963.32,818.30 963.53,819.36 963.73,820.41 963.94,821.44 964.14,822.45 964.35,823.44 964.55,824.40 964.76,825.33 964.96,826.22 965.17,827.06 965.38,827.86 965.58,828.61 965.79,829.31 965.99,829.95 966.20,830.53 966.40,831.04 966.61,831.50 966.82,831.88 967.02,832.20 967.23,832.45 967.43,832.62 967.64,832.72 967.84,832.75 968.05,832.71 968.25,832.59 968.46,832.40 968.67,832.14 968.87,831.81 969.08,831.41 969.28,830.94 969.49,830.41 969.69,829.82 969.90,829.17 970.11,828.46 970.31,827.70 970.52,826.89 970.72,826.04 970.93,825.14 971.13,824.21 971.34,823.24 971.54,822.24 971.75,821.22 971.96,820.18 972.16,819.12 972.37,818.05 972.57,816.97 972.78,815.89 972.98,814.82 973.19,813.74 973.40,812.68 973.60,811.64 973.81,810.61 974.01,809.61 974.22,808.63 974.42,807.68 974.63,806.76 974.84,805.88 975.04,805.04 975.25,804.23 975.45,803.47 975.66,802.76 975.86,802.09 976.07,801.46 976.27,800.89 976.48,800.36 976.69,799.88 976.89,799.45 977.10,799.07 977.30,798.74 977.51,798.45 977.71,798.21 977.92,798.01 978.13,797.86 978.33,797.75 978.54,797.68 978.74,797.64 978.95,797.64 979.15,797.67 979.36,797.73 979.56,797.82 979.77,797.93 979.98,798.05 980.18,798.20 980.39,798.36 980.59,798.53 980.80,798.71 981.00,798.89 981.21,799.07 981.42,799.25 981.62,799.43 981.83,799.60 982.03,799.76 982.24,799.91 982.44,800.04 982.65,800.16 982.85,800.26 983.06,800.34 983.27,800.39 983.47,800.43 983.68,800.44 983.88,800.43 984.09,800.39 984.29,800.33 984.50,800.25 984.71,800.14 984.91,800.01 985.12,799.86 985.32,799.69 985.53,799.50 985.73,799.29 985.94,799.07 986.14,798.83 986.35,798.59 986.56,798.33 986.76,798.07 986.97,797.82 987.17,797.56 987.38,797.30 987.58,797.06 987.79,796.83 988.00,796.61 988.20,796.41 988.41,796.23 988.61,796.07 988.82,795.95 989.02,795.86 989.23,795.80 989.44,795.78 989.64,795.81 989.85,795.88 990.05,795.99 990.26,796.16 990.46,796.38 990.67,796.65 990.87,796.98 991.08,797.36 991.29,797.80 991.49,798.30 991.70,798.87 991.90,799.49 992.11,800.17 992.31,800.91 992.52,801.72 992.73,802.58 992.93,803.49 993.14,804.46 993.34,805.49 993.55,806.56 993.75,807.69 993.96,808.85 994.16,810.06 994.37,811.31 994.58,812.59 994.78,813.90 994.99,815.24 995.19,816.60 995.40,817.98 995.60,819.36 995.81,820.76 996.02,822.16 996.22,823.55 996.43,824.94 996.63,826.31 996.84,827.66 997.04,828.99 997.25,830.29 997.45,831.56 997.66,832.78 997.87,833.96 998.07,835.09 998.28,836.17 998.48,837.19 998.69,838.15 998.89,839.04 999.10,839.86 999.31,840.60 999.51,841.27 999.72,841.86 999.92,842.37 1000.13,842.79 1000.33,843.13 1000.54,843.38 1000.74,843.54 1000.95,843.61 1001.16,843.60 1001.36,843.49 1001.57,843.29 1001.77,843.01 1001.98,842.64 1002.18,842.18 1002.39,841.64 1002.60,841.02 1002.80,840.32 1003.01,839.54 1003.21,838.69 1003.42,837.77 1003.62,836.78 1003.83,835.73 1004.04,834.63 1004.24,833.47 1004.45,832.26 1004.65,831.00 1004.86,829.71 1005.06,828.38 1005.27,827.02 1005.47,825.64 1005.68,824.24 1005.89,822.82 1006.09,821.39 1006.30,819.96 1006.50,818.53 1006.71,817.10 1006.91,815.68 1007.12,814.27 1007.33,812.89 1007.53,811.52 1007.74,810.18 1007.94,808.87 1008.15,807.59 1008.35,806.35 1008.56,805.15 1008.76,803.99 1008.97,802.87 1009.18,801.80 1009.38,800.77 1009.59,799.80 1009.79,798.87 1010.00,798.00 1010.20,797.18 1010.41,796.41 1010.62,795.69 1010.82,795.02 1011.03,794.41 1011.23,793.84 1011.44,793.32 1011.64,792.85 1011.85,792.43 1012.05,792.04 1012.26,791.70 1012.47,791.40 1012.67,791.14 1012.88,790.91 1013.08,790.72 1013.29,790.55 1013.49,790.42 1013.70,790.30 1013.91,790.21 1014.11,790.13 1014.32,790.08 1014.52,790.03 1014.73,790.00 1014.93,789.98 1015.14,789.96 1015.34,789.94 1015.55,789.93 1015.76,789.92 1015.96,789.90 1016.17,789.88 1016.37,789.86 1016.58,789.83 1016.78,789.79 1016.99,789.75 1017.20,789.70 1017.40,789.64 1017.61,789.57 1017.81,789.50 1018.02,789.41 1018.22,789.33 1018.43,789.23 1018.63,789.13 1018.84,789.03 1019.05,788.93 1019.25,788.83 1019.46,788.74 1019.66,788.65 1019.87,788.57 1020.07,788.50 1020.28,788.44 1020.49,788.40 1020.69,788.39 1020.90,788.39 1021.10,788.42 1021.31,788.48 1021.51,788.57 1021.72,788.69 1021.93,788.86 1022.13,789.06 1022.34,789.31 1022.54,789.61 1022.75,789.95 1022.95,790.35 1023.16,790.80 1023.36,791.31 1023.57,791.87 1023.78,792.50 1023.98,793.19 1024.19,793.93 1024.39,794.74 1024.60,795.62 1024.80,796.56 1025.01,797.56 1025.22,798.62 1025.42,799.75 1025.63,800.93 1025.83,802.18 1026.04,803.48 1026.24,804.84 1026.45,806.25 1026.65,807.72 1026.86,809.23 1027.07,810.78 1027.27,812.37 1027.48,814.00 1027.68,815.66 1027.89,817.35 1028.09,819.05 1028.30,820.78 1028.51,822.52 1028.71,824.26 1028.92,826.01 1029.12,827.75 1029.33,829.49 1029.53,831.21 1029.74,832.90 1029.94,834.57 1030.15,836.21 1030.36,837.81 1030.56,839.36 1030.77,840.87 1030.97,842.32 1031.18,843.70 1031.38,845.03 1031.59,846.28 1031.80,847.46 1032.00,848.56 1032.21,849.58 1032.41,850.51 1032.62,851.35 1032.82,852.09 1033.03,852.74 1033.23,853.29 1033.44,853.73 1033.65,854.08 1033.85,854.32 1034.06,854.45 1034.26,854.48 1034.47,854.40 1034.67,854.22 1034.88,853.93 1035.09,853.54 1035.29,853.04 1035.50,852.45 1035.70,851.75 1035.91,850.96 1036.11,850.07 1036.32,849.10 1036.53,848.04 1036.73,846.89 1036.94,845.67 1037.14,844.37 1037.35,843.00 1037.55,841.57 1037.76,840.08 1037.96,838.53 1038.17,836.93 1038.38,835.29 1038.58,833.60 1038.79,831.89 1038.99,830.14 1039.20,828.38 1039.40,826.59 1039.61,824.80 1039.82,823.00 1040.02,821.20 1040.23,819.40 1040.43,817.61 1040.64,815.83 1040.84,814.08 1041.05,812.34 1041.25,810.64 1041.46,808.96 1041.67,807.32 1041.87,805.72 1042.08,804.15 1042.28,802.64 1042.49,801.16 1042.69,799.74 1042.90,798.37 1043.11,797.05 1043.31,795.78 1043.52,794.57 1043.72,793.42 1043.93,792.32 1044.13,791.27 1044.34,790.28 1044.54,789.35 1044.75,788.47 1044.96,787.65 1045.16,786.88 1045.37,786.15 1045.57,785.48 1045.78,784.86 1045.98,784.28 1046.19,783.75 1046.40,783.26 1046.60,782.81 1046.81,782.40 1047.01,782.02 1047.22,781.67 1047.42,781.36 1047.63,781.07 1047.83,780.81 1048.04,780.58 1048.25,780.36 1048.45,780.17 1048.66,779.99 1048.86,779.83 1049.07,779.68 1049.27,779.55 1049.48,779.42 1049.69,779.31 1049.89,779.21 1050.10,779.11 1050.30,779.03 1050.51,778.95 1050.71,778.88 1050.92,778.82 1051.13,778.76 1051.33,778.72 1051.54,778.69 1051.74,778.67 1051.95,778.66 1052.15,778.66 1052.36,778.68 1052.56,778.72 1052.77,778.78 1052.98,778.86 1053.18,778.96 1053.39,779.09 1053.59,779.25 1053.80,779.44 1054.00,779.67 1054.21,779.93 1054.42,780.24 1054.62,780.58 1054.83,780.98 1055.03,781.42 1055.24,781.91 1055.44,782.45 1055.65,783.05 1055.85,783.71 1056.06,784.42 1056.27,785.20 1056.47,786.04 1056.68,786.95 1056.88,787.92 1057.09,788.96 1057.29,790.06 1057.50,791.24 1057.71,792.48 1057.91,793.79 1058.12,795.16 1058.32,796.61 1058.53,798.11 1058.73,799.68 1058.94,801.32 1059.14,803.01 1059.35,804.75 1059.56,806.55 1059.76,808.40 1059.97,810.30 1060.17,812.24 1060.38,814.22 1060.58,816.23 1060.79,818.28 1061.00,820.34 1061.20,822.43 1061.41,824.53 1061.61,826.64 1061.82,828.75 1062.02,830.86 1062.23,832.95 1062.43,835.04 1062.64,837.09 1062.85,839.13 1063.05,841.12 1063.26,843.08 1063.46,844.99 1063.67,846.85 1063.87,848.64 1064.08,850.38 1064.29,852.04 1064.49,853.62 1064.70,855.13 1064.90,856.54 1065.11,857.87 1065.31,859.10 1065.52,860.23 1065.73,861.25 1065.93,862.17 1066.14,862.98 1066.34,863.67 1066.55,864.25 1066.75,864.70 1066.96,865.04 1067.16,865.26 1067.37,865.35 1067.58,865.32 1067.78,865.17 1067.99,864.89 1068.19,864.50 1068.40,863.98 1068.60,863.35 1068.81,862.60 1069.02,861.74 1069.22,860.77 1069.43,859.68 1069.63,858.50 1069.84,857.21 1070.04,855.83 1070.25,854.36 1070.45,852.80 1070.66,851.16 1070.87,849.44 1071.07,847.66 1071.28,845.80 1071.48,843.89 1071.69,841.92 1071.89,839.91 1072.10,837.85 1072.31,835.76 1072.51,833.64 1072.72,831.49 1072.92,829.33 1073.13,827.16 1073.33,824.98 1073.54,822.79 1073.74,820.62 1073.95,818.45 1074.16,816.30 1074.36,814.17 1074.57,812.06 1074.77,809.99 1074.98,807.95 1075.18,805.94 1075.39,803.98 1075.60,802.06 1075.80,800.19 1076.01,798.37 1076.21,796.60 1076.42,794.89 1076.62,793.23 1076.83,791.63 1077.03,790.09 1077.24,788.62 1077.45,787.20 1077.65,785.84 1077.86,784.55 1078.06,783.31 1078.27,782.14 1078.47,781.03 1078.68,779.98 1078.89,778.98 1079.09,778.04 1079.30,777.16 1079.50,776.33 1079.71,775.55 1079.91,774.83 1080.12,774.15 1080.33,773.52 1080.53,772.93 1080.74,772.39 1080.94,771.88 1081.15,771.42 1081.35,770.99 1081.56,770.60 1081.76,770.24 1081.97,769.91 1082.18,769.61 1082.38,769.34 1082.59,769.10 1082.79,768.89 1083.00,768.70 1083.20,768.53 1083.41,768.39 1083.62,768.28 1083.82,768.19 1084.03,768.12 1084.23,768.08 1084.44,768.06 1084.64,768.07 1084.85,768.11 1085.05,768.17 1085.26,768.26 1085.47,768.39 1085.67,768.54 1085.88,768.73 1086.08,768.95 1086.29,769.21 1086.49,769.52 1086.70,769.86 1086.91,770.25 1087.11,770.68 1087.32,771.17 1087.52,771.70 1087.73,772.29 1087.93,772.94 1088.14,773.64 1088.34,774.40 1088.55,775.23 1088.76,776.12 1088.96,777.08 1089.17,778.11 1089.37,779.20 1089.58,780.37 1089.78,781.61 1089.99,782.92 1090.20,784.30 1090.40,785.76 1090.61,787.29 1090.81,788.89 1091.02,790.57 1091.22,792.32 1091.43,794.13 1091.63,796.02 1091.84,797.97 1092.05,799.98 1092.25,802.06 1092.46,804.19 1092.66,806.38 1092.87,808.62 1093.07,810.91 1093.28,813.24 1093.49,815.61 1093.69,818.01 1093.90,820.44 1094.10,822.89 1094.31,825.36 1094.51,827.84 1094.72,830.33 1094.92,832.81 1095.13,835.28 1095.34,837.74 1095.54,840.18 1095.75,842.59 1095.95,844.97 1096.16,847.31 1096.36,849.59 1096.57,851.83 1096.78,854.00 1096.98,856.10 1097.19,858.13 1097.39,860.08 1097.60,861.94 1097.80,863.71 1098.01,865.38 1098.22,866.95 1098.42,868.40 1098.63,869.75 1098.83,870.98 1099.04,872.09 1099.24,873.07 1099.45,873.92 1099.65,874.64 1099.86,875.23 1100.07,875.69 1100.27,876.00 1100.48,876.18 1100.68,876.22 1100.89,876.12 1101.09,875.88 1101.30,875.50 1101.51,874.99 1101.71,874.34 1101.92,873.55 1102.12,872.64 1102.33,871.59 1102.53,870.43 1102.74,869.14 1102.94,867.73 1103.15,866.21 1103.36,864.58 1103.56,862.85 1103.77,861.02 1103.97,859.09 1104.18,857.08 1104.38,854.99 1104.59,852.83 1104.80,850.59 1105.00,848.29 1105.21,845.94 1105.41,843.53 1105.62,841.09 1105.82,838.60 1106.03,836.09 1106.23,833.55 1106.44,831.00 1106.65,828.43 1106.85,825.86 1107.06,823.29 1107.26,820.73 1107.47,818.19 1107.67,815.66 1107.88,813.15 1108.09,810.67 1108.29,808.23 1108.50,805.82 1108.70,803.46 1108.91,801.14 1109.11,798.87 1109.32,796.65 1109.52,794.49 1109.73,792.38 1109.94,790.34 1110.14,788.36 1110.35,786.44 1110.55,784.59 1110.76,782.80 1110.96,781.09 1111.17,779.44 1111.38,777.85 1111.58,776.34 1111.79,774.89 1111.99,773.52 1112.20,772.20 1112.40,770.96 1112.61,769.78 1112.82,768.66 1113.02,767.61 1113.23,766.61 1113.43,765.68 1113.64,764.80 1113.84,763.99 1114.05,763.22 1114.25,762.51 1114.46,761.85 1114.67,761.24 1114.87,760.68 1115.08,760.17 1115.28,759.71 1115.49,759.28 1115.69,758.91 1115.90,758.57 1116.11,758.28 1116.31,758.03 1116.52,757.82 1116.72,757.65 1116.93,757.52 1117.13,757.43 1117.34,757.38 1117.54,757.37 1117.75,757.40 1117.96,757.47 1118.16,757.59 1118.37,757.75 1118.57,757.96 1118.78,758.22 1118.98,758.52 1119.19,758.87 1119.40,759.27 1119.60,759.73 1119.81,760.24 1120.01,760.81 1120.22,761.44 1120.42,762.13 1120.63,762.88 1120.83,763.70 1121.04,764.58 1121.25,765.54 1121.45,766.56 1121.66,767.66 1121.86,768.84 1122.07,770.08 1122.27,771.41 1122.48,772.81 1122.69,774.29 1122.89,775.86 1123.10,777.50 1123.30,779.22 1123.51,781.02 1123.71,782.90 1123.92,784.86 1124.12,786.90 1124.33,789.01 1124.54,791.20 1124.74,793.46 1124.95,795.79 1125.15,798.19 1125.36,800.65 1125.56,803.17 1125.77,805.75 1125.98,808.38 1126.18,811.06 1126.39,813.78 1126.59,816.54 1126.80,819.33 1127.00,822.15 1127.21,824.99 1127.42,827.85 1127.62,830.71 1127.83,833.58 1128.03,836.44 1128.24,839.29 1128.44,842.12 1128.65,844.92 1128.85,847.70 1129.06,850.43 1129.27,853.11 1129.47,855.74 1129.68,858.31 1129.88,860.81 1130.09,863.23 1130.29,865.56 1130.50,867.81 1130.71,869.96 1130.91,872.01 1131.12,873.95 1131.32,875.78 1131.53,877.48 1131.73,879.06 1131.94,880.51 1132.14,881.82 1132.35,883.00 1132.56,884.03 1132.76,884.92 1132.97,885.66 1133.17,886.24 1133.38,886.68 1133.58,886.96 1133.79,887.09 1134.00,887.06 1134.20,886.87 1134.41,886.53 1134.61,886.03 1134.82,885.39 1135.02,884.59 1135.23,883.64 1135.43,882.55 1135.64,881.31 1135.85,879.93 1136.05,878.42 1136.26,876.78 1136.46,875.02 1136.67,873.13 1136.87,871.13 1137.08,869.01 1137.29,866.80 1137.49,864.48 1137.70,862.08 1137.90,859.59 1138.11,857.02 1138.31,854.38 1138.52,851.68 1138.72,848.92 1138.93,846.11 1139.14,843.26 1139.34,840.37 1139.55,837.46 1139.75,834.52 1139.96,831.56 1140.16,828.60 1140.37,825.64 1140.58,822.68 1140.78,819.73 1140.99,816.80 1141.19,813.89 1141.40,811.01 1141.60,808.16 1141.81,805.36 1142.02,802.59 1142.22,799.87 1142.43,797.20 1142.63,794.59 1142.84,792.04 1143.04,789.54 1143.25,787.12 1143.45,784.76 1143.66,782.46 1143.87,780.24 1144.07,778.09 1144.28,776.02 1144.48,774.02 1144.69,772.09 1144.89,770.25 1145.10,768.47 1145.31,766.78 1145.51,765.16 1145.72,763.61 1145.92,762.14 1146.13,760.75 1146.33,759.42 1146.54,758.17 1146.74,756.99 1146.95,755.89 1147.16,754.85 1147.36,753.87 1147.57,752.97 1147.77,752.13 1147.98,751.35 1148.18,750.64 1148.39,749.98 1148.60,749.39 1148.80,748.86 1149.01,748.39 1149.21,747.97 1149.42,747.61 1149.62,747.31 1149.83,747.07 1150.03,746.88 1150.24,746.74 1150.45,746.67 1150.65,746.65 1150.86,746.69 1151.06,746.78 1151.27,746.94 1151.47,747.15 1151.68,747.43 1151.89,747.76 1152.09,748.16 1152.30,748.62 1152.50,749.15 1152.71,749.74 1152.91,750.41 1153.12,751.14 1153.32,751.95 1153.53,752.83 1153.74,753.79 1153.94,754.82 1154.15,755.93 1154.35,757.12 1154.56,758.40 1154.76,759.76 1154.97,761.20 1155.18,762.72 1155.38,764.34 1155.59,766.04 1155.79,767.83 1156.00,769.70 1156.20,771.67 1156.41,773.72 1156.61,775.86 1156.82,778.08 1157.03,780.39 1157.23,782.78 1157.44,785.26 1157.64,787.81 1157.85,790.44 1158.05,793.15 1158.26,795.92 1158.47,798.77 1158.67,801.67 1158.88,804.64 1159.08,807.66 1159.29,810.73 1159.49,813.84 1159.70,817.00 1159.91,820.18 1160.11,823.40 1160.32,826.63 1160.52,829.88 1160.73,833.13 1160.93,836.38 1161.14,839.63 1161.34,842.86 1161.55,846.07 1161.76,849.25 1161.96,852.39 1162.17,855.49 1162.37,858.53 1162.58,861.51 1162.78,864.42 1162.99,867.26 1163.20,870.01 1163.40,872.67 1163.61,875.23 1163.81,877.68 1164.02,880.03 1164.22,882.25 1164.43,884.35 1164.63,886.31 1164.84,888.14 1165.05,889.83 1165.25,891.36 1165.46,892.75 1165.66,893.98 1165.87,895.05 1166.07,895.95 1166.28,896.69 1166.49,897.27 1166.69,897.67 1166.90,897.90 1167.10,897.96 1167.31,897.85 1167.51,897.56 1167.72,897.11 1167.92,896.48 1168.13,895.69 1168.34,894.73 1168.54,893.60 1168.75,892.32 1168.95,890.88 1169.16,889.28 1169.36,887.54 1169.57,885.65 1169.78,883.63 1169.98,881.47 1170.19,879.19 1170.39,876.78 1170.60,874.26 1170.80,871.64 1171.01,868.91 1171.21,866.09 1171.42,863.18 1171.63,860.19 1171.83,857.14 1172.04,854.01 1172.24,850.84 1172.45,847.61 1172.65,844.34 1172.86,841.04 1173.07,837.71 1173.27,834.37 1173.48,831.01 1173.68,827.65 1173.89,824.29 1174.09,820.94 1174.30,817.60 1174.51,814.29 1174.71,811.01 1174.92,807.76 1175.12,804.54 1175.33,801.38 1175.53,798.26 1175.74,795.20 1175.94,792.19 1176.15,789.25 1176.36,786.37 1176.56,783.56 1176.77,780.82 1176.97,778.16 1177.18,775.58 1177.38,773.07 1177.59,770.64 1177.80,768.30 1178.00,766.04 1178.21,763.86 1178.41,761.77 1178.62,759.76 1178.82,757.84 1179.03,756.01 1179.23,754.26 1179.44,752.59 1179.65,751.01 1179.85,749.51 1180.06,748.10 1180.26,746.77 1180.47,745.52 1180.67,744.35 1180.88,743.26 1181.09,742.25 1181.29,741.31 1181.50,740.46 1181.70,739.68 1181.91,738.97 1182.11,738.34 1182.32,737.78 1182.52,737.30 1182.73,736.89 1182.94,736.55 1183.14,736.29 1183.35,736.09 1183.55,735.97 1183.76,735.93 1183.96,735.95 1184.17,736.05 1184.38,736.22 1184.58,736.47 1184.79,736.79 1184.99,737.19 1185.20,737.67 1185.40,738.23 1185.61,738.86 1185.81,739.58 1186.02,740.38 1186.23,741.26 1186.43,742.23 1186.64,743.29 1186.84,744.43 1187.05,745.67 1187.25,746.99 1187.46,748.41 1187.67,749.92 1187.87,751.52 1188.08,753.22 1188.28,755.01 1188.49,756.91 1188.69,758.89 1188.90,760.98 1189.11,763.16 1189.31,765.44 1189.52,767.81 1189.72,770.28 1189.93,772.84 1190.13,775.49 1190.34,778.23 1190.54,781.06 1190.75,783.98 1190.96,786.97 1191.16,790.05 1191.37,793.20 1191.57,796.42 1191.78,799.71 1191.98,803.06 1192.19,806.47 1192.40,809.93 1192.60,813.44 1192.81,816.99 1193.01,820.57 1193.22,824.18 1193.42,827.81 1193.63,831.45 1193.83,835.10 1194.04,838.74 1194.25,842.38 1194.45,846.00 1194.66,849.59 1194.86,853.15 1195.07,856.67 1195.27,860.14 1195.48,863.55 1195.69,866.89 1195.89,870.16 1196.10,873.34 1196.30,876.44 1196.51,879.43 1196.71,882.32 1196.92,885.09 1197.12,887.74 1197.33,890.26 1197.54,892.64 1197.74,894.88 1197.95,896.98 1198.15,898.91 1198.36,900.69 1198.56,902.31 1198.77,903.75 1198.98,905.02 1199.18,906.11 1199.39,907.02 1199.59,907.75 1199.80,908.29 1200.00,908.65 1200.21,908.82 1200.41,908.80 1200.62,908.59 1200.83,908.19 1201.03,907.61 1201.24,906.84 1201.44,905.88 1201.65,904.75 1201.85,903.43 1202.06,901.94 1202.27,900.29 1202.47,898.46 1202.68,896.47 1202.88,894.33 1203.09,892.04 1203.29,889.60 1203.50,887.02 1203.70,884.32 1203.91,881.49 1204.12,878.54 1204.32,875.48 1204.53,872.32 1204.73,869.06 1204.94,865.72 1205.14,862.30 1205.35,858.81 1205.56,855.26 1205.76,851.65 1205.97,847.99 1206.17,844.30 1206.38,840.58 1206.58,836.84 1206.79,833.08 1207.00,829.32 1207.20,825.56 1207.41,821.80 1207.61,818.06 1207.82,814.35 1208.02,810.66 1208.23,807.00 1208.43,803.39 1208.64,799.82 1208.85,796.31 1209.05,792.85 1209.26,789.45 1209.46,786.12 1209.67,782.86 1209.87,779.68 1210.08,776.57 1210.29,773.54 1210.49,770.60 1210.70,767.74 1210.90,764.97 1211.11,762.28 1211.31,759.69 1211.52,757.20 1211.72,754.79 1211.93,752.48 1212.14,750.27 1212.34,748.15 1212.55,746.13 1212.75,744.21 1212.96,742.38 1213.16,740.64 1213.37,739.00 1213.58,737.46 1213.78,736.01 1213.99,734.65 1214.19,733.39 1214.40,732.22 1214.60,731.14 1214.81,730.16 1215.01,729.26 1215.22,728.46 1215.43,727.74 1215.63,727.11 1215.84,726.57 1216.04,726.13 1216.25,725.76 1216.45,725.49 1216.66,725.31 1216.87,725.21 1217.07,725.21 1217.28,725.29 1217.48,725.46 1217.69,725.73 1217.89,726.08 1218.10,726.53 1218.30,727.06 1218.51,727.70 1218.72,728.42 1218.92,729.24 1219.13,730.16 1219.33,731.18 1219.54,732.30 1219.74,733.51 1219.95,734.83 1220.16,736.25 1220.36,737.77 1220.57,739.40 1220.77,741.13 1220.98,742.97 1221.18,744.91 1221.39,746.96 1221.60,749.12 1221.80,751.38 1222.01,753.75 1222.21,756.23 1222.42,758.81 1222.62,761.49 1222.83,764.28 1223.03,767.17 1223.24,770.16 1223.45,773.24 1223.65,776.42 1223.86,779.69 1224.06,783.05 1224.27,786.49 1224.47,790.02 1224.68,793.61 1224.89,797.28 1225.09,801.02 1225.30,804.82 1225.50,808.67 1225.71,812.57 1225.91,816.51 1226.12,820.49 1226.32,824.49 1226.53,828.52 1226.74,832.56 1226.94,836.61 1227.15,840.65 1227.35,844.68 1227.56,848.69 1227.76,852.68 1227.97,856.63 1228.18,860.53 1228.38,864.38 1228.59,868.16 1228.79,871.88 1229.00,875.51 1229.20,879.06 1229.41,882.50 1229.61,885.84 1229.82,889.06 1230.03,892.17 1230.23,895.14 1230.44,897.97 1230.64,900.65 1230.85,903.18 1231.05,905.56 1231.26,907.76 1231.47,909.80 1231.67,911.65 1231.88,913.33 1232.08,914.82 1232.29,916.11 1232.49,917.21 1232.70,918.12 1232.90,918.82 1233.11,919.32 1233.32,919.61 1233.52,919.70 1233.73,919.59 1233.93,919.27 1234.14,918.75 1234.34,918.02 1234.55,917.09 1234.76,915.96 1234.96,914.64 1235.17,913.12 1235.37,911.42 1235.58,909.53 1235.78,907.46 1235.99,905.22 1236.20,902.81 1236.40,900.24 1236.61,897.51 1236.81,894.63 1237.02,891.61 1237.22,888.46 1237.43,885.18 1237.63,881.78 1237.84,878.27 1238.05,874.66 1238.25,870.95 1238.46,867.16 1238.66,863.30 1238.87,859.36 1239.07,855.37 1239.28,851.33 1239.49,847.24 1239.69,843.12 1239.90,838.98 1240.10,834.82 1240.31,830.65 1240.51,826.48 1240.72,822.32 1240.92,818.18 1241.13,814.05 1241.34,809.96 1241.54,805.90 1241.75,801.89 1241.95,797.92 1242.16,794.01 1242.36,790.16 1242.57,786.38 1242.78,782.67 1242.98,779.03 1243.19,775.47 1243.39,771.99 1243.60,768.60 1243.80,765.30 1244.01,762.10 1244.21,758.99 1244.42,755.97 1244.63,753.06 1244.83,750.25 1245.04,747.54 1245.24,744.94 1245.45,742.44 1245.65,740.05 1245.86,737.77 1246.07,735.59 1246.27,733.52 1246.48,731.56 1246.68,729.71 1246.89,727.97 1247.09,726.33 1247.30,724.80 1247.50,723.37 1247.71,722.06 1247.92,720.85 1248.12,719.74 1248.33,718.74 1248.53,717.85 1248.74,717.06 1248.94,716.38 1249.15,715.80 1249.36,715.32 1249.56,714.95 1249.77,714.69 1249.97,714.53 1250.18,714.47 1250.38,714.52 1250.59,714.67 1250.80,714.93 1251.00,715.30 1251.21,715.77 1251.41,716.36 1251.62,717.05 1251.82,717.85 1252.03,718.76 1252.23,719.78 1252.44,720.91 1252.65,722.16 1252.85,723.52 1253.06,724.99 1253.26,726.58 1253.47,728.29 1253.67,730.11 1253.88,732.05 1254.09,734.11 1254.29,736.29 1254.50,738.58 1254.70,740.99 1254.91,743.52 1255.11,746.16 1255.32,748.92 1255.52,751.80 1255.73,754.78 1255.94,757.88 1256.14,761.09 1256.35,764.40 1256.55,767.82 1256.76,771.35 1256.96,774.97 1257.17,778.68 1257.38,782.48 1257.58,786.37 1257.79,790.34 1257.99,794.39 1258.20,798.51 1258.40,802.69 1258.61,806.93 1258.81,811.22 1259.02,815.56 1259.23,819.93 1259.43,824.34 1259.64,828.77 1259.84,833.21 1260.05,837.65 1260.25,842.10 1260.46,846.53 1260.67,850.94 1260.87,855.32 1261.08,859.66 1261.28,863.96 1261.49,868.19 1261.69,872.36 1261.90,876.46 1262.10,880.47 1262.31,884.38 1262.52,888.19 1262.72,891.88 1262.93,895.46 1263.13,898.90 1263.34,902.20 1263.54,905.36 1263.75,908.36 1263.96,911.20 1264.16,913.87 1264.37,916.36 1264.57,918.66 1264.78,920.78 1264.98,922.70 1265.19,924.42 1265.39,925.94 1265.60,927.25 1265.81,928.34 1266.01,929.22 1266.22,929.88 1266.42,930.33 1266.63,930.55 1266.83,930.55 1267.04,930.33 1267.25,929.88 1267.45,929.22 1267.66,928.33 1267.86,927.24 1268.07,925.92 1268.27,924.40 1268.48,922.67 1268.69,920.74 1268.89,918.60 1269.10,916.28 1269.30,913.77 1269.51,911.08 1269.71,908.22 1269.92,905.19 1270.12,902.00 1270.33,898.66 1270.54,895.17 1270.74,891.55 1270.95,887.81 1271.15,883.94 1271.36,879.97 1271.56,875.89 1271.77,871.73 1271.98,867.48 1272.18,863.16 1272.39,858.77 1272.59,854.33 1272.80,849.85 1273.00,845.33 1273.21,840.78 1273.41,836.22 1273.62,831.64 1273.83,827.07 1274.03,822.50 1274.24,817.95 1274.44,813.42 1274.65,808.92 1274.85,804.46 1275.06,800.05 1275.27,795.68 1275.47,791.38 1275.68,787.14 1275.88,782.97 1276.09,778.88 1276.29,774.86 1276.50,770.93 1276.70,767.09 1276.91,763.35 1277.12,759.70 1277.32,756.15 1277.53,752.71 1277.73,749.37 1277.94,746.15 1278.14,743.03 1278.35,740.03 1278.56,737.14 1278.76,734.37 1278.97,731.71 1279.17,729.18 1279.38,726.76 1279.58,724.46 1279.79,722.29 1279.99,720.23 1280.20,718.29 1280.41,716.48 1280.61,714.79 1280.82,713.21 1281.02,711.76 1281.23,710.43 1281.43,709.22 1281.64,708.13 1281.85,707.17 1282.05,706.32 1282.26,705.59 1282.46,704.98 1282.67,704.50 1282.87,704.13 1283.08,703.88 1283.29,703.76 1283.49,703.75 1283.70,703.87 1283.90,704.11 1284.11,704.47 1284.31,704.96 1284.52,705.56 1284.72,706.30 1284.93,707.15 1285.14,708.13 1285.34,709.24 1285.55,710.47 1285.75,711.83 1285.96,713.32 1286.16,714.94 1286.37,716.68 1286.58,718.56 1286.78,720.56 1286.99,722.70 1287.19,724.96 1287.40,727.35 1287.60,729.88 1287.81,732.53 1288.01,735.31 1288.22,738.21 1288.43,741.25 1288.63,744.40 1288.84,747.68 1289.04,751.08 1289.25,754.60 1289.45,758.24 1289.66,761.98 1289.87,765.84 1290.07,769.80 1290.28,773.87 1290.48,778.03 1290.69,782.28 1290.89,786.62 1291.10,791.04 1291.30,795.53 1291.51,800.10 1291.72,804.73 1291.92,809.41 1292.13,814.14 1292.33,818.91 1292.54,823.71 1292.74,828.54 1292.95,833.38 1293.16,838.23 1293.36,843.08 1293.57,847.92 1293.77,852.73 1293.98,857.51 1294.18,862.26 1294.39,866.95 1294.59,871.58 1294.80,876.14 1295.01,880.62 1295.21,885.02 1295.42,889.31 1295.62,893.49 1295.83,897.55 1296.03,901.49 1296.24,905.28 1296.45,908.93 1296.65,912.43 1296.86,915.76 1297.06,918.91 1297.27,921.89 1297.47,924.68 1297.68,927.27 1297.89,929.67 1298.09,931.85 1298.30,933.82 1298.50,935.58 1298.71,937.11 1298.91,938.42 1299.12,939.49 1299.32,940.34 1299.53,940.94 1299.74,941.31 1299.94,941.45 1300.15,941.34 1300.35,941.00 1300.56,940.42 1300.76,939.60 1300.97,938.55 1301.18,937.26 1301.38,935.75 1301.59,934.01 1301.79,932.06 1302.00,929.88 1302.20,927.50 1302.41,924.91 1302.61,922.12 1302.82,919.14 1303.03,915.98 1303.23,912.64 1303.44,909.13 1303.64,905.45 1303.85,901.63 1304.05,897.66 1304.26,893.56 1304.47,889.33 1304.67,884.98 1304.88,880.53 1305.08,875.98 1305.29,871.35 1305.49,866.63 1305.70,861.85 1305.90,857.01 1306.11,852.13 1306.32,847.20 1306.52,842.25 1306.73,837.28 1306.93,832.29 1307.14,827.31 1307.34,822.33 1307.55,817.37 1307.76,812.44 1307.96,807.53 1308.17,802.67 1308.37,797.86 1308.58,793.10 1308.78,788.40 1308.99,783.78 1309.19,779.23 1309.40,774.75 1309.61,770.37 1309.81,766.08 1310.02,761.88 1310.22,757.79 1310.43,753.80 1310.63,749.91 1310.84,746.14 1311.05,742.49 1311.25,738.96 1311.46,735.54 1311.66,732.25 1311.87,729.09 1312.07,726.05 1312.28,723.14 1312.49,720.36 1312.69,717.71 1312.90,715.20 1313.10,712.81 1313.31,710.57 1313.51,708.45 1313.72,706.47 1313.92,704.63 1314.13,702.92 1314.34,701.35 1314.54,699.91 1314.75,698.61 1314.95,697.44 1315.16,696.41 1315.36,695.51 1315.57,694.76 1315.78,694.13 1315.98,693.65 1316.19,693.30 1316.39,693.09 1316.60,693.01 1316.80,693.07 1317.01,693.27 1317.21,693.61 1317.42,694.09 1317.63,694.70 1317.83,695.46 1318.04,696.35 1318.24,697.38 1318.45,698.56 1318.65,699.88 1318.86,701.33 1319.07,702.93 1319.27,704.68 1319.48,706.56 1319.68,708.59 1319.89,710.76 1320.09,713.07 1320.30,715.53 1320.50,718.13 1320.71,720.86 1320.92,723.74 1321.12,726.76 1321.33,729.92 1321.53,733.21 1321.74,736.64 1321.94,740.20 1322.15,743.90 1322.36,747.72 1322.56,751.66 1322.77,755.73 1322.97,759.91 1323.18,764.21 1323.38,768.61 1323.59,773.12 1323.79,777.73 1324.00,782.44 1324.21,787.22 1324.41,792.10 1324.62,797.04 1324.82,802.05 1325.03,807.12 1325.23,812.25 1325.44,817.41 1325.65,822.62 1325.85,827.84 1326.06,833.09 1326.26,838.35 1326.47,843.60 1326.67,848.84 1326.88,854.06 1327.09,859.25 1327.29,864.40 1327.50,869.49 1327.70,874.53 1327.91,879.49 1328.11,884.37 1328.32,889.15 1328.52,893.83 1328.73,898.40 1328.94,902.84 1329.14,907.14 1329.35,911.31 1329.55,915.31 1329.76,919.16 1329.96,922.83 1330.17,926.32 1330.38,929.62 1330.58,932.72 1330.79,935.62 1330.99,938.30 1331.20,940.77 1331.40,943.01 1331.61,945.02 1331.81,946.79 1332.02,948.32 1332.23,949.61 1332.43,950.65 1332.64,951.45 1332.84,951.98 1333.05,952.27 1333.25,952.30 1333.46,952.07 1333.67,951.60 1333.87,950.86 1334.08,949.88 1334.28,948.64 1334.49,947.16 1334.69,945.44 1334.90,943.48 1335.10,941.28 1335.31,938.85 1335.52,936.21 1335.72,933.34 1335.93,930.26 1336.13,926.98 1336.34,923.51 1336.54,919.84 1336.75,916.00 1336.96,911.99 1337.16,907.82 1337.37,903.49 1337.57,899.02 1337.78,894.42 1337.98,889.70 1338.19,884.86 1338.39,879.93 1338.60,874.90 1338.81,869.79 1339.01,864.61 1339.22,859.36 1339.42,854.07 1339.63,848.74 1339.83,843.37 1340.04,837.99 1340.25,832.60 1340.45,827.20 1340.66,821.82 1340.86,816.45 1341.07,811.11 1341.27,805.80 1341.48,800.54 1341.68,795.33 1341.89,790.18 1342.10,785.09 1342.30,780.08 1342.51,775.15 1342.71,770.31 1342.92,765.56 1343.12,760.90 1343.33,756.35 1343.54,751.91 1343.74,747.59 1343.95,743.38 1344.15,739.29 1344.36,735.33 1344.56,731.49 1344.77,727.79 1344.98,724.22 1345.18,720.79 1345.39,717.49 1345.59,714.34 1345.80,711.33 1346.00,708.46 1346.21,705.73 1346.41,703.16 1346.62,700.73 1346.83,698.45 1347.03,696.31 1347.24,694.33 1347.44,692.50 1347.65,690.81 1347.85,689.28 1348.06,687.90 1348.27,686.67 1348.47,685.59 1348.68,684.66 1348.88,683.88 1349.09,683.26 1349.29,682.79 1349.50,682.47 1349.70,682.31 1349.91,682.29 1350.12,682.44 1350.32,682.73 1350.53,683.18 1350.73,683.79 1350.94,684.54 1351.14,685.46 1351.35,686.53 1351.56,687.76 1351.76,689.14 1351.97,690.68 1352.17,692.37 1352.38,694.22 1352.58,696.23 1352.79,698.40 1352.99,700.72 1353.20,703.19 1353.41,705.83 1353.61,708.61 1353.82,711.56 1354.02,714.65 1354.23,717.90 1354.43,721.29 1354.64,724.83 1354.85,728.52 1355.05,732.36 1355.26,736.33 1355.46,740.44 1355.67,744.69 1355.87,749.06 1356.08,753.56 1356.28,758.19 1356.49,762.93 1356.70,767.78 1356.90,772.74 1357.11,777.80 1357.31,782.96 1357.52,788.20 1357.72,793.52 1357.93,798.91 1358.14,804.37 1358.34,809.88 1358.55,815.44 1358.75,821.04 1358.96,826.68 1359.16,832.33 1359.37,837.99 1359.58,843.65 1359.78,849.30 1359.99,854.93 1360.19,860.53 1360.40,866.09 1360.60,871.59 1360.81,877.03 1361.01,882.40 1361.22,887.68 1361.43,892.87 1361.63,897.94 1361.84,902.90 1362.04,907.73 1362.25,912.41 1362.45,916.95 1362.66,921.33 1362.87,925.53 1363.07,929.56 1363.28,933.40 1363.48,937.03 1363.69,940.46 1363.89,943.68 1364.10,946.67 1364.30,949.43 1364.51,951.95 1364.72,954.23 1364.92,956.27 1365.13,958.04 1365.33,959.57 1365.54,960.82 1365.74,961.82 1365.95,962.54 1366.16,963.00 1366.36,963.18 1366.57,963.10 1366.77,962.74 1366.98,962.11 1367.18,961.22 1367.39,960.05 1367.59,958.62 1367.80,956.93 1368.01,954.98 1368.21,952.78 1368.42,950.33 1368.62,947.64 1368.83,944.72 1369.03,941.56 1369.24,938.19 1369.45,934.59 1369.65,930.80 1369.86,926.80 1370.06,922.62 1370.27,918.26 1370.47,913.73 1370.68,909.04 1370.88,904.20 1371.09,899.22 1371.30,894.11 1371.50,888.89 1371.71,883.56 1371.91,878.13 1372.12,872.62 1372.32,867.03 1372.53,861.38 1372.74,855.68 1372.94,849.93 1373.15,844.16 1373.35,838.36 1373.56,832.56 1373.76,826.75 1373.97,820.96 1374.18,815.18 1374.38,809.43 1374.59,803.72 1374.79,798.06 1375.00,792.46 1375.20,786.91 1375.41,781.44 1375.61,776.05 1375.82,770.75 1376.03,765.53 1376.23,760.42 1376.44,755.41 1376.64,750.52 1376.85,745.74 1377.05,741.08 1377.26,736.55 1377.47,732.15 1377.67,727.89 1377.88,723.76 1378.08,719.78 1378.29,715.94 1378.49,712.24 1378.70,708.70 1378.90,705.31 1379.11,702.08 1379.32,699.00 1379.52,696.08 1379.73,693.32 1379.93,690.72 1380.14,688.28 1380.34,686.01 1380.55,683.90 1380.76,681.95 1380.96,680.17 1381.17,678.56 1381.37,677.11 1381.58,675.83 1381.78,674.71 1381.99,673.76 1382.19,672.98 1382.40,672.37 1382.61,671.93 1382.81,671.66 1383.02,671.55 1383.22,671.62 1383.43,671.85 1383.63,672.26 1383.84,672.83 1384.05,673.58 1384.25,674.49 1384.46,675.58 1384.66,676.84 1384.87,678.27 1385.07,679.87 1385.28,681.65 1385.48,683.59 1385.69,685.71 1385.90,687.99 1386.10,690.45 1386.31,693.07 1386.51,695.87 1386.72,698.83 1386.92,701.96 1387.13,705.26 1387.34,708.72 1387.54,712.34 1387.75,716.12 1387.95,720.05 1388.16,724.15 1388.36,728.39 1388.57,732.78 1388.78,737.32 1388.98,741.99 1389.19,746.81 1389.39,751.75 1389.60,756.82 1389.80,762.01 1390.01,767.31 1390.21,772.72 1390.42,778.23 1390.63,783.84 1390.83,789.53 1391.04,795.30 1391.24,801.14 1391.45,807.05 1391.65,813.00 1391.86,819.00 1392.07,825.03 1392.27,831.09 1392.48,837.15 1392.68,843.23 1392.89,849.29 1393.09,855.33 1393.30,861.34 1393.50,867.32 1393.71,873.24 1393.92,879.09 1394.12,884.87 1394.33,890.56 1394.53,896.15 1394.74,901.63 1394.94,906.99 1395.15,912.21 1395.36,917.29 1395.56,922.21 1395.77,926.97 1395.97,931.55 1396.18,935.94 1396.38,940.14 1396.59,944.12 1396.79,947.89 1397.00,951.44 1397.21,954.75 1397.41,957.83 1397.62,960.65 1397.82,963.22 1398.03,965.53 1398.23,967.57 1398.44,969.34 1398.65,970.83 1398.85,972.04 1399.06,972.97 1399.26,973.62 1399.47,973.98 1399.67,974.05 1399.88,973.83 1400.08,973.33 1400.29,972.54 1400.50,971.46 1400.70,970.11 1400.91,968.47 1401.11,966.56 1401.32,964.37 1401.52,961.92 1401.73,959.21 1401.94,956.24 1402.14,953.03 1402.35,949.57 1402.55,945.89 1402.76,941.97 1402.96,937.85 1403.17,933.51 1403.37,928.98 1403.58,924.26 1403.79,919.36 1403.99,914.30 1404.20,909.08 1404.40,903.72 1404.61,898.22 1404.81,892.60 1405.02,886.87 1405.23,881.04 1405.43,875.12 1405.64,869.12 1405.84,863.06 1406.05,856.94 1406.25,850.79 1406.46,844.60 1406.67,838.39 1406.87,832.17 1407.08,825.95 1407.28,819.75 1407.49,813.56 1407.69,807.41 1407.90,801.30 1408.10,795.24 1408.31,789.24 1408.52,783.31 1408.72,777.46 1408.93,771.69 1409.13,766.02 1409.34,760.44 1409.54,754.97 1409.75,749.61 1409.96,744.38 1410.16,739.27 1410.37,734.29 1410.57,729.44 1410.78,724.74 1410.98,720.18 1411.19,715.77 1411.39,711.51 1411.60,707.41 1411.81,703.47 1412.01,699.69 1412.22,696.08 1412.42,692.63 1412.63,689.35 1412.83,686.25 1413.04,683.31 1413.25,680.56 1413.45,677.97 1413.66,675.57 1413.86,673.34 1414.07,671.30 1414.27,669.43 1414.48,667.75 1414.68,666.24 1414.89,664.92 1415.10,663.79 1415.30,662.83 1415.51,662.06 1415.71,661.48 1415.92,661.08 1416.12,660.86 1416.33,660.83 1416.54,660.99 1416.74,661.33 1416.95,661.85 1417.15,662.57 1417.36,663.47 1417.56,664.56 1417.77,665.83 1417.97,667.29 1418.18,668.94 1418.39,670.77 1418.59,672.79 1418.80,675.00 1419.00,677.39 1419.21,679.97 1419.41,682.73 1419.62,685.67 1419.83,688.79 1420.03,692.09 1420.24,695.58 1420.44,699.23 1420.65,703.07 1420.85,707.07 1421.06,711.24 1421.27,715.58 1421.47,720.09 1421.68,724.75 1421.88,729.56 1422.09,734.53 1422.29,739.64 1422.50,744.90 1422.70,750.29 1422.91,755.80 1423.12,761.44 1423.32,767.20 1423.53,773.06 1423.73,779.03 1423.94,785.09 1424.14,791.23 1424.35,797.45 1424.56,803.74 1424.76,810.09 1424.97,816.48 1425.17,822.91 1425.38,829.37 1425.58,835.85 1425.79,842.33 1425.99,848.80 1426.20,855.26 1426.41,861.69 1426.61,868.08 1426.82,874.42 1427.02,880.69 1427.23,886.88 1427.43,892.99 1427.64,899.00 1427.85,904.89 1428.05,910.65 1428.26,916.28 1428.46,921.76 1428.67,927.08 1428.87,932.23 1429.08,937.19 1429.28,941.96 1429.49,946.53 1429.70,950.88 1429.90,955.00 1430.11,958.90 1430.31,962.55 1430.52,965.94 1430.72,969.08 1430.93,971.95 1431.14,974.55 1431.34,976.87 1431.55,978.91 1431.75,980.65 1431.96,982.11 1432.16,983.26 1432.37,984.12 1432.57,984.67 1432.78,984.92 1432.99,984.86 1433.19,984.50 1433.40,983.84 1433.60,982.87 1433.81,981.60 1434.01,980.04 1434.22,978.18 1434.43,976.03 1434.63,973.60 1434.84,970.88 1435.04,967.90 1435.25,964.64 1435.45,961.13 1435.66,957.37 1435.87,953.36 1436.07,949.11 1436.28,944.65 1436.48,939.96 1436.69,935.07 1436.89,929.99 1437.10,924.72 1437.30,919.27 1437.51,913.67 1437.72,907.91 1437.92,902.02 1438.13,896.00 1438.33,889.86 1438.54,883.62 1438.74,877.29 1438.95,870.88 1439.16,864.40 1439.36,857.87 1439.57,851.30 1439.77,844.69 1439.98,838.07 1440.18,831.44 1440.39,824.81 1440.59,818.19 1440.80,811.60 1441.01,805.05 1441.21,798.54 1441.42,792.08 1441.62,785.69 1441.83,779.38 1442.03,773.14 1442.24,767.00 1442.45,760.96 1442.65,755.02 1442.86,749.20 1443.06,743.50 1443.27,737.93 1443.47,732.50 1443.68,727.20 1443.88,722.05 1444.09,717.05 1444.30,712.20 1444.50,707.52 1444.71,703.00 1444.91,698.64 1445.12,694.46 1445.32,690.46 1445.53,686.63 1445.74,682.98 1445.94,679.51 1446.15,676.23 1446.35,673.14 1446.56,670.24 1446.76,667.52 1446.97,665.00 1447.17,662.67 1447.38,660.54 1447.59,658.60 1447.79,656.86 1448.00,655.31 1448.20,653.97 1448.41,652.82 1448.61,651.88 1448.82,651.13 1449.03,650.58 1449.23,650.24 1449.44,650.09 1449.64,650.15 1449.85,650.41 1450.05,650.87 1450.26,651.54 1450.47,652.40 1450.67,653.47 1450.88,654.74 1451.08,656.22 1451.29,657.89 1451.49,659.77 1451.70,661.85 1451.90,664.13 1452.11,666.61 1452.32,669.29 1452.52,672.16 1452.73,675.24 1452.93,678.50 1453.14,681.97 1453.34,685.62 1453.55,689.46 1453.76,693.49 1453.96,697.71 1454.17,702.11 1454.37,706.68 1454.58,711.43 1454.78,716.35 1454.99,721.44 1455.19,726.68 1455.40,732.09 1455.61,737.64 1455.81,743.34 1456.02,749.18 1456.22,755.15 1456.43,761.24 1456.63,767.45 1456.84,773.77 1457.05,780.19 1457.25,786.70 1457.46,793.30 1457.66,799.97 1457.87,806.70 1458.07,813.49 1458.28,820.32 1458.48,827.18 1458.69,834.06 1458.90,840.96 1459.10,847.84 1459.31,854.72 1459.51,861.57 1459.72,868.38 1459.92,875.13 1460.13,881.83 1460.34,888.44 1460.54,894.97 1460.75,901.40 1460.95,907.71 1461.16,913.89 1461.36,919.93 1461.57,925.82 1461.77,931.55 1461.98,937.09 1462.19,942.45 1462.39,947.61 1462.60,952.56 1462.80,957.29 1463.01,961.78 1463.21,966.03 1463.42,970.03 1463.63,973.77 1463.83,977.24 1464.04,980.43 1464.24,983.34 1464.45,985.95 1464.65,988.27 1464.86,990.28 1465.06,991.99 1465.27,993.39 1465.48,994.47 1465.68,995.23 1465.89,995.68 1466.09,995.80 1466.30,995.60 1466.50,995.08 1466.71,994.25 1466.92,993.09 1467.12,991.62 1467.33,989.83 1467.53,987.74 1467.74,985.35 1467.94,982.65 1468.15,979.66 1468.36,976.39 1468.56,972.84 1468.77,969.02 1468.97,964.93 1469.18,960.59 1469.38,956.01 1469.59,951.19 1469.79,946.15 1470.00,940.89 1470.21,935.43 1470.41,929.78 1470.62,923.95 1470.82,917.95 1471.03,911.80 1471.23,905.50 1471.44,899.07 1471.65,892.52 1471.85,885.87 1472.06,879.13 1472.26,872.30 1472.47,865.41 1472.67,858.46 1472.88,851.47 1473.08,844.44 1473.29,837.40 1473.50,830.36 1473.70,823.31 1473.91,816.29 1474.11,809.29 1474.32,802.34 1474.52,795.43 1474.73,788.58 1474.94,781.80 1475.14,775.11 1475.35,768.50 1475.55,761.99 1475.76,755.58 1475.96,749.29 1476.17,743.13 1476.37,737.09 1476.58,731.19 1476.79,725.43 1476.99,719.83 1477.20,714.38 1477.40,709.09 1477.61,703.97 1477.81,699.02 1478.02,694.24 1478.23,689.65 1478.43,685.23 1478.64,681.01 1478.84,676.98 1479.05,673.14 1479.25,669.50 1479.46,666.05 1479.66,662.81 1479.87,659.77 1480.08,656.94 1480.28,654.31 1480.49,651.89 1480.69,649.68 1480.90,647.69 1481.10,645.90 1481.31,644.33 1481.52,642.97 1481.72,641.83 1481.93,640.90 1482.13,640.19 1482.34,639.70 1482.54,639.42 1482.75,639.36 1482.96,639.52 1483.16,639.90 1483.37,640.49 1483.57,641.31 1483.78,642.34 1483.98,643.59 1484.19,645.06 1484.39,646.75 1484.60,648.65 1484.81,650.77 1485.01,653.10 1485.22,655.66 1485.42,658.42 1485.63,661.40 1485.83,664.59 1486.04,667.98 1486.25,671.59 1486.45,675.40 1486.66,679.42 1486.86,683.63 1487.07,688.04 1487.27,692.65 1487.48,697.45 1487.68,702.43 1487.89,707.60 1488.10,712.94 1488.30,718.46 1488.51,724.14 1488.71,729.98 1488.92,735.99 1489.12,742.13 1489.33,748.42 1489.54,754.85 1489.74,761.40 1489.95,768.06 1490.15,774.84 1490.36,781.72 1490.56,788.69 1490.77,795.73 1490.97,802.85 1491.18,810.03 1491.39,817.25 1491.59,824.52 1491.80,831.80 1492.00,839.11 1492.21,846.41 1492.41,853.70 1492.62,860.97 1492.83,868.20 1493.03,875.38 1493.24,882.50 1493.44,889.54 1493.65,896.50 1493.85,903.35 1494.06,910.08 1494.26,916.69 1494.47,923.15 1494.68,929.46 1494.88,935.60 1495.09,941.55 1495.29,947.32 1495.50,952.88 1495.70,958.22 1495.91,963.33 1496.12,968.21 1496.32,972.83 1496.53,977.19 1496.73,981.29 1496.94,985.10 1497.14,988.63 1497.35,991.86 1497.56,994.78 1497.76,997.40 1497.97,999.70 1498.17,1001.68 1498.38,1003.34 1498.58,1004.67 1498.79,1005.66 1498.99,1006.32 1499.20,1006.64 1499.41,1006.62 1499.61,1006.27 1499.82,1005.58 1500.02,1004.56 1500.23,1003.20 1500.43,1001.51 1500.64,999.49 1500.85,997.15 1501.05,994.50 1501.26,991.53 1501.46,988.25 1501.67,984.68 1501.87,980.82 1502.08,976.68 1502.28,972.26 1502.49,967.58 1502.70,962.65 1502.90,957.47 1503.11,952.06 1503.31,946.43 1503.52,940.59 1503.72,934.55 1503.93,928.32 1504.14,921.92 1504.34,915.37 1504.55,908.66 1504.75,901.82 1504.96,894.86 1505.16,887.79 1505.37,880.63 1505.57,873.38 1505.78,866.07 1505.99,858.70 1506.19,851.29 1506.40,843.84 1506.60,836.39 1506.81,828.93 1507.01,821.47 1507.22,814.04 1507.43,806.64 1507.63,799.28 1507.84,791.98 1508.04,784.74 1508.25,777.58 1508.45,770.50 1508.66,763.52 1508.86,756.65 1509.07,749.89 1509.28,743.25 1509.48,736.74 1509.69,730.38 1509.89,724.15 1510.10,718.09 1510.30,712.18 1510.51,706.44 1510.72,700.87 1510.92,695.48 1511.13,690.27 1511.33,685.25 1511.54,680.42 1511.74,675.79 1511.95,671.36 1512.15,667.13 1512.36,663.11 1512.57,659.30 1512.77,655.71 1512.98,652.33 1513.18,649.17 1513.39,646.22 1513.59,643.50 1513.80,641.01 1514.01,638.74 1514.21,636.69 1514.42,634.88 1514.62,633.29 1514.83,631.94 1515.03,630.81 1515.24,629.92 1515.45,629.26 1515.65,628.83 1515.86,628.64 1516.06,628.68 1516.27,628.95 1516.47,629.46 1516.68,630.20 1516.88,631.18 1517.09,632.39 1517.30,633.84 1517.50,635.52 1517.71,637.43 1517.91,639.57 1518.12,641.94 1518.32,644.55 1518.53,647.38 1518.74,650.45 1518.94,653.73 1519.15,657.24 1519.35,660.98 1519.56,664.93 1519.76,669.10 1519.97,673.49 1520.17,678.08 1520.38,682.89 1520.59,687.89 1520.79,693.10 1521.00,698.50 1521.20,704.09 1521.41,709.86 1521.61,715.81 1521.82,721.94 1522.03,728.23 1522.23,734.68 1522.44,741.28 1522.64,748.03 1522.85,754.91 1523.05,761.92 1523.26,769.04 1523.46,776.28 1523.67,783.61 1523.88,791.03 1524.08,798.53 1524.29,806.09 1524.49,813.71 1524.70,821.37 1524.90,829.07 1525.11,836.78 1525.32,844.49 1525.52,852.20 1525.73,859.89 1525.93,867.55 1526.14,875.16 1526.34,882.70 1526.55,890.18 1526.75,897.56 1526.96,904.84 1527.17,912.00 1527.37,919.04 1527.58,925.93 1527.78,932.66 1527.99,939.22 1528.19,945.60 1528.40,951.78 1528.61,957.75 1528.81,963.50 1529.02,969.01 1529.22,974.27 1529.43,979.28 1529.63,984.02 1529.84,988.48 1530.05,992.66 1530.25,996.53 1530.46,1000.10 1530.66,1003.35 1530.87,1006.29 1531.07,1008.89 1531.28,1011.17 1531.48,1013.10 1531.69,1014.69 1531.90,1015.93 1532.10,1016.82 1532.31,1017.36 1532.51,1017.55 1532.72,1017.38 1532.92,1016.86 1533.13,1015.98 1533.34,1014.75 1533.54,1013.18 1533.75,1011.26 1533.95,1009.00 1534.16,1006.40 1534.36,1003.47 1534.57,1000.22 1534.77,996.65 1534.98,992.77 1535.19,988.59 1535.39,984.11 1535.60,979.35 1535.80,974.32 1536.01,969.03 1536.21,963.48 1536.42,957.70 1536.63,951.68 1536.83,945.45 1537.04,939.02 1537.24,932.39 1537.45,925.59 1537.65,918.62 1537.86,911.50 1538.06,904.24 1538.27,896.86 1538.48,889.37 1538.68,881.79 1538.89,874.12 1539.09,866.38 1539.30,858.59 1539.50,850.76 1539.71,842.90 1539.92,835.02 1540.12,827.15 1540.33,819.28 1540.53,811.44 1540.74,803.64 1540.94,795.88 1541.15,788.19 1541.35,780.56 1541.56,773.02 1541.77,765.57 1541.97,758.22 1542.18,750.99 1542.38,743.88 1542.59,736.90 1542.79,730.05 1543.00,723.36"/>
<path class="ax" d="M926.10 585.80V1017.90H1543.00M926.10 585.85h7.20M926.10 693.85h7.20M926.10 801.85h7.20M926.10 909.85h7.20M926.10 1017.85h7.20M1131.73 1017.90v-7.20M1337.37 1017.90v-7.20M1543.00 1017.90v-7.20"/>
<text class="tk" text-anchor="end" x="917.60" y="594.95">0.02</text>
<text class="tk" text-anchor="end" x="917.60" y="702.95">0.01</text>
<text class="tk" text-anchor="end" x="917.60" y="810.95">0</text>
<text class="tk" text-anchor="end" x="917.60" y="918.95">–0.01</text>
<text class="tk" text-anchor="end" x="917.60" y="1026.95">–0.02</text>
<text class="tk" text-anchor="middle" x="925.60" y="1052.20">0</text>
<text class="tk" text-anchor="middle" x="1131.73" y="1052.20">5</text>
<text class="tk" text-anchor="middle" x="1337.37" y="1052.20">10</text>
<text class="tk" text-anchor="middle" x="1542.20" y="1052.20">15</text>
<text class="pl" x="14.20" y="32.70">(<tspan class="i" dx="0">a</tspan><tspan dx="0">)</tspan></text>
<text class="pl" x="804.00" y="33.20">(<tspan class="i" dx="0">b</tspan><tspan dx="0">)</tspan></text>
<text class="pl" x="14.40" y="587.40">(<tspan class="i" dx="0">c</tspan><tspan dx="0">)</tspan></text>
<text class="pl" x="802.00" y="587.40">(<tspan class="i" dx="1">d</tspan><tspan dx="3">)</tspan></text>
<text class="al" text-anchor="middle" x="445.50" y="1096.2"><tspan class="i">t</tspan><tspan dx="-2"> (s)</tspan></text>
<text class="al" text-anchor="middle" x="1235.50" y="1096.2"><tspan class="i">t</tspan><tspan dx="-2"> (s)</tspan></text>
<text class="al" text-anchor="middle" transform="translate(34.80,242.40) rotate(-90)"><tspan class="i">x</tspan><tspan class="i" dy="9.5" font-size="32">p</tspan><tspan dy="-9.5" dx="-3"> (m)</tspan></text>
<text class="al" text-anchor="middle" transform="translate(833.60,242.20) rotate(-90)"><tspan class="i">z</tspan><tspan class="i" dy="9.5" font-size="32">p</tspan><tspan dy="-9.5" dx="-3"> (m)</tspan></text>
<text class="al" text-anchor="middle" transform="translate(34.80,792.50) rotate(-90)"><tspan class="i">τ</tspan><tspan class="i" dy="9.5" font-size="32">p</tspan><tspan dy="-9.5" dx="-3"> (m)</tspan></text>
<text class="al" text-anchor="middle" transform="translate(833.60,793.20) rotate(-90)"><tspan class="i">n</tspan><tspan class="i" dy="9.5" font-size="32">p</tspan><tspan dy="-9.5" dx="-3"> (m)</tspan></text>
</svg></body></html>
